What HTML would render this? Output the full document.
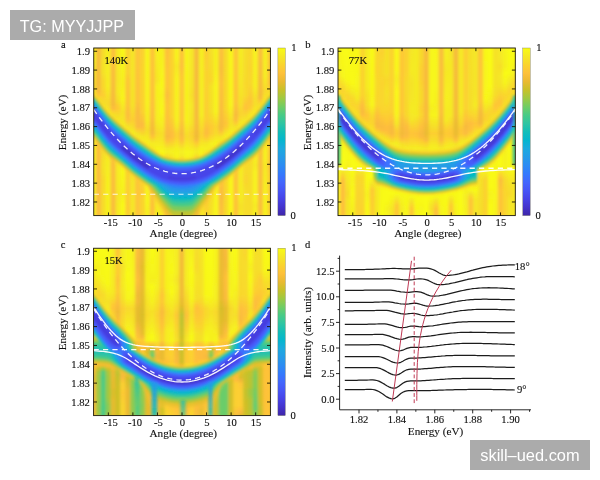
<!DOCTYPE html>
<html><head><meta charset="utf-8"><title>figure</title>
<style>
html,body{margin:0;padding:0;background:#fff;}
body{width:600px;height:480px;position:relative;overflow:hidden;}
svg{position:absolute;left:0;top:0;display:block;}
.t{font-family:"Liberation Serif",serif;font-size:10.6px;fill:#111;stroke:#111;stroke-width:.13px;}
.l{font-family:"Liberation Serif",serif;font-size:11.2px;fill:#111;stroke:#111;stroke-width:.12px;}
.dw{stroke:#fff;stroke-width:1.3;fill:none;stroke-dasharray:5.2 4.2;opacity:.92;}
.sw{stroke:#fff;stroke-width:1.3;fill:none;opacity:.95;}
.k{stroke:#1c1c1c;stroke-width:1.25;fill:none;stroke-linejoin:round;}
.r{stroke:#c03a55;stroke-width:1;fill:none;}
.wm{position:absolute;background:#ababab;color:#fff;font-family:"Liberation Sans",sans-serif;white-space:nowrap;}
#w1{left:10px;top:10px;width:125px;height:30px;font-size:16.2px;line-height:30px;}
#w1 span{position:absolute;left:9.7px;top:0.5px;}
#w2{left:470px;top:440px;width:120px;height:30px;font-size:16.4px;line-height:30px;}
#w2 span{position:absolute;left:10.3px;top:0px;}
</style></head><body>
<svg width="600" height="480" viewBox="0 0 600 480">
<defs><linearGradient id="cbar" x1="0" y1="0" x2="0" y2="1"><stop offset="0" stop-color="#f9fb15"/><stop offset="0.05" stop-color="#f5e825"/><stop offset="0.1" stop-color="#fad42e"/><stop offset="0.15" stop-color="#fec13a"/><stop offset="0.2" stop-color="#eaba31"/><stop offset="0.25" stop-color="#c8c129"/><stop offset="0.3" stop-color="#9fc942"/><stop offset="0.35" stop-color="#71cd64"/><stop offset="0.4" stop-color="#48cb86"/><stop offset="0.45" stop-color="#2fc5a2"/><stop offset="0.5" stop-color="#12beb9"/><stop offset="0.55" stop-color="#05b6ce"/><stop offset="0.6" stop-color="#1caadf"/><stop offset="0.65" stop-color="#259ce7"/><stop offset="0.7" stop-color="#2d8cf3"/><stop offset="0.75" stop-color="#347afd"/><stop offset="0.8" stop-color="#4367fd"/><stop offset="0.85" stop-color="#4755f6"/><stop offset="0.9" stop-color="#4743e7"/><stop offset="0.95" stop-color="#4433cc"/><stop offset="1" stop-color="#3e26a8"/></linearGradient>
<filter id="hb" x="-5%" y="-5%" width="110%" height="110%"><feGaussianBlur stdDeviation="1.5 0.6"/></filter><filter id="pb" x="-5%" y="-5%" width="110%" height="110%"><feGaussianBlur stdDeviation="0.9"/></filter><filter id="sb" x="-20%" y="-5%" width="140%" height="110%"><feGaussianBlur stdDeviation="1.6 1.2"/></filter></defs>
<defs><linearGradient id="a0" x1="0" y1="0" x2="0" y2="1"><stop offset="0" stop-color="#f7f41c"/><stop offset="0.06" stop-color="#f7f41c"/><stop offset="0.13" stop-color="#f5e924"/><stop offset="0.21" stop-color="#f7db2b"/><stop offset="0.32" stop-color="#f6f21d"/><stop offset="1" stop-color="#f7f41c"/></linearGradient><linearGradient id="a1" x1="0" y1="0" x2="0" y2="1"><stop offset="0" stop-color="#f7f41c"/><stop offset="0.06" stop-color="#f7f41c"/><stop offset="0.13" stop-color="#f5e924"/><stop offset="0.21" stop-color="#f7db2b"/><stop offset="0.32" stop-color="#f6f21d"/><stop offset="1" stop-color="#f7f41c"/></linearGradient><linearGradient id="a2" x1="0" y1="0" x2="0" y2="1"><stop offset="0" stop-color="#f7f41c"/><stop offset="0.06" stop-color="#f7f41c"/><stop offset="0.13" stop-color="#f5e924"/><stop offset="0.21" stop-color="#f7db2b"/><stop offset="0.32" stop-color="#f6f21d"/><stop offset="1" stop-color="#f7f41c"/></linearGradient><linearGradient id="a3" x1="0" y1="0" x2="0" y2="1"><stop offset="0" stop-color="#f7ba3c"/><stop offset="0.21" stop-color="#f5ba3b"/><stop offset="0.26" stop-color="#f8ba3d"/><stop offset="0.28" stop-color="#fec537"/><stop offset="0.3" stop-color="#f8da2b"/><stop offset="0.32" stop-color="#f5e526"/><stop offset="0.34" stop-color="#f6dd29"/><stop offset="0.38" stop-color="#febf3c"/><stop offset="0.89" stop-color="#f9bb3d"/><stop offset="1" stop-color="#fabb3d"/></linearGradient><linearGradient id="a4" x1="0" y1="0" x2="0" y2="1"><stop offset="0" stop-color="#f7db2a"/><stop offset="0.04" stop-color="#f7dd2a"/><stop offset="0.11" stop-color="#f5e227"/><stop offset="0.15" stop-color="#f5e128"/><stop offset="0.19" stop-color="#f9d82c"/><stop offset="0.23" stop-color="#f9d72c"/><stop offset="0.28" stop-color="#fdce31"/><stop offset="0.32" stop-color="#f7db2b"/><stop offset="0.36" stop-color="#f5ec22"/><stop offset="0.51" stop-color="#f5e227"/><stop offset="0.62" stop-color="#f7dc2a"/><stop offset="0.7" stop-color="#f5e227"/><stop offset="0.74" stop-color="#f6e028"/><stop offset="0.79" stop-color="#f9d82c"/><stop offset="0.98" stop-color="#f7dd2a"/><stop offset="1" stop-color="#f7db2a"/></linearGradient><linearGradient id="a5" x1="0" y1="0" x2="0" y2="1"><stop offset="0" stop-color="#f6f21e"/><stop offset="0.19" stop-color="#f5ed22"/><stop offset="0.23" stop-color="#f5ee21"/><stop offset="0.32" stop-color="#f7db2b"/><stop offset="0.34" stop-color="#f7db2b"/><stop offset="0.4" stop-color="#f6f21d"/><stop offset="0.7" stop-color="#f5ee21"/><stop offset="0.81" stop-color="#f6f21e"/><stop offset="1" stop-color="#f6f21e"/></linearGradient><linearGradient id="a6" x1="0" y1="0" x2="0" y2="1"><stop offset="0" stop-color="#fdbd3d"/><stop offset="0.3" stop-color="#f7ba3c"/><stop offset="0.34" stop-color="#f6ba3b"/><stop offset="0.36" stop-color="#fcbc3d"/><stop offset="0.38" stop-color="#fcd030"/><stop offset="0.4" stop-color="#f5e327"/><stop offset="0.43" stop-color="#f5e725"/><stop offset="0.49" stop-color="#fec338"/><stop offset="0.6" stop-color="#fdbd3d"/><stop offset="1" stop-color="#f9bb3d"/></linearGradient><linearGradient id="a7" x1="0" y1="0" x2="0" y2="1"><stop offset="0" stop-color="#f5e924"/><stop offset="0.19" stop-color="#f5e626"/><stop offset="0.26" stop-color="#f5e924"/><stop offset="0.32" stop-color="#f6dd29"/><stop offset="0.34" stop-color="#fccf30"/><stop offset="0.36" stop-color="#feca33"/><stop offset="0.4" stop-color="#f7db2a"/><stop offset="0.45" stop-color="#f5ef20"/><stop offset="0.83" stop-color="#f5ea24"/><stop offset="0.87" stop-color="#f5e526"/><stop offset="0.96" stop-color="#f5ea24"/><stop offset="1" stop-color="#f5ea24"/></linearGradient><linearGradient id="a8" x1="0" y1="0" x2="0" y2="1"><stop offset="0" stop-color="#f9fa16"/><stop offset="0.21" stop-color="#f6f01f"/><stop offset="0.3" stop-color="#f8f619"/><stop offset="0.38" stop-color="#f5e228"/><stop offset="0.43" stop-color="#f5e526"/><stop offset="0.49" stop-color="#f8f719"/><stop offset="0.74" stop-color="#f8f917"/><stop offset="0.87" stop-color="#f6f11e"/><stop offset="0.94" stop-color="#f9fa16"/><stop offset="1" stop-color="#f8f917"/></linearGradient><linearGradient id="a9" x1="0" y1="0" x2="0" y2="1"><stop offset="0" stop-color="#fccf30"/><stop offset="0.15" stop-color="#fccf30"/><stop offset="0.19" stop-color="#fec537"/><stop offset="0.34" stop-color="#fec239"/><stop offset="0.4" stop-color="#fdbd3d"/><stop offset="0.43" stop-color="#fec338"/><stop offset="0.47" stop-color="#f5e427"/><stop offset="0.49" stop-color="#f5ec22"/><stop offset="0.53" stop-color="#f6e028"/><stop offset="0.57" stop-color="#fbd22f"/><stop offset="0.89" stop-color="#fdcd32"/><stop offset="0.96" stop-color="#fec934"/><stop offset="1" stop-color="#fccf30"/></linearGradient><linearGradient id="a10" x1="0" y1="0" x2="0" y2="1"><stop offset="0" stop-color="#f5e626"/><stop offset="0.34" stop-color="#f5e327"/><stop offset="0.43" stop-color="#fccf30"/><stop offset="0.47" stop-color="#f7dc2a"/><stop offset="0.51" stop-color="#f6f01f"/><stop offset="0.66" stop-color="#f5e227"/><stop offset="0.7" stop-color="#f6dd29"/><stop offset="0.74" stop-color="#f5e626"/><stop offset="1" stop-color="#f5e626"/></linearGradient><linearGradient id="a11" x1="0" y1="0" x2="0" y2="1"><stop offset="0" stop-color="#fec537"/><stop offset="0.32" stop-color="#fec239"/><stop offset="0.38" stop-color="#fabb3d"/><stop offset="0.47" stop-color="#fcbc3d"/><stop offset="0.49" stop-color="#fdcd31"/><stop offset="0.51" stop-color="#f5e228"/><stop offset="0.53" stop-color="#f5ec22"/><stop offset="0.55" stop-color="#f5e725"/><stop offset="0.6" stop-color="#fdce31"/><stop offset="0.66" stop-color="#fec537"/><stop offset="1" stop-color="#fec537"/></linearGradient><linearGradient id="a12" x1="0" y1="0" x2="0" y2="1"><stop offset="0" stop-color="#fccf31"/><stop offset="0.15" stop-color="#fbd32e"/><stop offset="0.38" stop-color="#fccf30"/><stop offset="0.45" stop-color="#fcbc3d"/><stop offset="0.47" stop-color="#fdbd3d"/><stop offset="0.51" stop-color="#f9d72c"/><stop offset="0.53" stop-color="#f5e825"/><stop offset="0.55" stop-color="#f5ef20"/><stop offset="0.68" stop-color="#feca33"/><stop offset="0.72" stop-color="#fccf30"/><stop offset="0.81" stop-color="#fbd32e"/><stop offset="0.87" stop-color="#fdcb33"/><stop offset="0.91" stop-color="#fbd32e"/><stop offset="1" stop-color="#fbd32e"/></linearGradient><linearGradient id="a13" x1="0" y1="0" x2="0" y2="1"><stop offset="0" stop-color="#f7f61a"/><stop offset="0.32" stop-color="#f7f31d"/><stop offset="0.43" stop-color="#f5ec22"/><stop offset="0.49" stop-color="#f6dd29"/><stop offset="0.6" stop-color="#f8f719"/><stop offset="0.91" stop-color="#f7f61a"/><stop offset="0.98" stop-color="#f6f020"/><stop offset="1" stop-color="#f6f01f"/></linearGradient><linearGradient id="a14" x1="0" y1="0" x2="0" y2="1"><stop offset="0" stop-color="#fec239"/><stop offset="0.3" stop-color="#fec03b"/><stop offset="0.4" stop-color="#fdbd3d"/><stop offset="0.49" stop-color="#f4ba39"/><stop offset="0.51" stop-color="#f7ba3c"/><stop offset="0.53" stop-color="#fec338"/><stop offset="0.55" stop-color="#f7db2b"/><stop offset="0.57" stop-color="#f5eb23"/><stop offset="0.6" stop-color="#f5eb23"/><stop offset="0.66" stop-color="#fec835"/><stop offset="0.79" stop-color="#fec239"/><stop offset="1" stop-color="#febe3c"/></linearGradient><linearGradient id="a15" x1="0" y1="0" x2="0" y2="1"><stop offset="0" stop-color="#f6f11e"/><stop offset="0.19" stop-color="#f5e625"/><stop offset="0.23" stop-color="#f6f11e"/><stop offset="0.43" stop-color="#f5ed22"/><stop offset="0.51" stop-color="#f8d92c"/><stop offset="0.6" stop-color="#f7f31d"/><stop offset="0.74" stop-color="#f6f020"/><stop offset="0.79" stop-color="#f5e725"/><stop offset="0.89" stop-color="#f5ec22"/><stop offset="1" stop-color="#f6f11e"/></linearGradient><linearGradient id="a16" x1="0" y1="0" x2="0" y2="1"><stop offset="0" stop-color="#f5ef20"/><stop offset="0.21" stop-color="#f8f818"/><stop offset="0.28" stop-color="#f7f31d"/><stop offset="0.38" stop-color="#f8f818"/><stop offset="0.47" stop-color="#f5eb23"/><stop offset="0.51" stop-color="#f6e028"/><stop offset="0.55" stop-color="#f5e526"/><stop offset="0.62" stop-color="#f8f719"/><stop offset="0.89" stop-color="#f8f818"/><stop offset="0.96" stop-color="#f5ee21"/><stop offset="1" stop-color="#f6f01f"/></linearGradient><linearGradient id="a17" x1="0" y1="0" x2="0" y2="1"><stop offset="0" stop-color="#febf3c"/><stop offset="0.15" stop-color="#fec537"/><stop offset="0.23" stop-color="#fec537"/><stop offset="0.28" stop-color="#fdbd3d"/><stop offset="0.34" stop-color="#fec537"/><stop offset="0.45" stop-color="#febf3b"/><stop offset="0.53" stop-color="#f8ba3d"/><stop offset="0.55" stop-color="#febf3b"/><stop offset="0.6" stop-color="#f5e825"/><stop offset="0.62" stop-color="#f5ee21"/><stop offset="0.66" stop-color="#f8d92b"/><stop offset="0.7" stop-color="#fec735"/><stop offset="1" stop-color="#fec239"/></linearGradient><linearGradient id="a18" x1="0" y1="0" x2="0" y2="1"><stop offset="0" stop-color="#fcd12f"/><stop offset="0.04" stop-color="#fcd12f"/><stop offset="0.4" stop-color="#fbd32f"/><stop offset="0.51" stop-color="#febd3c"/><stop offset="0.53" stop-color="#febe3c"/><stop offset="0.55" stop-color="#fec735"/><stop offset="0.6" stop-color="#f5e924"/><stop offset="0.62" stop-color="#f6f11f"/><stop offset="0.66" stop-color="#f5e526"/><stop offset="0.7" stop-color="#f9d62d"/><stop offset="1" stop-color="#fbd32e"/></linearGradient><linearGradient id="a19" x1="0" y1="0" x2="0" y2="1"><stop offset="0" stop-color="#f7f41c"/><stop offset="0.06" stop-color="#f7f41c"/><stop offset="0.11" stop-color="#f5ea24"/><stop offset="0.19" stop-color="#f7f41c"/><stop offset="0.43" stop-color="#f6f21e"/><stop offset="0.47" stop-color="#f5e825"/><stop offset="0.51" stop-color="#fad42e"/><stop offset="0.53" stop-color="#fbd32e"/><stop offset="0.6" stop-color="#f6f01f"/><stop offset="0.66" stop-color="#f8f719"/><stop offset="1" stop-color="#f7f41c"/></linearGradient><linearGradient id="a20" x1="0" y1="0" x2="0" y2="1"><stop offset="0" stop-color="#fec338"/><stop offset="0.11" stop-color="#febe3c"/><stop offset="0.17" stop-color="#fec636"/><stop offset="0.43" stop-color="#fec438"/><stop offset="0.51" stop-color="#f7ba3c"/><stop offset="0.55" stop-color="#febe3c"/><stop offset="0.6" stop-color="#f5e626"/><stop offset="0.62" stop-color="#f6f020"/><stop offset="0.64" stop-color="#f5eb23"/><stop offset="0.68" stop-color="#fcd12f"/><stop offset="0.77" stop-color="#fec03a"/><stop offset="0.87" stop-color="#fec03b"/><stop offset="0.94" stop-color="#fec636"/><stop offset="1" stop-color="#fec636"/></linearGradient><linearGradient id="a21" x1="0" y1="0" x2="0" y2="1"><stop offset="0" stop-color="#f7f51b"/><stop offset="0.34" stop-color="#f6f21e"/><stop offset="0.43" stop-color="#f7f31d"/><stop offset="0.53" stop-color="#f7dc2a"/><stop offset="0.62" stop-color="#f7f61a"/><stop offset="1" stop-color="#f7f51b"/></linearGradient><linearGradient id="a22" x1="0" y1="0" x2="0" y2="1"><stop offset="0" stop-color="#f5e825"/><stop offset="0.23" stop-color="#f5e526"/><stop offset="0.28" stop-color="#f6df29"/><stop offset="0.34" stop-color="#f5e825"/><stop offset="0.45" stop-color="#f5e327"/><stop offset="0.51" stop-color="#fcd030"/><stop offset="0.55" stop-color="#f9d72d"/><stop offset="0.62" stop-color="#f7f41c"/><stop offset="0.74" stop-color="#f5e825"/><stop offset="0.91" stop-color="#f5e725"/><stop offset="0.94" stop-color="#f6de29"/><stop offset="0.98" stop-color="#f5e327"/><stop offset="1" stop-color="#f5e825"/></linearGradient><linearGradient id="a23" x1="0" y1="0" x2="0" y2="1"><stop offset="0" stop-color="#f7ba3c"/><stop offset="0.45" stop-color="#f7ba3c"/><stop offset="0.53" stop-color="#f0ba36"/><stop offset="0.55" stop-color="#f8ba3d"/><stop offset="0.57" stop-color="#fdcc32"/><stop offset="0.6" stop-color="#f5e427"/><stop offset="0.62" stop-color="#f5ec22"/><stop offset="0.64" stop-color="#f5e227"/><stop offset="0.68" stop-color="#fec239"/><stop offset="0.72" stop-color="#f9bb3d"/><stop offset="1" stop-color="#f7ba3c"/></linearGradient><linearGradient id="a24" x1="0" y1="0" x2="0" y2="1"><stop offset="0" stop-color="#f6f01f"/><stop offset="0.4" stop-color="#f5ee21"/><stop offset="0.51" stop-color="#fad42e"/><stop offset="0.53" stop-color="#fad62d"/><stop offset="0.6" stop-color="#f6f21e"/><stop offset="0.64" stop-color="#f7f51b"/><stop offset="0.7" stop-color="#f5ea24"/><stop offset="0.79" stop-color="#f6f01f"/><stop offset="0.87" stop-color="#f5e924"/><stop offset="0.94" stop-color="#f6f01f"/><stop offset="1" stop-color="#f6f01f"/></linearGradient><linearGradient id="a25" x1="0" y1="0" x2="0" y2="1"><stop offset="0" stop-color="#fcd030"/><stop offset="0.02" stop-color="#fdcd32"/><stop offset="0.17" stop-color="#fbd22f"/><stop offset="0.43" stop-color="#fdcd32"/><stop offset="0.49" stop-color="#fdbd3d"/><stop offset="0.51" stop-color="#fdbd3d"/><stop offset="0.53" stop-color="#fec537"/><stop offset="0.57" stop-color="#f5e725"/><stop offset="0.6" stop-color="#f6ef20"/><stop offset="0.64" stop-color="#f5e327"/><stop offset="0.68" stop-color="#fad42e"/><stop offset="1" stop-color="#fbd22f"/></linearGradient><linearGradient id="a26" x1="0" y1="0" x2="0" y2="1"><stop offset="0" stop-color="#f6e128"/><stop offset="0.13" stop-color="#f8da2b"/><stop offset="0.19" stop-color="#fad52d"/><stop offset="0.23" stop-color="#f6e128"/><stop offset="0.38" stop-color="#f6de29"/><stop offset="0.47" stop-color="#feca33"/><stop offset="0.51" stop-color="#fdcc32"/><stop offset="0.57" stop-color="#f6ef20"/><stop offset="0.62" stop-color="#f5ee21"/><stop offset="0.68" stop-color="#f5e128"/><stop offset="0.74" stop-color="#f6e028"/><stop offset="0.79" stop-color="#f9d82c"/><stop offset="0.96" stop-color="#f6e128"/><stop offset="1" stop-color="#f6e128"/></linearGradient><linearGradient id="a27" x1="0" y1="0" x2="0" y2="1"><stop offset="0" stop-color="#f6f11f"/><stop offset="0.13" stop-color="#f6f21e"/><stop offset="0.23" stop-color="#f8f61a"/><stop offset="0.38" stop-color="#f7f41c"/><stop offset="0.47" stop-color="#f9d62d"/><stop offset="0.51" stop-color="#f7dc2a"/><stop offset="0.57" stop-color="#f7f41c"/><stop offset="0.7" stop-color="#f6f11e"/><stop offset="0.83" stop-color="#f8f61a"/><stop offset="1" stop-color="#f8f61a"/></linearGradient><linearGradient id="a28" x1="0" y1="0" x2="0" y2="1"><stop offset="0" stop-color="#febf3c"/><stop offset="0.13" stop-color="#f9bb3d"/><stop offset="0.21" stop-color="#febf3c"/><stop offset="0.4" stop-color="#f9bb3d"/><stop offset="0.47" stop-color="#f5ba3b"/><stop offset="0.49" stop-color="#fabb3d"/><stop offset="0.51" stop-color="#fdcd31"/><stop offset="0.53" stop-color="#f5e327"/><stop offset="0.55" stop-color="#f5eb23"/><stop offset="0.57" stop-color="#f5e427"/><stop offset="0.62" stop-color="#fec835"/><stop offset="0.68" stop-color="#febf3c"/><stop offset="0.83" stop-color="#febe3c"/><stop offset="0.89" stop-color="#f9ba3d"/><stop offset="1" stop-color="#febf3c"/></linearGradient><linearGradient id="a29" x1="0" y1="0" x2="0" y2="1"><stop offset="0" stop-color="#f7db2a"/><stop offset="0.36" stop-color="#f9d82c"/><stop offset="0.45" stop-color="#fec537"/><stop offset="0.47" stop-color="#fdcb33"/><stop offset="0.51" stop-color="#f5e725"/><stop offset="0.53" stop-color="#f6ef20"/><stop offset="0.57" stop-color="#f5e725"/><stop offset="0.6" stop-color="#f8d92b"/><stop offset="0.62" stop-color="#fbd32f"/><stop offset="0.7" stop-color="#f7db2a"/><stop offset="0.83" stop-color="#fad52d"/><stop offset="1" stop-color="#f7db2a"/></linearGradient><linearGradient id="a30" x1="0" y1="0" x2="0" y2="1"><stop offset="0" stop-color="#f8f817"/><stop offset="0.34" stop-color="#f7f61a"/><stop offset="0.43" stop-color="#f6e128"/><stop offset="0.47" stop-color="#f5e526"/><stop offset="0.53" stop-color="#f8f719"/><stop offset="1" stop-color="#f8f817"/></linearGradient><linearGradient id="a31" x1="0" y1="0" x2="0" y2="1"><stop offset="0" stop-color="#fec537"/><stop offset="0.32" stop-color="#fec339"/><stop offset="0.4" stop-color="#f8ba3d"/><stop offset="0.43" stop-color="#fcbd3d"/><stop offset="0.45" stop-color="#fdcd32"/><stop offset="0.47" stop-color="#f5e128"/><stop offset="0.49" stop-color="#f5eb23"/><stop offset="0.51" stop-color="#f5e625"/><stop offset="0.55" stop-color="#fdce31"/><stop offset="0.62" stop-color="#fec537"/><stop offset="0.72" stop-color="#fec437"/><stop offset="0.98" stop-color="#fec139"/><stop offset="1" stop-color="#febe3c"/></linearGradient><linearGradient id="a32" x1="0" y1="0" x2="0" y2="1"><stop offset="0" stop-color="#f5ed22"/><stop offset="0.21" stop-color="#f5e825"/><stop offset="0.34" stop-color="#f6e028"/><stop offset="0.38" stop-color="#fad52e"/><stop offset="0.4" stop-color="#fad62d"/><stop offset="0.47" stop-color="#f6f020"/><stop offset="0.55" stop-color="#f5e725"/><stop offset="0.64" stop-color="#f5ec22"/><stop offset="0.89" stop-color="#f5ed22"/><stop offset="0.94" stop-color="#f5e327"/><stop offset="0.96" stop-color="#f5e327"/><stop offset="1" stop-color="#f5ed22"/></linearGradient><linearGradient id="a33" x1="0" y1="0" x2="0" y2="1"><stop offset="0" stop-color="#f7dd2a"/><stop offset="0.15" stop-color="#f7db2b"/><stop offset="0.21" stop-color="#f9d82c"/><stop offset="0.28" stop-color="#f8da2b"/><stop offset="0.34" stop-color="#fec537"/><stop offset="0.36" stop-color="#fec338"/><stop offset="0.43" stop-color="#f5e725"/><stop offset="0.45" stop-color="#f5ee21"/><stop offset="0.49" stop-color="#f5e626"/><stop offset="0.53" stop-color="#fad42e"/><stop offset="0.6" stop-color="#f7dd2a"/><stop offset="0.74" stop-color="#f8d92c"/><stop offset="0.79" stop-color="#fad42e"/><stop offset="0.85" stop-color="#f7dd2a"/><stop offset="1" stop-color="#f7dd2a"/></linearGradient><linearGradient id="a34" x1="0" y1="0" x2="0" y2="1"><stop offset="0" stop-color="#f9d82c"/><stop offset="0.13" stop-color="#fbd32e"/><stop offset="0.21" stop-color="#f9d72d"/><stop offset="0.32" stop-color="#fec437"/><stop offset="0.36" stop-color="#fdcd31"/><stop offset="0.4" stop-color="#f5e825"/><stop offset="0.43" stop-color="#f5ee21"/><stop offset="0.53" stop-color="#f8da2b"/><stop offset="1" stop-color="#f7dd2a"/></linearGradient><linearGradient id="a35" x1="0" y1="0" x2="0" y2="1"><stop offset="0" stop-color="#f7f41c"/><stop offset="0.23" stop-color="#f6f01f"/><stop offset="0.3" stop-color="#f6e029"/><stop offset="0.34" stop-color="#f6df29"/><stop offset="0.4" stop-color="#f7f31d"/><stop offset="0.66" stop-color="#f7f41c"/><stop offset="0.7" stop-color="#f5eb23"/><stop offset="0.74" stop-color="#f7f41c"/><stop offset="0.91" stop-color="#f7f31d"/><stop offset="0.94" stop-color="#f5eb23"/><stop offset="1" stop-color="#f7f41c"/></linearGradient><linearGradient id="a36" x1="0" y1="0" x2="0" y2="1"><stop offset="0" stop-color="#fcbc3d"/><stop offset="0.28" stop-color="#f6ba3b"/><stop offset="0.3" stop-color="#f9bb3d"/><stop offset="0.32" stop-color="#fdcc32"/><stop offset="0.34" stop-color="#f6e029"/><stop offset="0.36" stop-color="#f5e626"/><stop offset="0.38" stop-color="#f6dd29"/><stop offset="0.43" stop-color="#febe3c"/><stop offset="0.47" stop-color="#f9bb3d"/><stop offset="1" stop-color="#fcbc3d"/></linearGradient><linearGradient id="a37" x1="0" y1="0" x2="0" y2="1"><stop offset="0" stop-color="#f6f21e"/><stop offset="0.17" stop-color="#f5ee21"/><stop offset="0.26" stop-color="#f8da2b"/><stop offset="0.34" stop-color="#f6f21e"/><stop offset="0.66" stop-color="#f6f21e"/><stop offset="0.7" stop-color="#f5ea24"/><stop offset="0.89" stop-color="#f6f21e"/><stop offset="1" stop-color="#f6f21e"/></linearGradient><linearGradient id="a38" x1="0" y1="0" x2="0" y2="1"><stop offset="0" stop-color="#fec636"/><stop offset="0.17" stop-color="#fec03a"/><stop offset="0.21" stop-color="#fec03b"/><stop offset="0.28" stop-color="#f5e626"/><stop offset="0.32" stop-color="#f6de29"/><stop offset="0.36" stop-color="#fccf30"/><stop offset="0.7" stop-color="#fec339"/><stop offset="0.77" stop-color="#fdcc32"/><stop offset="1" stop-color="#fdcc32"/></linearGradient><linearGradient id="a39" x1="0" y1="0" x2="0" y2="1"><stop offset="0" stop-color="#fec636"/><stop offset="0.17" stop-color="#fec03a"/><stop offset="0.21" stop-color="#fec03b"/><stop offset="0.28" stop-color="#f5e626"/><stop offset="0.32" stop-color="#f6de29"/><stop offset="0.36" stop-color="#fccf30"/><stop offset="0.7" stop-color="#fec339"/><stop offset="0.77" stop-color="#fdcc32"/><stop offset="1" stop-color="#fdcc32"/></linearGradient><linearGradient id="a40" x1="0" y1="0" x2="0" y2="1"><stop offset="0" stop-color="#fec636"/><stop offset="0.17" stop-color="#fec03a"/><stop offset="0.21" stop-color="#fec03b"/><stop offset="0.28" stop-color="#f5e626"/><stop offset="0.32" stop-color="#f6de29"/><stop offset="0.36" stop-color="#fccf30"/><stop offset="0.7" stop-color="#fec339"/><stop offset="0.77" stop-color="#fdcc32"/><stop offset="1" stop-color="#fdcc32"/></linearGradient><clipPath id="cpa"><rect x="93.75" y="48" width="176.65" height="167.6"/></clipPath></defs>
<g clip-path="url(#cpa)"><g filter="url(#hb)"><rect x="81.18" y="48" width="5.51" height="167.6" fill="url(#a0)"/><rect x="86.09" y="48" width="5.51" height="167.6" fill="url(#a1)"/><rect x="91" y="48" width="5.51" height="167.6" fill="url(#a2)"/><rect x="95.9" y="48" width="5.51" height="167.6" fill="url(#a3)"/><rect x="100.81" y="48" width="5.51" height="167.6" fill="url(#a4)"/><rect x="105.72" y="48" width="5.51" height="167.6" fill="url(#a5)"/><rect x="110.62" y="48" width="5.51" height="167.6" fill="url(#a6)"/><rect x="115.53" y="48" width="5.51" height="167.6" fill="url(#a7)"/><rect x="120.44" y="48" width="5.51" height="167.6" fill="url(#a8)"/><rect x="125.35" y="48" width="5.51" height="167.6" fill="url(#a9)"/><rect x="130.25" y="48" width="5.51" height="167.6" fill="url(#a10)"/><rect x="135.16" y="48" width="5.51" height="167.6" fill="url(#a11)"/><rect x="140.07" y="48" width="5.51" height="167.6" fill="url(#a12)"/><rect x="144.97" y="48" width="5.51" height="167.6" fill="url(#a13)"/><rect x="149.88" y="48" width="5.51" height="167.6" fill="url(#a14)"/><rect x="154.79" y="48" width="5.51" height="167.6" fill="url(#a15)"/><rect x="159.69" y="48" width="5.51" height="167.6" fill="url(#a16)"/><rect x="164.6" y="48" width="5.51" height="167.6" fill="url(#a17)"/><rect x="169.51" y="48" width="5.51" height="167.6" fill="url(#a18)"/><rect x="174.41" y="48" width="5.51" height="167.6" fill="url(#a19)"/><rect x="179.32" y="48" width="5.51" height="167.6" fill="url(#a20)"/><rect x="184.23" y="48" width="5.51" height="167.6" fill="url(#a21)"/><rect x="189.14" y="48" width="5.51" height="167.6" fill="url(#a22)"/><rect x="194.04" y="48" width="5.51" height="167.6" fill="url(#a23)"/><rect x="198.95" y="48" width="5.51" height="167.6" fill="url(#a24)"/><rect x="203.86" y="48" width="5.51" height="167.6" fill="url(#a25)"/><rect x="208.76" y="48" width="5.51" height="167.6" fill="url(#a26)"/><rect x="213.67" y="48" width="5.51" height="167.6" fill="url(#a27)"/><rect x="218.58" y="48" width="5.51" height="167.6" fill="url(#a28)"/><rect x="223.48" y="48" width="5.51" height="167.6" fill="url(#a29)"/><rect x="228.39" y="48" width="5.51" height="167.6" fill="url(#a30)"/><rect x="233.3" y="48" width="5.51" height="167.6" fill="url(#a31)"/><rect x="238.2" y="48" width="5.51" height="167.6" fill="url(#a32)"/><rect x="243.11" y="48" width="5.51" height="167.6" fill="url(#a33)"/><rect x="248.02" y="48" width="5.51" height="167.6" fill="url(#a34)"/><rect x="252.93" y="48" width="5.51" height="167.6" fill="url(#a35)"/><rect x="257.83" y="48" width="5.51" height="167.6" fill="url(#a36)"/><rect x="262.74" y="48" width="5.51" height="167.6" fill="url(#a37)"/><rect x="267.65" y="48" width="5.51" height="167.6" fill="url(#a38)"/><rect x="272.55" y="48" width="5.51" height="167.6" fill="url(#a39)"/><rect x="277.46" y="48" width="5.51" height="167.6" fill="url(#a40)"/></g>
<g filter="url(#pb)"><path d="M88.8 89.9L92.5 89.9L96.2 93.4L99.9 98.5L103.6 103.4L107.2 107.8L110.9 111.8L114.6 115.4L118.3 118.7L122 121.9L125.6 125.1L129.3 128.3L133 131.4L136.7 134.2L140.4 136.9L144 139.4L147.7 142.3L151.4 145.4L155.1 148.4L158.8 151.2L162.4 153.3L166.1 154.6L169.8 155.5L173.5 156.1L177.2 156.5L180.8 156.7L184.5 156.7L188.2 156.4L191.9 155.9L195.6 155.2L199.2 154.3L202.9 152.7L206.6 150.3L210.3 147.4L214 144.3L217.7 141.3L221.3 138.6L225 136L228.7 133.3L232.4 130.4L236.1 127.2L239.7 124L243.4 120.9L247.1 117.6L250.8 114.2L254.5 110.5L258.1 106.4L261.8 101.8L265.5 96.8L269.2 91.7L272.9 89.9L276.5 89.9L276.5 142.1L272.9 142.1L269.2 143.9L265.5 149.1L261.8 154L258.1 158.4L254.5 161.7L250.8 164.2L247.1 166.4L243.4 168.8L239.7 171.8L236.1 175L232.4 178.1L228.7 181L225 183.8L221.3 186.4L217.7 189.7L214 197.8L210.3 205.6L206.6 213.2L202.9 220.5L199.2 227.5L195.6 234.2L191.9 240.6L188.2 241.1L184.5 241.3L180.8 241.4L177.2 241.2L173.5 240.8L169.8 236.3L166.1 229.8L162.4 222.9L158.8 215.6L155.1 208.1L151.4 200.4L147.7 192.4L144 187.3L140.4 184.6L136.7 182L133 179.1L129.3 176L125.6 172.8L122 169.7L118.3 167.2L114.6 164.9L110.9 162.6L107.2 159.6L103.6 155.6L99.9 150.7L96.2 145.6L92.5 142.1L88.8 142.1Z" fill="#f9d72c" fill-opacity="0.12"/><path d="M88.8 92.6L92.5 92.6L96.2 96.1L99.9 101.2L103.6 106L107.2 110.5L110.9 114.5L114.6 118.1L118.3 121.4L122 124.6L125.6 127.8L129.3 131L133 134.1L136.7 136.9L140.4 139.6L144 142.1L147.7 144.9L151.4 147.8L155.1 150.6L158.8 153.2L162.4 155.2L166.1 156.5L169.8 157.3L173.5 158L177.2 158.4L180.8 158.6L184.5 158.5L188.2 158.3L191.9 157.8L195.6 157.1L199.2 156.1L202.9 154.6L206.6 152.4L210.3 149.7L214 146.8L217.7 143.9L221.3 141.3L225 138.7L228.7 136L232.4 133.1L236.1 129.9L239.7 126.7L243.4 123.5L247.1 120.3L250.8 116.9L254.5 113.2L258.1 109.1L261.8 104.4L265.5 99.5L269.2 94.3L272.9 92.6L276.5 92.6L276.5 138.6L272.9 138.6L269.2 140.4L265.5 145.6L261.8 150.5L258.1 155L254.5 158.4L250.8 161.1L247.1 163.5L243.4 166.1L239.7 169.1L236.1 172.3L232.4 175.4L228.7 178.4L225 181.1L221.3 183.7L217.7 186.3L214 191.8L210.3 198.5L206.6 204.9L202.9 211.1L199.2 217L195.6 222.6L191.9 227.9L188.2 228.3L184.5 228.6L180.8 228.6L177.2 228.5L173.5 228L169.8 224.4L166.1 218.9L162.4 213.1L158.8 207L155.1 200.6L151.4 194L147.7 187.2L144 184.6L140.4 182L136.7 179.3L133 176.4L129.3 173.3L125.6 170.1L122 167L118.3 164.3L114.6 161.9L110.9 159.4L107.2 156.2L103.6 152.1L99.9 147.2L96.2 142.2L92.5 138.6L88.8 138.6Z" fill="#febf3b" fill-opacity="0.36"/><path d="M88.8 93.9L92.5 93.9L96.2 97.4L99.9 102.5L103.6 107.4L107.2 111.8L110.9 115.8L114.6 119.4L118.3 122.7L122 125.9L125.6 129.1L129.3 132.3L133 135.4L136.7 138.2L140.4 140.9L144 143.4L147.7 146.1L151.4 149L155.1 151.7L158.8 154.2L162.4 156.1L166.1 157.4L169.8 158.3L173.5 158.9L177.2 159.3L180.8 159.5L184.5 159.5L188.2 159.2L191.9 158.7L195.6 158L199.2 157L202.9 155.5L206.6 153.4L210.3 150.8L214 148L217.7 145.2L221.3 142.6L225 140L228.7 137.3L232.4 134.4L236.1 131.2L239.7 128L243.4 124.9L247.1 121.6L250.8 118.2L254.5 114.5L258.1 110.4L261.8 105.8L265.5 100.8L269.2 95.7L272.9 93.9L276.5 93.9L276.5 136.9L272.9 136.9L269.2 138.7L265.5 143.8L261.8 148.8L258.1 153.3L254.5 156.8L250.8 159.6L247.1 162.1L243.4 164.7L239.7 167.7L236.1 170.9L232.4 174.1L228.7 177L225 179.8L221.3 182.4L217.7 184.9L214 188.8L210.3 194.9L206.6 200.8L202.9 206.5L199.2 211.8L195.6 216.8L191.9 221.5L188.2 222L184.5 222.3L180.8 222.3L177.2 222.1L173.5 221.7L169.8 218.4L166.1 213.5L162.4 208.3L158.8 202.7L155.1 196.9L151.4 190.9L147.7 185.8L144 183.2L140.4 180.6L136.7 178L133 175.1L129.3 172L125.6 168.8L122 165.7L118.3 163L114.6 160.5L110.9 157.8L107.2 154.5L103.6 150.4L99.9 145.5L96.2 140.4L92.5 136.9L88.8 136.9Z" fill="#e1bc2b" fill-opacity="0.6"/><path d="M88.8 95.2L92.5 95.2L96.2 98.7L99.9 103.8L103.6 108.7L107.2 113.1L110.9 117.1L114.6 120.7L118.3 124.1L122 127.3L125.6 130.4L129.3 133.6L133 136.7L136.7 139.6L140.4 142.2L144 144.7L147.7 147.4L151.4 150.1L155.1 152.8L158.8 155.2L162.4 157.1L166.1 158.3L169.8 159.2L173.5 159.8L177.2 160.2L180.8 160.4L184.5 160.4L188.2 160.1L191.9 159.6L195.6 158.9L199.2 158L202.9 156.5L206.6 154.4L210.3 151.9L214 149.2L217.7 146.5L221.3 143.9L225 141.4L228.7 138.6L232.4 135.7L236.1 132.6L239.7 129.4L243.4 126.2L247.1 123L250.8 119.6L254.5 115.8L258.1 111.7L261.8 107.1L265.5 102.2L269.2 97L272.9 95.2L276.5 95.2L276.5 135.2L272.9 135.2L269.2 137L265.5 142.1L261.8 147.1L258.1 151.6L254.5 155.1L250.8 158.1L247.1 160.7L243.4 163.4L239.7 166.4L236.1 169.6L232.4 172.8L228.7 175.7L225 178.4L221.3 181.1L217.7 183.6L214 186L210.3 191.4L206.6 196.7L202.9 201.8L199.2 206.6L195.6 211L191.9 215.2L188.2 215.7L184.5 215.9L180.8 216L177.2 215.8L173.5 215.4L169.8 212.4L166.1 208.1L162.4 203.4L158.8 198.5L155.1 193.2L151.4 187.7L147.7 184.4L144 181.9L140.4 179.3L136.7 176.6L133 173.8L129.3 170.7L125.6 167.5L122 164.4L118.3 161.6L114.6 159L110.9 156.2L107.2 152.8L103.6 148.6L99.9 143.8L96.2 138.7L92.5 135.2L88.8 135.2Z" fill="#b3c534" fill-opacity="0.83"/><path d="M88.8 96.4L92.5 96.4L96.2 100L99.9 105L103.6 109.9L107.2 114.4L110.9 118.3L114.6 121.9L118.3 125.3L122 128.5L125.6 131.6L129.3 134.8L133 137.9L136.7 140.8L140.4 143.4L144 145.9L147.7 148.6L151.4 151.2L155.1 153.8L158.8 156.1L162.4 157.9L166.1 159.2L169.8 160L173.5 160.6L177.2 161.1L180.8 161.2L184.5 161.2L188.2 160.9L191.9 160.5L195.6 159.8L199.2 158.8L202.9 157.3L206.6 155.3L210.3 153L214 150.3L217.7 147.7L221.3 145.1L225 142.6L228.7 139.9L232.4 136.9L236.1 133.8L239.7 130.6L243.4 127.4L247.1 124.2L250.8 120.8L254.5 117.1L258.1 112.9L261.8 108.3L265.5 103.4L269.2 98.2L272.9 96.4L276.5 96.4L276.5 133.6L272.9 133.6L269.2 135.4L265.5 140.5L261.8 145.5L258.1 150L254.5 153.6L250.8 156.7L247.1 159.4L243.4 162.2L239.7 165.2L236.1 168.4L232.4 171.6L228.7 174.5L225 177.2L221.3 179.9L217.7 182.4L214 184.8L210.3 188.6L206.6 193.5L202.9 198.1L199.2 202.5L195.6 206.5L191.9 210.2L188.2 210.7L184.5 210.9L180.8 211L177.2 210.8L173.5 210.4L169.8 207.7L166.1 203.8L162.4 199.6L158.8 195.1L155.1 190.2L151.4 185.6L147.7 183.2L144 180.7L140.4 178.1L136.7 175.4L133 172.6L129.3 169.5L125.6 166.3L122 163.1L118.3 160.3L114.6 157.6L110.9 154.7L107.2 151.3L103.6 147.1L99.9 142.2L96.2 137.1L92.5 133.6L88.8 133.6Z" fill="#7bcc5d"/><path d="M88.8 97.6L92.5 97.6L96.2 101.1L99.9 106.2L103.6 111.1L107.2 115.5L110.9 119.5L114.6 123.1L118.3 126.4L122 129.6L125.6 132.8L129.3 136L133 139.1L136.7 141.9L140.4 144.6L144 147.1L147.7 149.7L151.4 152.3L155.1 154.7L158.8 156.9L162.4 158.7L166.1 160L169.8 160.8L173.5 161.5L177.2 161.9L180.8 162L184.5 162L188.2 161.8L191.9 161.3L195.6 160.6L199.2 159.6L202.9 158.2L206.6 156.2L210.3 153.9L214 151.4L217.7 148.8L221.3 146.3L225 143.7L228.7 141L232.4 138.1L236.1 134.9L239.7 131.7L243.4 128.6L247.1 125.3L250.8 121.9L254.5 118.2L258.1 114.1L261.8 109.5L265.5 104.5L269.2 99.4L272.9 97.6L276.5 97.6L276.5 132.1L272.9 132.1L269.2 133.9L265.5 139L261.8 144L258.1 148.5L254.5 152.2L250.8 155.3L247.1 158.2L243.4 161L239.7 164L236.1 167.2L232.4 170.4L228.7 173.3L225 176L221.3 178.7L217.7 181.2L214 183.6L210.3 186.1L206.6 190.6L202.9 194.8L199.2 198.8L195.6 202.4L191.9 205.7L188.2 206.2L184.5 206.5L180.8 206.5L177.2 206.3L173.5 205.9L169.8 203.5L166.1 200L162.4 196.2L158.8 192L155.1 187.6L151.4 184.4L147.7 182.1L144 179.5L140.4 176.9L136.7 174.3L133 171.4L129.3 168.3L125.6 165.1L122 162L118.3 159.1L114.6 156.3L110.9 153.3L107.2 149.8L103.6 145.6L99.9 140.7L96.2 135.6L92.5 132.1L88.8 132.1Z" fill="#47cb87"/><path d="M88.8 98.8L92.5 98.8L96.2 102.3L99.9 107.4L103.6 112.3L107.2 116.7L110.9 120.7L114.6 124.3L118.3 127.6L122 130.8L125.6 134L129.3 137.2L133 140.3L136.7 143.1L140.4 145.8L144 148.3L147.7 150.8L151.4 153.4L155.1 155.7L158.8 157.8L162.4 159.6L166.1 160.8L169.8 161.7L173.5 162.3L177.2 162.7L180.8 162.9L184.5 162.8L188.2 162.6L191.9 162.1L195.6 161.4L199.2 160.4L202.9 159L206.6 157.2L210.3 155L214 152.5L217.7 150L221.3 147.5L225 144.9L228.7 142.2L232.4 139.3L236.1 136.1L239.7 132.9L243.4 129.8L247.1 126.5L250.8 123.1L254.5 119.4L258.1 115.3L261.8 110.7L265.5 105.7L269.2 100.6L272.9 98.8L276.5 98.8L276.5 130.5L272.9 130.5L269.2 132.3L265.5 137.5L261.8 142.4L258.1 147L254.5 150.7L250.8 154L247.1 156.9L243.4 159.8L239.7 162.8L236.1 166L232.4 169.2L228.7 172.1L225 174.8L221.3 177.5L217.7 180L214 182.4L210.3 184.6L206.6 188.3L202.9 192.2L199.2 195.8L195.6 199.1L191.9 202.1L188.2 202.6L184.5 202.9L180.8 202.9L177.2 202.7L173.5 202.3L169.8 200.1L166.1 196.9L162.4 193.4L158.8 189.6L155.1 185.5L151.4 183.2L147.7 180.9L144 178.3L140.4 175.7L136.7 173.1L133 170.2L129.3 167.1L125.6 163.9L122 160.8L118.3 157.8L114.6 155L110.9 151.9L107.2 148.3L103.6 144L99.9 139.1L96.2 134.1L92.5 130.5L88.8 130.5Z" fill="#2bc3a8"/><path d="M88.8 100.1L92.5 100.1L96.2 103.7L99.9 108.7L103.6 113.6L107.2 118.1L110.9 122L114.6 125.6L118.3 129L122 132.2L125.6 135.3L129.3 138.6L133 141.6L136.7 144.5L140.4 147.1L144 149.6L147.7 152.1L151.4 154.6L155.1 156.8L158.8 158.8L162.4 160.5L166.1 161.7L169.8 162.6L173.5 163.2L177.2 163.6L180.8 163.8L184.5 163.8L188.2 163.5L191.9 163L195.6 162.3L199.2 161.4L202.9 160L206.6 158.2L210.3 156.1L214 153.8L217.7 151.3L221.3 148.8L225 146.3L228.7 143.6L232.4 140.6L236.1 137.5L239.7 134.3L243.4 131.1L247.1 127.9L250.8 124.5L254.5 120.8L258.1 116.6L261.8 112L265.5 107.1L269.2 101.9L272.9 100.1L276.5 100.1L276.5 128.8L272.9 128.8L269.2 130.6L265.5 135.7L261.8 140.7L258.1 145.2L254.5 149.1L250.8 152.4L247.1 155.4L243.4 158.4L239.7 161.5L236.1 164.7L232.4 167.9L228.7 170.8L225 173.5L221.3 176.1L217.7 178.7L214 181.1L210.3 183.3L206.6 186.3L202.9 189.9L199.2 193.3L195.6 196.3L191.9 199.1L188.2 199.5L184.5 199.8L180.8 199.8L177.2 199.6L173.5 199.2L169.8 197.2L166.1 194.3L162.4 191.1L158.8 187.5L155.1 184L151.4 181.9L147.7 179.5L144 177L140.4 174.4L136.7 171.7L133 168.9L129.3 165.8L125.6 162.6L122 159.4L118.3 156.4L114.6 153.5L110.9 150.2L107.2 146.6L103.6 142.3L99.9 137.4L96.2 132.3L92.5 128.8L88.8 128.8Z" fill="#02bac4"/><path d="M88.8 101.5L92.5 101.5L96.2 105L99.9 110.1L103.6 114.9L107.2 119.4L110.9 123.4L114.6 127L118.3 130.3L122 133.5L125.6 136.7L129.3 139.9L133 143L136.7 145.8L140.4 148.5L144 151L147.7 153.4L151.4 155.8L155.1 157.9L158.8 159.8L162.4 161.4L166.1 162.6L169.8 163.5L173.5 164.1L177.2 164.5L180.8 164.7L184.5 164.7L188.2 164.4L191.9 164L195.6 163.2L199.2 162.3L202.9 161L206.6 159.2L210.3 157.2L214 155L217.7 152.6L221.3 150.2L225 147.6L228.7 144.9L232.4 142L236.1 138.8L239.7 135.6L243.4 132.5L247.1 129.2L250.8 125.8L254.5 122.1L258.1 118L261.8 113.3L265.5 108.4L269.2 103.2L272.9 101.5L276.5 101.5L276.5 127.1L272.9 127.1L269.2 128.8L265.5 134L261.8 138.9L258.1 143.5L254.5 147.4L250.8 150.9L247.1 154L243.4 157.1L239.7 160.2L236.1 163.4L232.4 166.5L228.7 169.5L225 172.2L221.3 174.8L217.7 177.4L214 179.8L210.3 182L206.6 184.3L202.9 187.7L199.2 190.8L195.6 193.5L191.9 196L188.2 196.5L184.5 196.7L180.8 196.8L177.2 196.6L173.5 196.2L169.8 194.4L166.1 191.7L162.4 188.7L158.8 185.5L155.1 182.7L151.4 180.5L147.7 178.2L144 175.7L140.4 173.1L136.7 170.4L133 167.5L129.3 164.4L125.6 161.2L122 158.1L118.3 155L114.6 152L110.9 148.6L107.2 144.9L103.6 140.5L99.9 135.7L96.2 130.6L92.5 127.1L88.8 127.1Z" fill="#18aedb"/><path d="M88.8 102.7L92.5 102.7L96.2 106.2L99.9 111.2L103.6 116.1L107.2 120.6L110.9 124.5L114.6 128.1L118.3 131.5L122 134.7L125.6 137.8L129.3 141.1L133 144.1L136.7 147L140.4 149.6L144 152.1L147.7 154.5L151.4 156.8L155.1 158.9L158.8 160.7L162.4 162.3L166.1 163.5L169.8 164.3L173.5 165L177.2 165.4L180.8 165.5L184.5 165.5L188.2 165.2L191.9 164.8L195.6 164.1L199.2 163.1L202.9 161.8L206.6 160.1L210.3 158.2L214 156.1L217.7 153.8L221.3 151.3L225 148.8L228.7 146.1L232.4 143.1L236.1 140L239.7 136.8L243.4 133.6L247.1 130.4L250.8 127L254.5 123.3L258.1 119.1L261.8 114.5L265.5 109.6L269.2 104.4L272.9 102.7L276.5 102.7L276.5 125.5L272.9 125.5L269.2 127.3L265.5 132.5L261.8 137.4L258.1 142L254.5 146L250.8 149.5L247.1 152.8L243.4 155.9L239.7 159L236.1 162.2L232.4 165.4L228.7 168.3L225 171L221.3 173.6L217.7 176.2L214 178.6L210.3 180.8L206.6 182.8L202.9 185L199.2 187.7L195.6 190.1L191.9 192.3L188.2 192.8L184.5 193.1L180.8 193.1L177.2 192.9L173.5 192.5L169.8 190.9L166.1 188.6L162.4 185.9L158.8 183.4L155.1 181.5L151.4 179.3L147.7 177L144 174.5L140.4 171.9L136.7 169.2L133 166.4L129.3 163.3L125.6 160.1L122 156.9L118.3 153.8L114.6 150.6L110.9 147.2L107.2 143.4L103.6 139L99.9 134.1L96.2 129.1L92.5 125.5L88.8 125.5Z" fill="#259ce7"/><path d="M88.8 103.8L92.5 103.8L96.2 107.3L99.9 112.4L103.6 117.2L107.2 121.7L110.9 125.7L114.6 129.3L118.3 132.6L122 135.8L125.6 139L129.3 142.2L133 145.3L136.7 148.1L140.4 150.8L144 153.3L147.7 155.6L151.4 157.8L155.1 159.8L158.8 161.6L162.4 163.1L166.1 164.2L169.8 165.1L173.5 165.7L177.2 166.1L180.8 166.3L184.5 166.3L188.2 166L191.9 165.6L195.6 164.8L199.2 163.9L202.9 162.6L206.6 161L210.3 159.2L214 157.1L217.7 154.9L221.3 152.5L225 149.9L228.7 147.2L232.4 144.3L236.1 141.1L239.7 137.9L243.4 134.8L247.1 131.5L250.8 128.1L254.5 124.4L258.1 120.3L261.8 115.6L265.5 110.7L269.2 105.6L272.9 103.8L276.5 103.8L276.5 124.1L272.9 124.1L269.2 125.8L265.5 131L261.8 135.9L258.1 140.5L254.5 144.6L250.8 148.2L247.1 151.5L243.4 154.7L239.7 157.9L236.1 161.1L232.4 164.2L228.7 167.1L225 169.9L221.3 172.5L217.7 175L214 177.5L210.3 179.7L206.6 181.6L202.9 183.3L199.2 184.6L195.6 186.3L191.9 188.1L188.2 188.6L184.5 188.9L180.8 188.9L177.2 188.7L173.5 188.3L169.8 186.9L166.1 185L162.4 183.8L158.8 182.2L155.1 180.3L151.4 178.2L147.7 175.9L144 173.4L140.4 170.7L136.7 168.1L133 165.2L129.3 162.1L125.6 158.9L122 155.8L118.3 152.6L114.6 149.4L110.9 145.9L107.2 142L103.6 137.5L99.9 132.7L96.2 127.6L92.5 124.1L88.8 124.1Z" fill="#2d88f6"/><path d="M88.8 104.9L92.5 104.9L96.2 108.4L99.9 113.5L103.6 118.4L107.2 122.8L110.9 126.8L114.6 130.4L118.3 133.8L122 137L125.6 140.1L129.3 143.3L133 146.4L136.7 149.3L140.4 151.9L144 154.4L147.7 156.7L151.4 158.9L155.1 160.8L158.8 162.4L162.4 163.9L166.1 165L169.8 165.9L173.5 166.5L177.2 166.9L180.8 167.1L184.5 167.1L188.2 166.8L191.9 166.4L195.6 165.6L199.2 164.7L202.9 163.4L206.6 161.9L210.3 160.2L214 158.2L217.7 156L221.3 153.6L225 151.1L228.7 148.3L232.4 145.4L236.1 142.3L239.7 139.1L243.4 135.9L247.1 132.7L250.8 129.3L254.5 125.5L258.1 121.4L261.8 116.8L265.5 111.9L269.2 106.7L272.9 104.9L276.5 104.9L276.5 122.6L272.9 122.6L269.2 124.4L265.5 129.5L261.8 134.4L258.1 139.1L254.5 143.2L250.8 146.9L247.1 150.3L243.4 153.6L239.7 156.7L236.1 159.9L232.4 163.1L228.7 166L225 168.7L221.3 171.4L217.7 173.9L214 176.3L210.3 178.5L206.6 180.5L202.9 182.2L199.2 183.5L195.6 184.4L191.9 185.1L188.2 185.6L184.5 185.9L180.8 185.9L177.2 185.7L173.5 185.3L169.8 184.7L166.1 183.8L162.4 182.6L158.8 181.1L155.1 179.2L151.4 177.1L147.7 174.7L144 172.2L140.4 169.6L136.7 166.9L133 164.1L129.3 161L125.6 157.8L122 154.6L118.3 151.4L114.6 148.1L110.9 144.5L107.2 140.5L103.6 136L99.9 131.2L96.2 126.1L92.5 122.6L88.8 122.6Z" fill="#3c72ff"/><path d="M88.8 106.3L92.5 106.3L96.2 109.8L99.9 114.9L103.6 119.8L107.2 124.2L110.9 128.2L114.6 131.8L118.3 135.2L122 138.3L125.6 141.5L129.3 144.7L133 147.8L136.7 150.7L140.4 153.3L144 155.8L147.7 158.1L151.4 160.3L155.1 162.2L158.8 163.9L162.4 165.4L166.1 166.5L169.8 167.4L173.5 168L177.2 168.4L180.8 168.6L184.5 168.6L188.2 168.3L191.9 167.8L195.6 167.1L199.2 166.2L202.9 164.9L206.6 163.4L210.3 161.6L214 159.6L217.7 157.4L221.3 155L225 152.5L228.7 149.7L232.4 146.8L236.1 143.7L239.7 140.5L243.4 137.3L247.1 134.1L250.8 130.7L254.5 126.9L258.1 122.8L261.8 118.2L265.5 113.2L269.2 108.1L272.9 106.3L276.5 106.3L276.5 121.2L272.9 121.2L269.2 123L265.5 128.1L261.8 133.1L258.1 137.7L254.5 141.8L250.8 145.5L247.1 148.9L243.4 152.2L239.7 155.3L236.1 158.5L232.4 161.7L228.7 164.6L225 167.3L221.3 170L217.7 172.5L214 174.9L210.3 177.1L206.6 179L202.9 180.7L199.2 182L195.6 182.9L191.9 183.7L188.2 184.1L184.5 184.4L180.8 184.4L177.2 184.2L173.5 183.8L169.8 183.2L166.1 182.3L162.4 181.2L158.8 179.6L155.1 177.8L151.4 175.6L147.7 173.3L144 170.8L140.4 168.2L136.7 165.5L133 162.7L129.3 159.6L125.6 156.4L122 153.2L118.3 150L114.6 146.7L110.9 143.1L107.2 139.1L103.6 134.6L99.9 129.8L96.2 124.7L92.5 121.2L88.8 121.2Z" fill="#475bf9"/><path d="M88.8 108.8L92.5 108.8L96.2 112.4L99.9 117.4L103.6 122.3L107.2 126.8L110.9 130.7L114.6 134.3L118.3 137.7L122 140.9L125.6 144L129.3 147.3L133 150.3L136.7 153.2L140.4 155.8L144 158.4L147.7 160.7L151.4 162.9L155.1 164.9L158.8 166.6L162.4 168L166.1 169.2L169.8 170.1L173.5 170.7L177.2 171.1L180.8 171.3L184.5 171.3L188.2 171L191.9 170.5L195.6 169.8L199.2 168.9L202.9 167.6L206.6 166L210.3 164.2L214 162.2L217.7 160L221.3 157.5L225 155L228.7 152.3L232.4 149.3L236.1 146.2L239.7 143L243.4 139.8L247.1 136.6L250.8 133.2L254.5 129.5L258.1 125.3L261.8 120.7L265.5 115.8L269.2 110.6L272.9 108.8L276.5 108.8L276.5 118.7L272.9 118.7L269.2 120.4L265.5 125.6L261.8 130.5L258.1 135.2L254.5 139.3L250.8 143L247.1 146.4L243.4 149.6L239.7 152.8L236.1 156L232.4 159.2L228.7 162.1L225 164.8L221.3 167.4L217.7 169.9L214 172.3L210.3 174.4L206.6 176.4L202.9 178L199.2 179.3L195.6 180.3L191.9 181L188.2 181.5L184.5 181.7L180.8 181.7L177.2 181.6L173.5 181.2L169.8 180.5L166.1 179.7L162.4 178.5L158.8 176.9L155.1 175.1L151.4 173L147.7 170.7L144 168.3L140.4 165.7L136.7 163L133 160.2L129.3 157.1L125.6 153.9L122 150.7L118.3 147.5L114.6 144.2L110.9 140.6L107.2 136.6L103.6 132.1L99.9 127.3L96.2 122.2L92.5 118.7L88.8 118.7Z" fill="#4745e9"/><path d="M123.2 147.8L125.6 149.9L128.1 152L130.6 154.2L133 156.2L135.5 158.1L137.9 159.9L140.4 161.7L142.8 163.4L145.3 165.1L147.7 166.7" fill="none" stroke="#422ebe" stroke-width="4" stroke-linecap="round" stroke-opacity="0.7"/><path d="M216.4 166.7L218.9 165.1L221.3 163.4L223.8 161.7L226.2 159.9L228.7 158.1L231.1 156.2L233.6 154.2L236.1 152L238.5 149.9L241 147.8" fill="none" stroke="#422ebe" stroke-width="4" stroke-linecap="round" stroke-opacity="0.7"/><path d="M169.8 177.6L172.3 178L174.7 178.4L177.2 178.6L179.6 178.7L182.1 178.8L184.5 178.7L187 178.6L189.4 178.4L191.9 178L194.3 177.6" fill="none" stroke="#4536d3" stroke-width="3.5" stroke-linecap="round" stroke-opacity="0.45"/><path d="M93.8 113.8L96.2 117.3L98.7 120.7L101.1 124L103.6 127.2L106 130.2L108.5 133.1" fill="none" stroke="#4536d3" stroke-width="3.5" stroke-linecap="round" stroke-opacity="0.4"/><path d="M255.7 133.1L258.1 130.2L260.6 127.2L263 124L265.5 120.7L267.9 117.3L270.4 113.8" fill="none" stroke="#4536d3" stroke-width="3.5" stroke-linecap="round" stroke-opacity="0.4"/></g>
</g>

<path d="M93.75 109.62L96.2 113.13L98.66 116.54L101.11 119.85L103.56 123.07L106.02 126.18L108.47 129.2L110.92 132.12L113.38 134.94L115.83 137.66L118.28 140.28L120.74 142.8L123.19 145.22L125.65 147.55L128.1 149.77L130.55 151.9L133.01 153.93L135.46 155.86L137.91 157.69L140.37 159.42L142.82 161.05L145.27 162.58L147.73 164.02L150.18 165.35L152.63 166.59L155.09 167.73L157.54 168.76L159.99 169.7L162.45 170.54L164.9 171.29L167.35 171.93L169.81 172.47L172.26 172.92L174.71 173.26L177.17 173.51L179.62 173.66L182.07 173.71L184.53 173.66L186.98 173.51L189.44 173.26L191.89 172.92L194.34 172.47L196.8 171.93L199.25 171.29L201.7 170.54L204.16 169.7L206.61 168.76L209.06 167.73L211.52 166.59L213.97 165.35L216.42 164.02L218.88 162.58L221.33 161.05L223.78 159.42L226.24 157.69L228.69 155.86L231.14 153.93L233.6 151.9L236.05 149.77L238.5 147.55L240.96 145.22L243.41 142.8L245.87 140.28L248.32 137.66L250.77 134.94L253.23 132.12L255.68 129.2L258.13 126.18L260.59 123.07L263.04 119.85L265.49 116.54L267.95 113.13L270.4 109.62" class="dw"/><path d="M93.75 194.25H270.4" class="dw" style="stroke-width:1.05;opacity:.85"/>

<rect x="93.75" y="48" width="176.65" height="167.6" fill="none" stroke="#1a1400" stroke-width="0.9"/>
<text class="t" x="90.05" y="205.57" text-anchor="end">1.82</text>
<text class="t" x="90.05" y="186.73" text-anchor="end">1.83</text>
<text class="t" x="90.05" y="167.89" text-anchor="end">1.84</text>
<text class="t" x="90.05" y="149.05" text-anchor="end">1.85</text>
<text class="t" x="90.05" y="130.21" text-anchor="end">1.86</text>
<text class="t" x="90.05" y="111.37" text-anchor="end">1.87</text>
<text class="t" x="90.05" y="92.53" text-anchor="end">1.88</text>
<text class="t" x="90.05" y="73.69" text-anchor="end">1.89</text>
<text class="t" x="90.05" y="54.85" text-anchor="end">1.9</text>
<text class="t" x="110.87" y="226.3" text-anchor="middle">-15</text>
<text class="t" x="135.21" y="226.3" text-anchor="middle">-10</text>
<text class="t" x="158.44" y="226.3" text-anchor="middle">-5</text>
<text class="t" x="182.47" y="226.3" text-anchor="middle">0</text>
<text class="t" x="207.01" y="226.3" text-anchor="middle">5</text>
<text class="t" x="231.54" y="226.3" text-anchor="middle">10</text>
<text class="t" x="256.08" y="226.3" text-anchor="middle">15</text>
<path d="M93.75 201.97h3.4M270.4 201.97h-3.4M93.75 183.13h3.4M270.4 183.13h-3.4M93.75 164.29h3.4M270.4 164.29h-3.4M93.75 145.45h3.4M270.4 145.45h-3.4M93.75 126.61h3.4M270.4 126.61h-3.4M93.75 107.77h3.4M270.4 107.77h-3.4M93.75 88.93h3.4M270.4 88.93h-3.4M93.75 70.09h3.4M270.4 70.09h-3.4M93.75 51.25h3.4M270.4 51.25h-3.4M108.47 215.6v-3.2M108.47 48v3.2M133.01 215.6v-3.2M133.01 48v3.2M157.54 215.6v-3.2M157.54 48v3.2M182.07 215.6v-3.2M182.07 48v3.2M206.61 215.6v-3.2M206.61 48v3.2M231.14 215.6v-3.2M231.14 48v3.2M255.68 215.6v-3.2M255.68 48v3.2" stroke="#1a1400" stroke-width="0.9" fill="none"/>
<text class="l" x="183.27" y="237.3" text-anchor="middle">Angle (degree)</text>
<text class="l" transform="translate(66.45 122.5) rotate(-90)" text-anchor="middle">Energy (eV)</text>
<text class="t" x="60.95" y="47.6">a</text>
<text class="t" x="104.55" y="63.8">140K</text>
<rect x="277.9" y="48" width="7.4" height="167.6" fill="url(#cbar)" stroke="#6b6b50" stroke-width=".35"/>
<text class="t" x="291.3" y="51.2">1</text>
<text class="t" x="290.5" y="219.1">0</text>

<defs><linearGradient id="b0" x1="0" y1="0" x2="0" y2="1"><stop offset="0" stop-color="#f6f21e"/><stop offset="0.13" stop-color="#f5ed21"/><stop offset="0.21" stop-color="#fccf30"/><stop offset="0.28" stop-color="#f6e028"/><stop offset="0.3" stop-color="#fdbd3d"/><stop offset="0.32" stop-color="#b5c533"/><stop offset="0.34" stop-color="#9bc944"/><stop offset="0.43" stop-color="#9ec942"/><stop offset="0.53" stop-color="#91ca4c"/><stop offset="0.62" stop-color="#92ca4c"/><stop offset="0.66" stop-color="#9fc942"/><stop offset="0.68" stop-color="#bcc42f"/><stop offset="0.7" stop-color="#f6e028"/><stop offset="0.72" stop-color="#f9fa15"/><stop offset="0.87" stop-color="#f7f51b"/><stop offset="1" stop-color="#f7f51b"/></linearGradient><linearGradient id="b1" x1="0" y1="0" x2="0" y2="1"><stop offset="0" stop-color="#f6f21e"/><stop offset="0.13" stop-color="#f5ed21"/><stop offset="0.21" stop-color="#fccf30"/><stop offset="0.28" stop-color="#f6e028"/><stop offset="0.3" stop-color="#fdbd3d"/><stop offset="0.32" stop-color="#b5c533"/><stop offset="0.34" stop-color="#9bc944"/><stop offset="0.43" stop-color="#9ec942"/><stop offset="0.53" stop-color="#91ca4c"/><stop offset="0.62" stop-color="#92ca4c"/><stop offset="0.66" stop-color="#9fc942"/><stop offset="0.68" stop-color="#bcc42f"/><stop offset="0.7" stop-color="#f6e028"/><stop offset="0.72" stop-color="#f9fa15"/><stop offset="0.87" stop-color="#f7f51b"/><stop offset="1" stop-color="#f7f51b"/></linearGradient><linearGradient id="b2" x1="0" y1="0" x2="0" y2="1"><stop offset="0" stop-color="#f6f21e"/><stop offset="0.13" stop-color="#f5ed21"/><stop offset="0.21" stop-color="#fccf30"/><stop offset="0.28" stop-color="#f6e028"/><stop offset="0.3" stop-color="#fdbd3d"/><stop offset="0.32" stop-color="#b5c533"/><stop offset="0.34" stop-color="#9bc944"/><stop offset="0.43" stop-color="#9ec942"/><stop offset="0.53" stop-color="#91ca4c"/><stop offset="0.62" stop-color="#92ca4c"/><stop offset="0.66" stop-color="#9fc942"/><stop offset="0.68" stop-color="#bcc42f"/><stop offset="0.7" stop-color="#f6e028"/><stop offset="0.72" stop-color="#f9fa15"/><stop offset="0.87" stop-color="#f7f51b"/><stop offset="1" stop-color="#f7f51b"/></linearGradient><linearGradient id="b3" x1="0" y1="0" x2="0" y2="1"><stop offset="0" stop-color="#f9fb15"/><stop offset="0.17" stop-color="#f7f51b"/><stop offset="0.23" stop-color="#f8da2b"/><stop offset="0.26" stop-color="#fad42e"/><stop offset="0.3" stop-color="#f6df29"/><stop offset="0.36" stop-color="#f8f719"/><stop offset="0.4" stop-color="#f9fb15"/><stop offset="0.45" stop-color="#f7f31d"/><stop offset="0.66" stop-color="#f9fb15"/><stop offset="0.7" stop-color="#f9fb15"/><stop offset="0.72" stop-color="#f7f51b"/><stop offset="0.74" stop-color="#f5e327"/><stop offset="0.77" stop-color="#fdcc32"/><stop offset="0.79" stop-color="#febe3c"/><stop offset="1" stop-color="#febe3c"/></linearGradient><linearGradient id="b4" x1="0" y1="0" x2="0" y2="1"><stop offset="0" stop-color="#f9fb15"/><stop offset="0.19" stop-color="#f8f818"/><stop offset="0.28" stop-color="#f9d72c"/><stop offset="0.3" stop-color="#fad42e"/><stop offset="0.34" stop-color="#f5e227"/><stop offset="0.4" stop-color="#f8f818"/><stop offset="0.66" stop-color="#f8f917"/><stop offset="0.7" stop-color="#f6f11f"/><stop offset="0.77" stop-color="#f5ea24"/><stop offset="0.87" stop-color="#f7db2a"/><stop offset="0.91" stop-color="#f5e426"/><stop offset="1" stop-color="#f5e426"/></linearGradient><linearGradient id="b5" x1="0" y1="0" x2="0" y2="1"><stop offset="0" stop-color="#f8f818"/><stop offset="0.21" stop-color="#f9f916"/><stop offset="0.26" stop-color="#f5eb23"/><stop offset="0.3" stop-color="#f9d82c"/><stop offset="0.34" stop-color="#fad52d"/><stop offset="0.4" stop-color="#f6f020"/><stop offset="0.62" stop-color="#f9fb15"/><stop offset="0.74" stop-color="#f9fa16"/><stop offset="0.79" stop-color="#f7f41c"/><stop offset="0.87" stop-color="#f9f916"/><stop offset="0.96" stop-color="#f6f11f"/><stop offset="1" stop-color="#f7f31d"/></linearGradient><linearGradient id="b6" x1="0" y1="0" x2="0" y2="1"><stop offset="0" stop-color="#f9fa16"/><stop offset="0.23" stop-color="#f7f51b"/><stop offset="0.3" stop-color="#f5e924"/><stop offset="0.34" stop-color="#f9d62d"/><stop offset="0.36" stop-color="#fbd32e"/><stop offset="0.4" stop-color="#f5e228"/><stop offset="0.47" stop-color="#f8f818"/><stop offset="0.7" stop-color="#f9fa16"/><stop offset="0.74" stop-color="#f5e427"/><stop offset="0.77" stop-color="#f9d82c"/><stop offset="0.91" stop-color="#fad42e"/><stop offset="1" stop-color="#fad42e"/></linearGradient><linearGradient id="b7" x1="0" y1="0" x2="0" y2="1"><stop offset="0" stop-color="#fad42e"/><stop offset="0.21" stop-color="#fbd22f"/><stop offset="0.28" stop-color="#fbd22f"/><stop offset="0.34" stop-color="#febe3c"/><stop offset="0.38" stop-color="#f9ba3d"/><stop offset="0.4" stop-color="#febe3c"/><stop offset="0.45" stop-color="#f5e526"/><stop offset="0.49" stop-color="#f8f719"/><stop offset="0.6" stop-color="#f8f917"/><stop offset="0.7" stop-color="#f9fa16"/><stop offset="0.74" stop-color="#f5e427"/><stop offset="0.77" stop-color="#f9d82c"/><stop offset="0.91" stop-color="#fad42e"/><stop offset="1" stop-color="#fcd030"/></linearGradient><linearGradient id="b8" x1="0" y1="0" x2="0" y2="1"><stop offset="0" stop-color="#f5eb23"/><stop offset="0.23" stop-color="#f5ea23"/><stop offset="0.28" stop-color="#f5e228"/><stop offset="0.34" stop-color="#f6df29"/><stop offset="0.4" stop-color="#fec736"/><stop offset="0.43" stop-color="#fdcc32"/><stop offset="0.49" stop-color="#f6f01f"/><stop offset="0.62" stop-color="#f9fb15"/><stop offset="0.7" stop-color="#f8f61a"/><stop offset="0.77" stop-color="#f9f916"/><stop offset="0.83" stop-color="#f8f817"/><stop offset="0.87" stop-color="#f6f21e"/><stop offset="0.94" stop-color="#f8f818"/><stop offset="1" stop-color="#f8f818"/></linearGradient><linearGradient id="b9" x1="0" y1="0" x2="0" y2="1"><stop offset="0" stop-color="#f9fb15"/><stop offset="0.34" stop-color="#f8f61a"/><stop offset="0.4" stop-color="#f7dc2a"/><stop offset="0.43" stop-color="#fad52d"/><stop offset="0.45" stop-color="#fad52d"/><stop offset="0.51" stop-color="#f6f01f"/><stop offset="0.57" stop-color="#f9fa15"/><stop offset="0.77" stop-color="#f9fb15"/><stop offset="0.81" stop-color="#f5e426"/><stop offset="0.85" stop-color="#fec835"/><stop offset="0.96" stop-color="#fccf30"/><stop offset="1" stop-color="#fccf30"/></linearGradient><linearGradient id="b10" x1="0" y1="0" x2="0" y2="1"><stop offset="0" stop-color="#f8d92b"/><stop offset="0.13" stop-color="#fbd32e"/><stop offset="0.21" stop-color="#f8d92b"/><stop offset="0.34" stop-color="#fad52d"/><stop offset="0.4" stop-color="#fec03a"/><stop offset="0.45" stop-color="#f8ba3d"/><stop offset="0.47" stop-color="#fabb3d"/><stop offset="0.49" stop-color="#fec934"/><stop offset="0.51" stop-color="#f6df29"/><stop offset="0.53" stop-color="#f5ed22"/><stop offset="0.6" stop-color="#f8f818"/><stop offset="0.77" stop-color="#f9fb15"/><stop offset="0.85" stop-color="#f5e924"/><stop offset="1" stop-color="#f5e924"/></linearGradient><linearGradient id="b11" x1="0" y1="0" x2="0" y2="1"><stop offset="0" stop-color="#fbd32f"/><stop offset="0.02" stop-color="#fcd030"/><stop offset="0.09" stop-color="#f8d92b"/><stop offset="0.15" stop-color="#f8d92b"/><stop offset="0.21" stop-color="#fbd32e"/><stop offset="0.32" stop-color="#f9d72d"/><stop offset="0.38" stop-color="#fbd32e"/><stop offset="0.43" stop-color="#fec338"/><stop offset="0.47" stop-color="#f9bb3d"/><stop offset="0.49" stop-color="#febe3c"/><stop offset="0.53" stop-color="#f5e327"/><stop offset="0.57" stop-color="#f8f719"/><stop offset="0.74" stop-color="#f9fb15"/><stop offset="0.79" stop-color="#f8f818"/><stop offset="1" stop-color="#f9fb15"/></linearGradient><linearGradient id="b12" x1="0" y1="0" x2="0" y2="1"><stop offset="0" stop-color="#f6e128"/><stop offset="0.15" stop-color="#f6e128"/><stop offset="0.19" stop-color="#f8d92b"/><stop offset="0.26" stop-color="#f6e128"/><stop offset="0.32" stop-color="#f7dd2a"/><stop offset="0.43" stop-color="#feca33"/><stop offset="0.47" stop-color="#febe3c"/><stop offset="0.49" stop-color="#febd3c"/><stop offset="0.51" stop-color="#fec537"/><stop offset="0.55" stop-color="#f5e725"/><stop offset="0.62" stop-color="#f9f916"/><stop offset="0.66" stop-color="#f9fb15"/><stop offset="0.7" stop-color="#f7f51b"/><stop offset="0.79" stop-color="#f9fb15"/><stop offset="0.91" stop-color="#f9fa15"/><stop offset="0.96" stop-color="#f6f21d"/><stop offset="1" stop-color="#f8f619"/></linearGradient><linearGradient id="b13" x1="0" y1="0" x2="0" y2="1"><stop offset="0" stop-color="#fbd22f"/><stop offset="0.38" stop-color="#fcd030"/><stop offset="0.43" stop-color="#fec239"/><stop offset="0.47" stop-color="#f8ba3d"/><stop offset="0.51" stop-color="#f8ba3d"/><stop offset="0.53" stop-color="#fec438"/><stop offset="0.57" stop-color="#f5ec22"/><stop offset="0.64" stop-color="#f7f41c"/><stop offset="0.87" stop-color="#f9fa15"/><stop offset="0.96" stop-color="#f5e625"/><stop offset="1" stop-color="#f5e625"/></linearGradient><linearGradient id="b14" x1="0" y1="0" x2="0" y2="1"><stop offset="0" stop-color="#f9f916"/><stop offset="0.13" stop-color="#f8f818"/><stop offset="0.19" stop-color="#f6ef20"/><stop offset="0.26" stop-color="#f9f916"/><stop offset="0.4" stop-color="#f7f61a"/><stop offset="0.45" stop-color="#f5e924"/><stop offset="0.49" stop-color="#fcd130"/><stop offset="0.51" stop-color="#fdcc32"/><stop offset="0.53" stop-color="#fbd22f"/><stop offset="0.57" stop-color="#f5ed22"/><stop offset="0.64" stop-color="#f9fa16"/><stop offset="0.87" stop-color="#f8f818"/><stop offset="0.89" stop-color="#f5ec22"/><stop offset="0.94" stop-color="#fec934"/><stop offset="1" stop-color="#fec437"/></linearGradient><linearGradient id="b15" x1="0" y1="0" x2="0" y2="1"><stop offset="0" stop-color="#fec934"/><stop offset="0.09" stop-color="#fec636"/><stop offset="0.38" stop-color="#fec636"/><stop offset="0.45" stop-color="#f9bb3d"/><stop offset="0.51" stop-color="#f3ba39"/><stop offset="0.53" stop-color="#f8ba3d"/><stop offset="0.55" stop-color="#fec736"/><stop offset="0.57" stop-color="#f6de29"/><stop offset="0.6" stop-color="#f5ed21"/><stop offset="0.68" stop-color="#f9fb15"/><stop offset="0.87" stop-color="#f8f917"/><stop offset="0.96" stop-color="#f5ec22"/><stop offset="1" stop-color="#f7f31d"/></linearGradient><linearGradient id="b16" x1="0" y1="0" x2="0" y2="1"><stop offset="0" stop-color="#fbd22f"/><stop offset="0.13" stop-color="#fbd32e"/><stop offset="0.21" stop-color="#f7db2a"/><stop offset="0.4" stop-color="#f8d82c"/><stop offset="0.47" stop-color="#fdbd3d"/><stop offset="0.51" stop-color="#f9bb3d"/><stop offset="0.53" stop-color="#febd3c"/><stop offset="0.6" stop-color="#f5ef20"/><stop offset="0.68" stop-color="#f9fb15"/><stop offset="0.91" stop-color="#f8f817"/><stop offset="1" stop-color="#f7f51b"/></linearGradient><linearGradient id="b17" x1="0" y1="0" x2="0" y2="1"><stop offset="0" stop-color="#f5e625"/><stop offset="0.13" stop-color="#f5eb23"/><stop offset="0.21" stop-color="#f5e227"/><stop offset="0.3" stop-color="#f5e625"/><stop offset="0.36" stop-color="#f5eb23"/><stop offset="0.43" stop-color="#f5e526"/><stop offset="0.49" stop-color="#fec934"/><stop offset="0.51" stop-color="#fec537"/><stop offset="0.53" stop-color="#fec934"/><stop offset="0.6" stop-color="#f5ee21"/><stop offset="0.7" stop-color="#f9fb15"/><stop offset="0.81" stop-color="#f7f61a"/><stop offset="0.87" stop-color="#f8f817"/><stop offset="0.89" stop-color="#f7f51b"/><stop offset="0.91" stop-color="#f5e426"/><stop offset="0.94" stop-color="#fbd22f"/><stop offset="0.96" stop-color="#fec735"/><stop offset="1" stop-color="#fec636"/></linearGradient><linearGradient id="b18" x1="0" y1="0" x2="0" y2="1"><stop offset="0" stop-color="#f5eb23"/><stop offset="0.4" stop-color="#f5e924"/><stop offset="0.51" stop-color="#fec239"/><stop offset="0.53" stop-color="#fec636"/><stop offset="0.6" stop-color="#f6f020"/><stop offset="0.7" stop-color="#f9fa16"/><stop offset="0.79" stop-color="#f7f61a"/><stop offset="0.87" stop-color="#f9fb15"/><stop offset="1" stop-color="#f7f51b"/></linearGradient><linearGradient id="b19" x1="0" y1="0" x2="0" y2="1"><stop offset="0" stop-color="#f8d82c"/><stop offset="0.06" stop-color="#f8d82c"/><stop offset="0.13" stop-color="#fccf30"/><stop offset="0.19" stop-color="#fccf30"/><stop offset="0.26" stop-color="#f8d82c"/><stop offset="0.32" stop-color="#f8d82c"/><stop offset="0.36" stop-color="#fcd030"/><stop offset="0.4" stop-color="#fad52d"/><stop offset="0.47" stop-color="#fec03b"/><stop offset="0.51" stop-color="#f8ba3d"/><stop offset="0.53" stop-color="#fabb3d"/><stop offset="0.55" stop-color="#fec934"/><stop offset="0.6" stop-color="#f5ec22"/><stop offset="0.7" stop-color="#f9fb15"/><stop offset="0.91" stop-color="#f9f916"/><stop offset="0.96" stop-color="#f7f51b"/><stop offset="1" stop-color="#f9fb15"/></linearGradient><linearGradient id="b20" x1="0" y1="0" x2="0" y2="1"><stop offset="0" stop-color="#f8ba3d"/><stop offset="0.43" stop-color="#f8ba3d"/><stop offset="0.51" stop-color="#eabb30"/><stop offset="0.55" stop-color="#f9bb3d"/><stop offset="0.57" stop-color="#fbd12f"/><stop offset="0.6" stop-color="#f5e825"/><stop offset="0.62" stop-color="#f5ef21"/><stop offset="0.66" stop-color="#f7f41c"/><stop offset="0.68" stop-color="#f9fb15"/><stop offset="1" stop-color="#f9fb15"/></linearGradient><linearGradient id="b21" x1="0" y1="0" x2="0" y2="1"><stop offset="0" stop-color="#f7f61a"/><stop offset="0.32" stop-color="#f7f61a"/><stop offset="0.36" stop-color="#f5ef20"/><stop offset="0.4" stop-color="#f7f31d"/><stop offset="0.47" stop-color="#f6dd29"/><stop offset="0.51" stop-color="#fccf30"/><stop offset="0.55" stop-color="#f7dd2a"/><stop offset="0.6" stop-color="#f6f21e"/><stop offset="0.7" stop-color="#f9fb15"/><stop offset="0.89" stop-color="#f8f917"/><stop offset="0.94" stop-color="#f5e426"/><stop offset="0.96" stop-color="#f5e128"/><stop offset="1" stop-color="#f5eb23"/></linearGradient><linearGradient id="b22" x1="0" y1="0" x2="0" y2="1"><stop offset="0" stop-color="#f8f619"/><stop offset="0.23" stop-color="#f7f51b"/><stop offset="0.34" stop-color="#f6ef20"/><stop offset="0.4" stop-color="#f7f41c"/><stop offset="0.47" stop-color="#f6df29"/><stop offset="0.51" stop-color="#fccf30"/><stop offset="0.55" stop-color="#f7dc2a"/><stop offset="0.6" stop-color="#f6f11f"/><stop offset="0.68" stop-color="#f9fb15"/><stop offset="0.87" stop-color="#f9fb15"/><stop offset="0.89" stop-color="#f7f41c"/><stop offset="0.91" stop-color="#f5e227"/><stop offset="0.94" stop-color="#fdcd32"/><stop offset="0.96" stop-color="#fec13a"/><stop offset="1" stop-color="#fcbc3d"/></linearGradient><linearGradient id="b23" x1="0" y1="0" x2="0" y2="1"><stop offset="0" stop-color="#f9bb3d"/><stop offset="0.38" stop-color="#fcbd3d"/><stop offset="0.47" stop-color="#f2ba38"/><stop offset="0.51" stop-color="#ecba32"/><stop offset="0.55" stop-color="#fabb3d"/><stop offset="0.6" stop-color="#f5e924"/><stop offset="0.68" stop-color="#f9fb15"/><stop offset="0.91" stop-color="#f8f718"/><stop offset="1" stop-color="#f7f31d"/></linearGradient><linearGradient id="b24" x1="0" y1="0" x2="0" y2="1"><stop offset="0" stop-color="#f6f01f"/><stop offset="0.06" stop-color="#f5ee21"/><stop offset="0.13" stop-color="#f5e725"/><stop offset="0.3" stop-color="#f6f01f"/><stop offset="0.38" stop-color="#f5eb23"/><stop offset="0.43" stop-color="#f5ea24"/><stop offset="0.49" stop-color="#fdce31"/><stop offset="0.51" stop-color="#feca34"/><stop offset="0.53" stop-color="#fdce31"/><stop offset="0.6" stop-color="#f6f11f"/><stop offset="0.68" stop-color="#f8f818"/><stop offset="0.79" stop-color="#f7f31d"/><stop offset="0.85" stop-color="#f9fb15"/><stop offset="1" stop-color="#f8f719"/></linearGradient><linearGradient id="b25" x1="0" y1="0" x2="0" y2="1"><stop offset="0" stop-color="#f5e526"/><stop offset="0.23" stop-color="#f5ec22"/><stop offset="0.4" stop-color="#f5e924"/><stop offset="0.49" stop-color="#fec934"/><stop offset="0.51" stop-color="#fec636"/><stop offset="0.53" stop-color="#fdcb33"/><stop offset="0.57" stop-color="#f5e825"/><stop offset="0.62" stop-color="#f7f41c"/><stop offset="0.72" stop-color="#f9fb15"/><stop offset="0.87" stop-color="#f9f916"/><stop offset="0.91" stop-color="#f7db2a"/><stop offset="0.94" stop-color="#fdcc32"/><stop offset="1" stop-color="#fec437"/></linearGradient><linearGradient id="b26" x1="0" y1="0" x2="0" y2="1"><stop offset="0" stop-color="#f7ba3c"/><stop offset="0.4" stop-color="#f5ba3a"/><stop offset="0.47" stop-color="#e9bb30"/><stop offset="0.51" stop-color="#eabb30"/><stop offset="0.53" stop-color="#f2ba38"/><stop offset="0.55" stop-color="#fec239"/><stop offset="0.57" stop-color="#f6df29"/><stop offset="0.6" stop-color="#f5ed22"/><stop offset="0.66" stop-color="#f9fb15"/><stop offset="0.7" stop-color="#f7f51b"/><stop offset="0.79" stop-color="#f9fb15"/><stop offset="0.89" stop-color="#f8f817"/><stop offset="1" stop-color="#f6f21e"/></linearGradient><linearGradient id="b27" x1="0" y1="0" x2="0" y2="1"><stop offset="0" stop-color="#f5eb23"/><stop offset="0.38" stop-color="#f5e924"/><stop offset="0.45" stop-color="#f9d72d"/><stop offset="0.49" stop-color="#fec636"/><stop offset="0.51" stop-color="#fec835"/><stop offset="0.57" stop-color="#f5ee21"/><stop offset="0.66" stop-color="#f9fb15"/><stop offset="0.79" stop-color="#f7f51b"/><stop offset="0.83" stop-color="#f9fb15"/><stop offset="1" stop-color="#f9fb15"/></linearGradient><linearGradient id="b28" x1="0" y1="0" x2="0" y2="1"><stop offset="0" stop-color="#fdce31"/><stop offset="0.36" stop-color="#fcd130"/><stop offset="0.43" stop-color="#fec239"/><stop offset="0.47" stop-color="#f7ba3c"/><stop offset="0.51" stop-color="#fcbd3d"/><stop offset="0.55" stop-color="#f5e725"/><stop offset="0.6" stop-color="#f7f51b"/><stop offset="0.79" stop-color="#f9f916"/><stop offset="0.89" stop-color="#f5ed22"/><stop offset="1" stop-color="#f6f21d"/></linearGradient><linearGradient id="b29" x1="0" y1="0" x2="0" y2="1"><stop offset="0" stop-color="#f6e128"/><stop offset="0.36" stop-color="#f6de29"/><stop offset="0.4" stop-color="#fbd42e"/><stop offset="0.45" stop-color="#febe3c"/><stop offset="0.49" stop-color="#fec239"/><stop offset="0.55" stop-color="#f6ef20"/><stop offset="0.62" stop-color="#f9fa15"/><stop offset="0.72" stop-color="#f7f41c"/><stop offset="0.83" stop-color="#f9fb15"/><stop offset="0.85" stop-color="#f7f31d"/><stop offset="0.87" stop-color="#f5e128"/><stop offset="0.89" stop-color="#fdce31"/><stop offset="0.91" stop-color="#fec437"/><stop offset="1" stop-color="#fec437"/></linearGradient><linearGradient id="b30" x1="0" y1="0" x2="0" y2="1"><stop offset="0" stop-color="#f5e626"/><stop offset="0.28" stop-color="#f5e526"/><stop offset="0.34" stop-color="#f5eb23"/><stop offset="0.4" stop-color="#f9d82c"/><stop offset="0.45" stop-color="#fec636"/><stop offset="0.47" stop-color="#fdcb33"/><stop offset="0.53" stop-color="#f6f01f"/><stop offset="0.57" stop-color="#f7f61a"/><stop offset="0.62" stop-color="#f6f21d"/><stop offset="0.68" stop-color="#f9fb15"/><stop offset="0.85" stop-color="#f8f818"/><stop offset="0.91" stop-color="#f5e725"/><stop offset="1" stop-color="#f5e625"/></linearGradient><linearGradient id="b31" x1="0" y1="0" x2="0" y2="1"><stop offset="0" stop-color="#fec338"/><stop offset="0.32" stop-color="#fec438"/><stop offset="0.38" stop-color="#f7ba3d"/><stop offset="0.43" stop-color="#f3ba38"/><stop offset="0.45" stop-color="#f6ba3c"/><stop offset="0.47" stop-color="#fec735"/><stop offset="0.49" stop-color="#f6e128"/><stop offset="0.53" stop-color="#f7f61a"/><stop offset="0.7" stop-color="#f9fb15"/><stop offset="0.74" stop-color="#f6f01f"/><stop offset="0.79" stop-color="#f5e128"/><stop offset="1" stop-color="#f6dd29"/></linearGradient><linearGradient id="b32" x1="0" y1="0" x2="0" y2="1"><stop offset="0" stop-color="#f8f817"/><stop offset="0.13" stop-color="#f7f51b"/><stop offset="0.3" stop-color="#f8f719"/><stop offset="0.36" stop-color="#f5e427"/><stop offset="0.4" stop-color="#fbd22f"/><stop offset="0.43" stop-color="#fbd32e"/><stop offset="0.49" stop-color="#f6f01f"/><stop offset="0.55" stop-color="#f9fa15"/><stop offset="0.62" stop-color="#f6f11e"/><stop offset="0.68" stop-color="#f9fb15"/><stop offset="0.72" stop-color="#f8f719"/><stop offset="0.77" stop-color="#f7dc2a"/><stop offset="0.79" stop-color="#fbd22f"/><stop offset="1" stop-color="#fbd22f"/></linearGradient><linearGradient id="b33" x1="0" y1="0" x2="0" y2="1"><stop offset="0" stop-color="#f9fb15"/><stop offset="0.23" stop-color="#f9fa15"/><stop offset="0.32" stop-color="#f5ee21"/><stop offset="0.38" stop-color="#fad42e"/><stop offset="0.43" stop-color="#f6de29"/><stop offset="0.49" stop-color="#f8f719"/><stop offset="0.83" stop-color="#f9fa15"/><stop offset="0.87" stop-color="#f7f31d"/><stop offset="0.94" stop-color="#f9fa15"/><stop offset="1" stop-color="#f9fa15"/></linearGradient><linearGradient id="b34" x1="0" y1="0" x2="0" y2="1"><stop offset="0" stop-color="#f6e128"/><stop offset="0.21" stop-color="#f5e228"/><stop offset="0.28" stop-color="#f7dc2a"/><stop offset="0.34" stop-color="#fec537"/><stop offset="0.36" stop-color="#fec834"/><stop offset="0.43" stop-color="#f5ec22"/><stop offset="0.49" stop-color="#f8f619"/><stop offset="0.66" stop-color="#f9fb15"/><stop offset="0.7" stop-color="#f7f61a"/><stop offset="0.74" stop-color="#f9f916"/><stop offset="0.98" stop-color="#f7f41c"/><stop offset="1" stop-color="#f6ef20"/></linearGradient><linearGradient id="b35" x1="0" y1="0" x2="0" y2="1"><stop offset="0" stop-color="#f5e725"/><stop offset="0.06" stop-color="#f5e725"/><stop offset="0.11" stop-color="#f6de29"/><stop offset="0.17" stop-color="#f5e725"/><stop offset="0.23" stop-color="#f5e227"/><stop offset="0.32" stop-color="#fec437"/><stop offset="0.34" stop-color="#fec834"/><stop offset="0.4" stop-color="#f6f020"/><stop offset="0.47" stop-color="#f8f917"/><stop offset="0.53" stop-color="#f6f11f"/><stop offset="0.6" stop-color="#f9fb15"/><stop offset="0.7" stop-color="#f9fa15"/><stop offset="0.72" stop-color="#f6f21e"/><stop offset="0.77" stop-color="#fec636"/><stop offset="0.79" stop-color="#fbbc3d"/><stop offset="0.85" stop-color="#fec338"/><stop offset="0.98" stop-color="#fec239"/><stop offset="1" stop-color="#fec338"/></linearGradient><linearGradient id="b36" x1="0" y1="0" x2="0" y2="1"><stop offset="0" stop-color="#f7f41c"/><stop offset="0.11" stop-color="#f6f11e"/><stop offset="0.15" stop-color="#f9fb15"/><stop offset="0.21" stop-color="#f7f31d"/><stop offset="0.28" stop-color="#f9d72c"/><stop offset="0.3" stop-color="#fad42e"/><stop offset="0.34" stop-color="#f5e227"/><stop offset="0.4" stop-color="#f8f818"/><stop offset="0.57" stop-color="#f9fb15"/><stop offset="0.62" stop-color="#f6f21d"/><stop offset="0.72" stop-color="#f6f21e"/><stop offset="0.79" stop-color="#f8da2b"/><stop offset="0.89" stop-color="#fad52d"/><stop offset="1" stop-color="#fad62d"/></linearGradient><linearGradient id="b37" x1="0" y1="0" x2="0" y2="1"><stop offset="0" stop-color="#f9fb15"/><stop offset="0.15" stop-color="#f8f917"/><stop offset="0.21" stop-color="#f5e427"/><stop offset="0.26" stop-color="#fad42e"/><stop offset="0.3" stop-color="#f6df29"/><stop offset="0.36" stop-color="#f8f719"/><stop offset="0.49" stop-color="#f8f917"/><stop offset="0.53" stop-color="#f6f11f"/><stop offset="0.6" stop-color="#f9fb15"/><stop offset="0.72" stop-color="#f8f818"/><stop offset="0.81" stop-color="#f5e327"/><stop offset="0.87" stop-color="#f7db2a"/><stop offset="0.91" stop-color="#f5e626"/><stop offset="1" stop-color="#f5e626"/></linearGradient><linearGradient id="b38" x1="0" y1="0" x2="0" y2="1"><stop offset="0" stop-color="#f9fb15"/><stop offset="0.06" stop-color="#f9fb15"/><stop offset="0.11" stop-color="#f6ef20"/><stop offset="0.15" stop-color="#f6ef20"/><stop offset="0.21" stop-color="#fad52e"/><stop offset="0.28" stop-color="#f6e028"/><stop offset="0.3" stop-color="#fcbd3d"/><stop offset="0.32" stop-color="#b0c636"/><stop offset="0.34" stop-color="#92ca4b"/><stop offset="0.36" stop-color="#94ca4a"/><stop offset="0.38" stop-color="#9dc943"/><stop offset="0.53" stop-color="#9bc945"/><stop offset="0.66" stop-color="#9fc942"/><stop offset="0.68" stop-color="#bcc42f"/><stop offset="0.7" stop-color="#f6e028"/><stop offset="0.72" stop-color="#f8f917"/><stop offset="0.79" stop-color="#f5e526"/><stop offset="1" stop-color="#f5e626"/></linearGradient><linearGradient id="b39" x1="0" y1="0" x2="0" y2="1"><stop offset="0" stop-color="#f9fb15"/><stop offset="0.06" stop-color="#f9fb15"/><stop offset="0.11" stop-color="#f6ef20"/><stop offset="0.15" stop-color="#f6ef20"/><stop offset="0.21" stop-color="#fad52e"/><stop offset="0.28" stop-color="#f6e028"/><stop offset="0.3" stop-color="#fcbd3d"/><stop offset="0.32" stop-color="#b0c636"/><stop offset="0.34" stop-color="#92ca4b"/><stop offset="0.36" stop-color="#94ca4a"/><stop offset="0.38" stop-color="#9dc943"/><stop offset="0.53" stop-color="#9bc945"/><stop offset="0.66" stop-color="#9fc942"/><stop offset="0.68" stop-color="#bcc42f"/><stop offset="0.7" stop-color="#f6e028"/><stop offset="0.72" stop-color="#f8f917"/><stop offset="0.79" stop-color="#f5e526"/><stop offset="1" stop-color="#f5e626"/></linearGradient><linearGradient id="b40" x1="0" y1="0" x2="0" y2="1"><stop offset="0" stop-color="#f9fb15"/><stop offset="0.06" stop-color="#f9fb15"/><stop offset="0.11" stop-color="#f6ef20"/><stop offset="0.15" stop-color="#f6ef20"/><stop offset="0.21" stop-color="#fad52e"/><stop offset="0.28" stop-color="#f6e028"/><stop offset="0.3" stop-color="#fcbd3d"/><stop offset="0.32" stop-color="#b0c636"/><stop offset="0.34" stop-color="#92ca4b"/><stop offset="0.36" stop-color="#94ca4a"/><stop offset="0.38" stop-color="#9dc943"/><stop offset="0.53" stop-color="#9bc945"/><stop offset="0.66" stop-color="#9fc942"/><stop offset="0.68" stop-color="#bcc42f"/><stop offset="0.7" stop-color="#f6e028"/><stop offset="0.72" stop-color="#f8f917"/><stop offset="0.79" stop-color="#f5e526"/><stop offset="1" stop-color="#f5e626"/></linearGradient><clipPath id="cpb"><rect x="338" y="48" width="177.3" height="167.6"/></clipPath></defs>
<g clip-path="url(#cpb)"><g filter="url(#hb)"><rect x="325.39" y="48" width="5.52" height="167.6" fill="url(#b0)"/><rect x="330.31" y="48" width="5.52" height="167.6" fill="url(#b1)"/><rect x="335.24" y="48" width="5.52" height="167.6" fill="url(#b2)"/><rect x="340.16" y="48" width="5.52" height="167.6" fill="url(#b3)"/><rect x="345.09" y="48" width="5.52" height="167.6" fill="url(#b4)"/><rect x="350.01" y="48" width="5.52" height="167.6" fill="url(#b5)"/><rect x="354.94" y="48" width="5.52" height="167.6" fill="url(#b6)"/><rect x="359.86" y="48" width="5.52" height="167.6" fill="url(#b7)"/><rect x="364.79" y="48" width="5.52" height="167.6" fill="url(#b8)"/><rect x="369.71" y="48" width="5.52" height="167.6" fill="url(#b9)"/><rect x="374.64" y="48" width="5.52" height="167.6" fill="url(#b10)"/><rect x="379.56" y="48" width="5.52" height="167.6" fill="url(#b11)"/><rect x="384.49" y="48" width="5.52" height="167.6" fill="url(#b12)"/><rect x="389.41" y="48" width="5.52" height="167.6" fill="url(#b13)"/><rect x="394.34" y="48" width="5.52" height="167.6" fill="url(#b14)"/><rect x="399.26" y="48" width="5.52" height="167.6" fill="url(#b15)"/><rect x="404.19" y="48" width="5.52" height="167.6" fill="url(#b16)"/><rect x="409.11" y="48" width="5.52" height="167.6" fill="url(#b17)"/><rect x="414.04" y="48" width="5.52" height="167.6" fill="url(#b18)"/><rect x="418.96" y="48" width="5.52" height="167.6" fill="url(#b19)"/><rect x="423.89" y="48" width="5.52" height="167.6" fill="url(#b20)"/><rect x="428.81" y="48" width="5.52" height="167.6" fill="url(#b21)"/><rect x="433.74" y="48" width="5.52" height="167.6" fill="url(#b22)"/><rect x="438.66" y="48" width="5.52" height="167.6" fill="url(#b23)"/><rect x="443.59" y="48" width="5.52" height="167.6" fill="url(#b24)"/><rect x="448.51" y="48" width="5.52" height="167.6" fill="url(#b25)"/><rect x="453.44" y="48" width="5.52" height="167.6" fill="url(#b26)"/><rect x="458.36" y="48" width="5.52" height="167.6" fill="url(#b27)"/><rect x="463.29" y="48" width="5.52" height="167.6" fill="url(#b28)"/><rect x="468.21" y="48" width="5.52" height="167.6" fill="url(#b29)"/><rect x="473.14" y="48" width="5.52" height="167.6" fill="url(#b30)"/><rect x="478.06" y="48" width="5.52" height="167.6" fill="url(#b31)"/><rect x="482.99" y="48" width="5.52" height="167.6" fill="url(#b32)"/><rect x="487.91" y="48" width="5.52" height="167.6" fill="url(#b33)"/><rect x="492.84" y="48" width="5.52" height="167.6" fill="url(#b34)"/><rect x="497.76" y="48" width="5.52" height="167.6" fill="url(#b35)"/><rect x="502.69" y="48" width="5.52" height="167.6" fill="url(#b36)"/><rect x="507.61" y="48" width="5.52" height="167.6" fill="url(#b37)"/><rect x="512.54" y="48" width="5.52" height="167.6" fill="url(#b38)"/><rect x="517.46" y="48" width="5.52" height="167.6" fill="url(#b39)"/><rect x="522.39" y="48" width="5.52" height="167.6" fill="url(#b40)"/></g>
<g filter="url(#pb)"><path d="M333.1 88.9L336.8 88.9L340.5 92.4L344.2 97.5L347.9 102.3L351.5 106.8L355.2 111.1L358.9 115.2L362.6 119L366.3 122.5L370 125.8L373.7 129.1L377.4 132.2L381.1 135.2L384.8 137.9L388.5 140.3L392.2 142.3L395.9 143.8L399.6 144.8L403.3 145.6L406.9 146.2L410.6 146.6L414.3 146.9L418 147.1L421.7 147.2L425.4 147.3L429.1 147.3L432.8 147.2L436.5 147L440.2 146.8L443.9 146.4L447.6 146L451.3 145.4L455 144.5L458.7 143.3L462.4 141.7L466 139.5L469.7 137L473.4 134.2L477.1 131.2L480.8 128L484.5 124.7L488.2 121.4L491.9 117.8L495.6 113.9L499.3 109.7L503 105.3L506.7 100.7L510.4 95.8L514.1 90.7L517.8 88.9L521.5 88.9L521.5 139L517.8 139L514.1 140.7L510.4 145.9L506.7 150.7L503 155.4L499.3 159.8L495.6 163.9L491.9 167.3L488.2 168.1L484.5 168.1L480.8 168.1L477.1 174.9L473.4 177.2L469.7 179.3L466 181L462.4 182.4L458.7 183.5L455 184.4L451.3 185.2L447.6 185.8L443.9 186.3L440.2 186.6L436.5 186.9L432.8 187L429.1 187.1L425.4 187.1L421.7 187.1L418 186.9L414.3 186.7L410.6 186.4L406.9 186L403.3 185.4L399.6 184.7L395.9 183.9L392.2 182.8L388.5 181.5L384.8 179.9L381.1 177.9L377.4 175.6L373.7 173.5L370 168.1L366.3 168.1L362.6 168.1L358.9 165.2L355.2 161.2L351.5 156.9L347.9 152.3L344.2 147.5L340.5 142.5L336.8 139L333.1 139ZM373.7 156.6L377.4 156.1L381.1 156.6L384.8 157.1L388.5 157.5L392.2 158.1L395.9 158.8L399.6 159.6L403.3 160.5L406.9 161.2L410.6 161.9L414.3 162.4L418 162.9L421.7 163.1L425.4 163.3L429.1 163.2L432.8 163.1L436.5 162.7L440.2 162.3L443.9 161.7L447.6 161L451.3 160.2L455 159.4L458.7 158.6L462.4 157.9L466 157.4L469.7 156.9L473.4 156.4L477.1 155.9L480.8 158.6L480.8 184.1L477.1 188L473.4 188.6L469.7 189.3L466 190.2L462.4 191.2L458.7 192.2L455 193.1L451.3 194L447.6 194.7L443.9 195.4L440.2 196L436.5 196.5L432.8 196.8L429.1 197L425.4 197L421.7 196.9L418 196.6L414.3 196.2L410.6 195.7L406.9 195L403.3 194.2L399.6 193.4L395.9 192.5L392.2 191.6L388.5 190.6L384.8 189.6L381.1 188.8L377.4 188.2L373.7 186.6Z" fill="#f9d72c" fill-opacity="0.12"/><path d="M333.1 91.8L336.8 91.8L340.5 95.3L344.2 100.3L347.9 105.1L351.5 109.7L355.2 114L358.9 118.1L362.6 121.9L366.3 125.4L370 128.7L373.7 132L377.4 135.1L381.1 138.1L384.8 140.8L388.5 143.2L392.2 145.2L395.9 146.8L399.6 147.9L403.3 148.6L406.9 149.2L410.6 149.6L414.3 149.9L418 150.1L421.7 150.3L425.4 150.3L429.1 150.3L432.8 150.2L436.5 150.1L440.2 149.8L443.9 149.5L447.6 149L451.3 148.4L455 147.5L458.7 146.3L462.4 144.6L466 142.5L469.7 139.9L473.4 137.1L477.1 134.1L480.8 130.9L484.5 127.6L488.2 124.3L491.9 120.6L495.6 116.8L499.3 112.6L503 108.2L506.7 103.6L510.4 98.7L514.1 93.6L517.8 91.8L521.5 91.8L521.5 135.9L517.8 135.9L514.1 137.6L510.4 142.8L506.7 147.6L503 152.3L499.3 156.7L495.6 160.8L491.9 164.3L488.2 166.8L484.5 168.1L480.8 168.1L477.1 172.8L473.4 175.1L469.7 177.2L466 178.9L462.4 180.3L458.7 181.4L455 182.3L451.3 183L447.6 183.7L443.9 184.1L440.2 184.5L436.5 184.7L432.8 184.9L429.1 185L425.4 185L421.7 184.9L418 184.8L414.3 184.6L410.6 184.2L406.9 183.8L403.3 183.3L399.6 182.6L395.9 181.7L392.2 180.7L388.5 179.4L384.8 177.8L381.1 175.9L377.4 173.6L373.7 171.4L370 168.1L366.3 167.6L362.6 165.2L358.9 162.1L355.2 158.1L351.5 153.8L347.9 149.2L344.2 144.4L340.5 139.4L336.8 135.9L333.1 135.9ZM373.7 159.1L377.4 158L381.1 158.5L384.8 158.9L388.5 159.4L392.2 159.9L395.9 160.6L399.6 161.4L403.3 162.2L406.9 163L410.6 163.6L414.3 164.2L418 164.6L421.7 164.9L425.4 165L429.1 165L432.8 164.8L436.5 164.5L440.2 164L443.9 163.4L447.6 162.7L451.3 162L455 161.1L458.7 160.4L462.4 159.7L466 159.2L469.7 158.8L473.4 158.3L477.1 157.8L480.8 165.1L480.8 177.1L477.1 185.9L473.4 186.4L469.7 187.2L466 188.2L462.4 189.2L458.7 190.2L455 191.2L451.3 192L447.6 192.8L443.9 193.5L440.2 194.1L436.5 194.6L432.8 194.9L429.1 195.1L425.4 195.1L421.7 195L418 194.7L414.3 194.3L410.6 193.7L406.9 193L403.3 192.3L399.6 191.5L395.9 190.6L392.2 189.6L388.5 188.5L384.8 187.5L381.1 186.6L377.4 186.1L373.7 183.8Z" fill="#febf3b" fill-opacity="0.36"/><path d="M333.1 93.2L336.8 93.2L340.5 96.7L344.2 101.8L347.9 106.6L351.5 111.1L355.2 115.5L358.9 119.5L362.6 123.3L366.3 126.8L370 130.1L373.7 133.4L377.4 136.5L381.1 139.5L384.8 142.3L388.5 144.8L392.2 147L395.9 148.6L399.6 149.8L403.3 150.5L406.9 151.1L410.6 151.5L414.3 151.8L418 152L421.7 152.2L425.4 152.2L429.1 152.2L432.8 152.1L436.5 152L440.2 151.7L443.9 151.4L447.6 150.9L451.3 150.3L455 149.4L458.7 148.1L462.4 146.3L466 144L469.7 141.4L473.4 138.5L477.1 135.5L480.8 132.3L484.5 129.1L488.2 125.7L491.9 122.1L495.6 118.2L499.3 114L503 109.6L506.7 105L510.4 100.1L514.1 95L517.8 93.2L521.5 93.2L521.5 134.3L517.8 134.3L514.1 136.1L510.4 141.2L506.7 146.1L503 150.8L499.3 155.2L495.6 159.3L491.9 162.8L488.2 165.5L484.5 167.6L480.8 168.1L477.1 171.8L473.4 174.1L469.7 176.1L466 177.8L462.4 179.1L458.7 180.1L455 181L451.3 181.7L447.6 182.3L443.9 182.7L440.2 183.1L436.5 183.3L432.8 183.5L429.1 183.6L425.4 183.6L421.7 183.5L418 183.4L414.3 183.2L410.6 182.9L406.9 182.4L403.3 181.9L399.6 181.2L395.9 180.4L392.2 179.5L388.5 178.3L384.8 176.7L381.1 174.8L377.4 172.6L373.7 170.3L370 168.1L366.3 166.2L362.6 163.8L358.9 160.6L355.2 156.6L351.5 152.3L347.9 147.7L344.2 142.9L340.5 137.8L336.8 134.3L333.1 134.3ZM373.7 161.5L377.4 159.4L381.1 159.9L384.8 160.3L388.5 160.5L392.2 160.9L395.9 161.5L399.6 162.3L403.3 163.1L406.9 163.8L410.6 164.5L414.3 165.1L418 165.5L421.7 165.8L425.4 165.9L429.1 165.9L432.8 165.7L436.5 165.4L440.2 164.9L443.9 164.3L447.6 163.6L451.3 162.8L455 162L458.7 161.3L462.4 160.8L466 160.4L469.7 160.2L473.4 159.8L477.1 159.3L477.1 184.3L473.4 184.8L469.7 185.6L466 186.8L462.4 188.1L458.7 189.2L455 190.2L451.3 191L447.6 191.8L443.9 192.5L440.2 193.1L436.5 193.6L432.8 193.9L429.1 194.1L425.4 194.1L421.7 194L418 193.7L414.3 193.3L410.6 192.7L406.9 192.1L403.3 191.3L399.6 190.5L395.9 189.6L392.2 188.4L388.5 187.2L384.8 186L381.1 185L377.4 184.5L373.7 181.1Z" fill="#e1bc2b" fill-opacity="0.6"/><path d="M333.1 94.6L336.8 94.6L340.5 98.1L344.2 103.2L347.9 108L351.5 112.6L355.2 116.9L358.9 120.9L362.6 124.7L366.3 128.3L370 131.6L373.7 134.8L377.4 138L381.1 141L384.8 143.8L388.5 146.4L392.2 148.6L395.9 150.3L399.6 151.5L403.3 152.3L406.9 152.9L410.6 153.3L414.3 153.6L418 153.8L421.7 153.9L425.4 154L429.1 154L432.8 153.9L436.5 153.8L440.2 153.5L443.9 153.2L447.6 152.7L451.3 152.1L455 151.2L458.7 149.8L462.4 147.9L466 145.6L469.7 142.9L473.4 140L477.1 136.9L480.8 133.8L484.5 130.5L488.2 127.1L491.9 123.5L495.6 119.6L499.3 115.5L503 111.1L506.7 106.4L510.4 101.5L514.1 96.4L517.8 94.6L521.5 94.6L521.5 132.8L517.8 132.8L514.1 134.6L510.4 139.7L506.7 144.6L503 149.2L499.3 153.6L495.6 157.8L491.9 161.3L488.2 164.1L484.5 166.4L480.8 168.1L477.1 170.7L473.4 173.1L469.7 175.1L466 176.7L462.4 177.9L458.7 178.9L455 179.7L451.3 180.4L447.6 181L443.9 181.5L440.2 181.8L436.5 182.1L432.8 182.2L429.1 182.3L425.4 182.3L421.7 182.3L418 182.1L414.3 181.9L410.6 181.6L406.9 181.2L403.3 180.6L399.6 179.9L395.9 179.2L392.2 178.3L388.5 177.1L384.8 175.6L381.1 173.8L377.4 171.5L373.7 169.2L370 167.1L366.3 164.9L362.6 162.3L358.9 159.1L355.2 155L351.5 150.7L347.9 146.2L344.2 141.4L340.5 136.3L336.8 132.8L333.1 132.8ZM373.7 163.9L377.4 160.7L381.1 161.3L384.8 161.5L388.5 161.6L392.2 161.9L395.9 162.4L399.6 163.1L403.3 163.9L406.9 164.7L410.6 165.4L414.3 165.9L418 166.4L421.7 166.6L425.4 166.8L429.1 166.7L432.8 166.6L436.5 166.2L440.2 165.8L443.9 165.2L447.6 164.5L451.3 163.7L455 162.9L458.7 162.2L462.4 161.8L466 161.5L469.7 161.4L473.4 161.1L477.1 160.6L477.1 182.8L473.4 183.3L469.7 184.3L466 185.6L462.4 186.9L458.7 188.2L455 189.2L451.3 190.1L447.6 190.9L443.9 191.6L440.2 192.1L436.5 192.6L432.8 192.9L429.1 193.1L425.4 193.2L421.7 193L418 192.7L414.3 192.3L410.6 191.8L406.9 191.1L403.3 190.3L399.6 189.5L395.9 188.5L392.2 187.4L388.5 186L384.8 184.7L381.1 183.6L377.4 183L373.7 178.5Z" fill="#b3c534" fill-opacity="0.83"/><path d="M333.1 95.9L336.8 95.9L340.5 99.4L344.2 104.5L347.9 109.3L351.5 113.9L355.2 118.2L358.9 122.2L362.6 126L366.3 129.6L370 132.9L373.7 136.1L377.4 139.3L381.1 142.3L384.8 145.2L388.5 147.8L392.2 150.1L395.9 151.9L399.6 153.2L403.3 154L406.9 154.6L410.6 155L414.3 155.3L418 155.5L421.7 155.6L425.4 155.7L429.1 155.7L432.8 155.6L436.5 155.4L440.2 155.2L443.9 154.9L447.6 154.4L451.3 153.8L455 152.8L458.7 151.4L462.4 149.4L466 147L469.7 144.2L473.4 141.3L477.1 138.2L480.8 135.1L484.5 131.8L488.2 128.4L491.9 124.8L495.6 120.9L499.3 116.8L503 112.4L506.7 107.7L510.4 102.8L514.1 97.7L517.8 95.9L521.5 95.9L521.5 131.4L517.8 131.4L514.1 133.2L510.4 138.3L506.7 143.2L503 147.8L499.3 152.2L495.6 156.4L491.9 160L488.2 162.9L484.5 165.3L480.8 167.5L477.1 169.8L473.4 172.2L469.7 174.1L466 175.7L462.4 176.9L458.7 177.8L455 178.5L451.3 179.2L447.6 179.8L443.9 180.3L440.2 180.6L436.5 180.9L432.8 181L429.1 181.1L425.4 181.1L421.7 181.1L418 180.9L414.3 180.7L410.6 180.4L406.9 180L403.3 179.4L399.6 178.7L395.9 178L392.2 177.2L388.5 176.1L384.8 174.7L381.1 172.9L377.4 170.6L373.7 168.3L370 166.1L366.3 163.7L362.6 161L358.9 157.7L355.2 153.6L351.5 149.3L347.9 144.8L344.2 140L340.5 134.9L336.8 131.4L333.1 131.4ZM373.7 168L377.4 162.2L381.1 162.7L384.8 162.7L388.5 162.6L392.2 162.8L395.9 163.2L399.6 163.9L403.3 164.7L406.9 165.5L410.6 166.2L414.3 166.7L418 167.1L421.7 167.4L425.4 167.6L429.1 167.5L432.8 167.3L436.5 167L440.2 166.5L443.9 166L447.6 165.3L451.3 164.5L455 163.7L458.7 163L462.4 162.7L466 162.6L469.7 162.8L473.4 162.6L477.1 162.1L477.1 181.2L473.4 181.7L469.7 182.8L466 184.4L462.4 185.9L458.7 187.2L455 188.3L451.3 189.2L447.6 190L443.9 190.7L440.2 191.3L436.5 191.7L432.8 192.1L429.1 192.2L425.4 192.3L421.7 192.1L418 191.9L414.3 191.4L410.6 190.9L406.9 190.2L403.3 189.5L399.6 188.6L395.9 187.6L392.2 186.4L388.5 184.9L384.8 183.3L381.1 181.9L377.4 181.3L373.7 175.2Z" fill="#7bcc5d"/><path d="M333.1 97.2L336.8 97.2L340.5 100.7L344.2 105.8L347.9 110.6L351.5 115.1L355.2 119.4L358.9 123.5L362.6 127.3L366.3 130.8L370 134.1L373.7 137.4L377.4 140.5L381.1 143.6L384.8 146.5L388.5 149.2L392.2 151.7L395.9 153.7L399.6 155.1L403.3 155.9L406.9 156.5L410.6 156.9L414.3 157.2L418 157.4L421.7 157.6L425.4 157.6L429.1 157.6L432.8 157.5L436.5 157.4L440.2 157.1L443.9 156.8L447.6 156.3L451.3 155.7L455 154.7L458.7 153.1L462.4 150.9L466 148.3L469.7 145.5L473.4 142.6L477.1 139.5L480.8 136.3L484.5 133L488.2 129.7L491.9 126.1L495.6 122.2L499.3 118L503 113.6L506.7 109L510.4 104.1L514.1 99L517.8 97.2L521.5 97.2L521.5 130.1L517.8 130.1L514.1 131.8L510.4 137L506.7 141.8L503 146.5L499.3 150.9L495.6 155L491.9 158.7L488.2 161.7L484.5 164.2L480.8 166.6L477.1 168.9L473.4 171.3L469.7 173.2L466 174.7L462.4 175.8L458.7 176.6L455 177.2L451.3 177.8L447.6 178.4L443.9 178.9L440.2 179.3L436.5 179.5L432.8 179.7L429.1 179.7L425.4 179.8L421.7 179.7L418 179.6L414.3 179.3L410.6 179L406.9 178.6L403.3 178.1L399.6 177.4L395.9 176.8L392.2 176.1L388.5 175.1L384.8 173.7L381.1 171.9L377.4 169.7L373.7 167.3L370 165L366.3 162.5L362.6 159.7L358.9 156.3L355.2 152.3L351.5 148L347.9 143.4L344.2 138.6L340.5 133.6L336.8 130.1L333.1 130.1ZM377.4 163.6L381.1 164.1L384.8 164.1L388.5 163.7L392.2 163.7L395.9 164L399.6 164.7L403.3 165.5L406.9 166.3L410.6 166.9L414.3 167.5L418 167.9L421.7 168.2L425.4 168.3L429.1 168.3L432.8 168.1L436.5 167.8L440.2 167.3L443.9 166.7L447.6 166L451.3 165.2L455 164.4L458.7 163.9L462.4 163.6L466 163.8L469.7 164.1L473.4 164L477.1 163.5L477.1 179.6L473.4 180.1L469.7 181.2L466 183L462.4 184.8L458.7 186.3L455 187.5L451.3 188.3L447.6 189.1L443.9 189.8L440.2 190.4L436.5 190.9L432.8 191.2L429.1 191.4L425.4 191.4L421.7 191.3L418 191L414.3 190.6L410.6 190L406.9 189.4L403.3 188.6L399.6 187.8L395.9 186.8L392.2 185.4L388.5 183.6L384.8 181.8L381.1 180.4L377.4 179.8Z" fill="#47cb87"/><path d="M333.1 98.5L336.8 98.5L340.5 102L344.2 107L347.9 111.9L351.5 116.4L355.2 120.7L358.9 124.8L362.6 128.6L366.3 132.1L370 135.4L373.7 138.7L377.4 141.8L381.1 144.9L384.8 147.9L388.5 150.8L392.2 153.4L395.9 155.5L399.6 157L403.3 157.8L406.9 158.4L410.6 158.8L414.3 159.1L418 159.3L421.7 159.5L425.4 159.5L429.1 159.5L432.8 159.4L436.5 159.3L440.2 159L443.9 158.7L447.6 158.2L451.3 157.6L455 156.6L458.7 154.9L462.4 152.6L466 149.9L469.7 146.9L473.4 143.9L477.1 140.8L480.8 137.6L484.5 134.3L488.2 131L491.9 127.3L495.6 123.5L499.3 119.3L503 114.9L506.7 110.3L510.4 105.4L514.1 100.3L517.8 98.5L521.5 98.5L521.5 128.7L517.8 128.7L514.1 130.4L510.4 135.6L506.7 140.5L503 145.1L499.3 149.5L495.6 153.7L491.9 157.3L488.2 160.4L484.5 163.1L480.8 165.6L477.1 168L473.4 170.3L469.7 172.2L466 173.6L462.4 174.6L458.7 175.3L455 175.8L451.3 176.5L447.6 177.1L443.9 177.5L440.2 177.9L436.5 178.1L432.8 178.3L429.1 178.4L425.4 178.4L421.7 178.3L418 178.2L414.3 178L410.6 177.7L406.9 177.2L403.3 176.7L399.6 176L395.9 175.5L392.2 174.9L388.5 174L384.8 172.7L381.1 171L377.4 168.8L373.7 166.4L370 163.9L366.3 161.3L362.6 158.4L358.9 154.9L355.2 150.9L351.5 146.6L347.9 142L344.2 137.2L340.5 132.2L336.8 128.7L333.1 128.7ZM377.4 164.9L381.1 165.4L384.8 165.2L388.5 164.9L392.2 164.7L395.9 164.9L399.6 165.5L403.3 166.3L406.9 167L410.6 167.7L414.3 168.3L418 168.7L421.7 169L425.4 169.1L429.1 169.1L432.8 168.9L436.5 168.6L440.2 168.1L443.9 167.5L447.6 166.8L451.3 166L455 165.2L458.7 164.7L462.4 164.7L466 165L469.7 165.3L473.4 165.3L477.1 164.7L477.1 178.2L473.4 178.7L469.7 179.9L466 181.7L462.4 183.7L458.7 185.3L455 186.6L451.3 187.5L447.6 188.2L443.9 188.9L440.2 189.5L436.5 190L432.8 190.3L429.1 190.5L425.4 190.5L421.7 190.4L418 190.1L414.3 189.7L410.6 189.2L406.9 188.5L403.3 187.7L399.6 186.9L395.9 185.8L392.2 184.3L388.5 182.3L384.8 180.4L381.1 178.9L377.4 178.3Z" fill="#2bc3a8"/><path d="M333.1 99.9L336.8 99.9L340.5 103.4L344.2 108.5L347.9 113.3L351.5 117.9L355.2 122.2L358.9 126.2L362.6 130L366.3 133.6L370 136.9L373.7 140.1L377.4 143.3L381.1 146.4L384.8 149.5L388.5 152.4L392.2 155.1L395.9 157.2L399.6 158.6L403.3 159.5L406.9 160L410.6 160.5L414.3 160.8L418 161L421.7 161.1L425.4 161.2L429.1 161.2L432.8 161.1L436.5 160.9L440.2 160.7L443.9 160.3L447.6 159.9L451.3 159.3L455 158.2L458.7 156.5L462.4 154.3L466 151.5L469.7 148.4L473.4 145.3L477.1 142.2L480.8 139L484.5 135.8L488.2 132.4L491.9 128.8L495.6 124.9L499.3 120.8L503 116.4L506.7 111.7L510.4 106.8L514.1 101.7L517.8 99.9L521.5 99.9L521.5 127.1L517.8 127.1L514.1 128.9L510.4 134L506.7 138.9L503 143.6L499.3 148L495.6 152.1L491.9 155.8L488.2 159L484.5 161.9L480.8 164.5L477.1 166.9L473.4 169.3L469.7 171.1L466 172.5L462.4 173.4L458.7 174.1L455 174.7L451.3 175.3L447.6 175.9L443.9 176.4L440.2 176.7L436.5 176.9L432.8 177.1L429.1 177.2L425.4 177.2L421.7 177.1L418 177L414.3 176.8L410.6 176.5L406.9 176.1L403.3 175.5L399.6 174.9L395.9 174.3L392.2 173.7L388.5 172.8L384.8 171.6L381.1 169.9L377.4 167.8L373.7 165.3L370 162.8L366.3 160L362.6 156.9L358.9 153.4L355.2 149.4L351.5 145.1L347.9 140.5L344.2 135.7L340.5 130.6L336.8 127.1L333.1 127.1ZM377.4 167.2L381.1 167.6L384.8 166.4L388.5 165.9L392.2 165.7L395.9 165.8L399.6 166.3L403.3 167.2L406.9 167.9L410.6 168.6L414.3 169.1L418 169.6L421.7 169.8L425.4 170L429.1 169.9L432.8 169.8L436.5 169.4L440.2 169L443.9 168.4L447.6 167.7L451.3 166.9L455 166.1L458.7 165.7L462.4 165.7L466 166L469.7 166.8L473.4 167.6L477.1 167.1L477.1 176.4L473.4 176.9L469.7 178.5L466 180.5L462.4 182.5L458.7 184.3L455 185.6L451.3 186.5L447.6 187.3L443.9 188L440.2 188.6L436.5 189L432.8 189.4L429.1 189.5L425.4 189.6L421.7 189.4L418 189.2L414.3 188.7L410.6 188.2L406.9 187.5L403.3 186.7L399.6 185.9L395.9 184.8L392.2 183.1L388.5 181.2L384.8 179.2L381.1 177.3L377.4 176.6Z" fill="#02bac4"/><path d="M333.1 101.4L336.8 101.4L340.5 104.9L344.2 109.9L347.9 114.7L351.5 119.3L355.2 123.6L358.9 127.7L362.6 131.5L366.3 135L370 138.3L373.7 141.6L377.4 144.7L381.1 147.8L384.8 150.9L388.5 153.9L392.2 156.5L395.9 158.7L399.6 160.3L403.3 161.1L406.9 161.7L410.6 162.1L414.3 162.4L418 162.6L421.7 162.8L425.4 162.8L429.1 162.8L432.8 162.7L436.5 162.6L440.2 162.3L443.9 162L447.6 161.5L451.3 160.9L455 159.8L458.7 158.1L462.4 155.7L466 152.9L469.7 149.9L473.4 146.8L477.1 143.7L480.8 140.5L484.5 137.2L488.2 133.8L491.9 130.2L495.6 126.3L499.3 122.2L503 117.8L506.7 113.2L510.4 108.3L514.1 103.1L517.8 101.4L521.5 101.4L521.5 125.6L517.8 125.6L514.1 127.4L510.4 132.5L506.7 137.4L503 142L499.3 146.4L495.6 150.6L491.9 154.3L488.2 157.7L484.5 160.6L480.8 163.3L477.1 165.9L473.4 168.2L469.7 170.1L466 171.4L462.4 172.4L458.7 173L455 173.5L451.3 174.1L447.6 174.7L443.9 175.2L440.2 175.5L436.5 175.8L432.8 175.9L429.1 176L425.4 176L421.7 176L418 175.8L414.3 175.6L410.6 175.3L406.9 174.9L403.3 174.3L399.6 173.7L395.9 173.2L392.2 172.6L388.5 171.8L384.8 170.6L381.1 168.9L377.4 166.7L373.7 164.2L370 161.6L366.3 158.7L362.6 155.5L358.9 151.9L355.2 147.8L351.5 143.5L347.9 139L344.2 134.1L340.5 129.1L336.8 125.6L333.1 125.6ZM384.8 168.9L388.5 166.9L392.2 166.5L395.9 166.7L399.6 167.2L403.3 168L406.9 168.8L410.6 169.5L414.3 170L418 170.4L421.7 170.7L425.4 170.8L429.1 170.8L432.8 170.6L436.5 170.3L440.2 169.8L443.9 169.3L447.6 168.6L451.3 167.8L455 167L458.7 166.6L462.4 166.6L466 167.3L469.7 171.1L469.7 175.4L466 179.4L462.4 181.5L458.7 183.3L455 184.6L451.3 185.5L447.6 186.3L443.9 187L440.2 187.6L436.5 188L432.8 188.4L429.1 188.6L425.4 188.6L421.7 188.5L418 188.2L414.3 187.7L410.6 187.2L406.9 186.5L403.3 185.8L399.6 185L395.9 183.8L392.2 182.2L388.5 180.1L384.8 177.4Z" fill="#18aedb"/><path d="M333.1 102.6L336.8 102.6L340.5 106.1L344.2 111.2L347.9 116L351.5 120.6L355.2 124.9L358.9 128.9L362.6 132.7L366.3 136.3L370 139.6L373.7 142.8L377.4 146L381.1 149.1L384.8 152.2L388.5 155.2L392.2 158L395.9 160.2L399.6 161.9L403.3 162.8L406.9 163.4L410.6 163.8L414.3 164.1L418 164.3L421.7 164.5L425.4 164.5L429.1 164.5L432.8 164.4L436.5 164.3L440.2 164L443.9 163.7L447.6 163.2L451.3 162.6L455 161.3L458.7 159.5L462.4 157.1L466 154.3L469.7 151.2L473.4 148L477.1 144.9L480.8 141.8L484.5 138.5L488.2 135.1L491.9 131.5L495.6 127.6L499.3 123.5L503 119.1L506.7 114.4L510.4 109.5L514.1 104.4L517.8 102.6L521.5 102.6L521.5 124.2L517.8 124.2L514.1 126L510.4 131.1L506.7 136L503 140.7L499.3 145.1L495.6 149.2L491.9 153L488.2 156.4L484.5 159.5L480.8 162.4L477.1 165L473.4 167.3L469.7 169.2L466 170.5L462.4 171.4L458.7 171.9L455 172.1L451.3 172.4L447.6 173L443.9 173.5L440.2 173.8L436.5 174.1L432.8 174.2L429.1 174.3L425.4 174.3L421.7 174.3L418 174.1L414.3 173.9L410.6 173.6L406.9 173.2L403.3 172.6L399.6 172.1L395.9 172L392.2 171.6L388.5 170.8L384.8 169.7L381.1 168L377.4 165.8L373.7 163.3L370 160.5L366.3 157.5L362.6 154.2L358.9 150.5L355.2 146.5L351.5 142.2L347.9 137.6L344.2 132.8L340.5 127.7L336.8 124.2L333.1 124.2ZM388.5 168.5L392.2 167.4L395.9 167.4L399.6 168L403.3 168.8L406.9 169.6L410.6 170.2L414.3 170.8L418 171.2L421.7 171.5L425.4 171.6L429.1 171.6L432.8 171.4L436.5 171.1L440.2 170.6L443.9 170L447.6 169.3L451.3 168.5L455 167.7L458.7 167.4L462.4 167.5L466 169.7L466 177.6L462.4 180.5L458.7 182.4L455 183.8L451.3 184.6L447.6 185.4L443.9 186.1L440.2 186.7L436.5 187.2L432.8 187.5L429.1 187.7L425.4 187.7L421.7 187.6L418 187.3L414.3 186.9L410.6 186.3L406.9 185.7L403.3 184.9L399.6 184.1L395.9 182.9L392.2 181.2L388.5 178.9Z" fill="#259ce7"/><path d="M333.1 103.9L336.8 103.9L340.5 107.4L344.2 112.4L347.9 117.2L351.5 121.8L355.2 126.1L358.9 130.2L362.6 134L366.3 137.5L370 140.8L373.7 144.1L377.4 147.2L381.1 150.3L384.8 153.5L388.5 156.6L392.2 159.4L395.9 162.3L395.9 169.8L392.2 170.2L388.5 169.8L384.8 168.7L381.1 167.1L377.4 164.9L373.7 162.4L370 159.5L366.3 156.4L362.6 153L358.9 149.2L355.2 145.2L351.5 140.8L347.9 136.3L344.2 131.5L340.5 126.4L336.8 122.9L333.1 122.9ZM455 165.8L458.7 161.4L462.4 158.4L466 155.6L469.7 152.5L473.4 149.3L477.1 146.2L480.8 143L484.5 139.7L488.2 136.3L491.9 132.7L495.6 128.8L499.3 124.7L503 120.3L506.7 115.6L510.4 110.8L514.1 105.6L517.8 103.9L521.5 103.9L521.5 122.9L517.8 122.9L514.1 124.7L510.4 129.8L506.7 134.7L503 139.4L499.3 143.8L495.6 147.9L491.9 151.7L488.2 155.3L484.5 158.5L480.8 161.4L477.1 164.1L473.4 166.5L469.7 168.2L466 169.5L462.4 170.2L458.7 170L455 167.6ZM388.5 174.4L392.2 168.5L395.9 168.2L399.6 168.7L403.3 169.5L406.9 170.3L410.6 171L414.3 171.5L418 172L421.7 172.2L425.4 172.4L429.1 172.3L432.8 172.2L436.5 171.8L440.2 171.4L443.9 170.8L447.6 170.1L451.3 169.3L455 168.5L458.7 168.2L462.4 169.1L462.4 179.4L458.7 181.5L455 182.9L451.3 183.8L447.6 184.6L443.9 185.3L440.2 185.9L436.5 186.4L432.8 186.7L429.1 186.9L425.4 186.9L421.7 186.8L418 186.5L414.3 186.1L410.6 185.5L406.9 184.8L403.3 184.1L399.6 183.3L395.9 182.1L392.2 180.3L388.5 174.6Z" fill="#2d88f6"/><path d="M333.1 105.1L336.8 105.1L340.5 108.6L344.2 113.6L347.9 118.4L351.5 123L355.2 127.3L358.9 131.4L362.6 135.2L366.3 138.7L370 142L373.7 145.3L377.4 148.4L381.1 151.5L384.8 154.7L388.5 158.2L392.2 163.4L392.2 166.2L388.5 168.1L384.8 167.6L381.1 166.2L377.4 164.1L373.7 161.4L370 158.5L366.3 155.2L362.6 151.7L358.9 147.9L355.2 143.9L351.5 139.5L347.9 135L344.2 130.2L340.5 125.1L336.8 121.6L333.1 121.6ZM462.4 160.6L466 157L469.7 153.7L473.4 150.5L477.1 147.4L480.8 144.2L484.5 140.9L488.2 137.6L491.9 133.9L495.6 130.1L499.3 125.9L503 121.5L506.7 116.9L510.4 112L514.1 106.9L517.8 105.1L521.5 105.1L521.5 121.6L517.8 121.6L514.1 123.4L510.4 128.5L506.7 133.4L503 138L499.3 142.4L495.6 146.6L491.9 150.5L488.2 154.1L484.5 157.4L480.8 160.5L477.1 163.2L473.4 165.5L469.7 167.2L466 168.1L462.4 168ZM392.2 170.6L395.9 169.2L399.6 169.5L403.3 170.3L406.9 171.1L410.6 171.7L414.3 172.3L418 172.7L421.7 173L425.4 173.1L429.1 173.1L432.8 172.9L436.5 172.6L440.2 172.1L443.9 171.5L447.6 170.8L451.3 170L455 169.3L458.7 169.3L462.4 173.8L462.4 176L458.7 180.6L455 182.1L451.3 183L447.6 183.8L443.9 184.5L440.2 185.1L436.5 185.5L432.8 185.9L429.1 186L425.4 186.1L421.7 185.9L418 185.7L414.3 185.2L410.6 184.7L406.9 184L403.3 183.3L399.6 182.4L395.9 181.2L392.2 178.7Z" fill="#3c72ff"/><path d="M333.1 106.4L336.8 106.4L340.5 109.9L344.2 114.9L347.9 119.8L351.5 124.3L355.2 128.6L358.9 132.7L362.6 136.5L366.3 140L370 143.3L373.7 146.6L377.4 149.6L381.1 153L384.8 156.6L384.8 165.7L381.1 164.8L377.4 162.8L373.7 160.2L370 157.2L366.3 153.9L362.6 150.4L358.9 146.6L355.2 142.5L351.5 138.2L347.9 133.7L344.2 128.9L340.5 123.8L336.8 120.3L333.1 120.3ZM466 160.4L469.7 155.4L473.4 151.8L477.1 148.6L480.8 145.5L484.5 142.2L488.2 138.9L491.9 135.2L495.6 131.4L499.3 127.2L503 122.8L506.7 118.2L510.4 113.3L514.1 108.2L517.8 106.4L521.5 106.4L521.5 120.3L517.8 120.3L514.1 122.1L510.4 127.2L506.7 132.1L503 136.7L499.3 141.1L495.6 145.3L491.9 149.2L488.2 152.8L484.5 156.1L480.8 159.2L477.1 162L473.4 164.2L469.7 165.5L466 164.7ZM395.9 170.9L399.6 170.7L403.3 171.5L406.9 172.2L410.6 172.9L414.3 173.5L418 173.9L421.7 174.2L425.4 174.3L429.1 174.3L432.8 174.1L436.5 173.8L440.2 173.3L443.9 172.7L447.6 172L451.3 171.2L455 170.5L458.7 171.4L458.7 179.1L455 181.2L451.3 182.1L447.6 182.9L443.9 183.6L440.2 184.2L436.5 184.7L432.8 185L429.1 185.2L425.4 185.2L421.7 185.1L418 184.8L414.3 184.4L410.6 183.8L406.9 183.1L403.3 182.4L399.6 181.6L395.9 179.9Z" fill="#475bf9"/><path d="M333.1 108.8L336.8 108.8L340.5 112.3L344.2 117.3L347.9 122.1L351.5 126.7L355.2 131L358.9 135L362.6 138.8L366.3 142.4L370 145.7L373.7 148.9L377.4 151.9L381.1 156.2L381.1 161.6L377.4 160.6L373.7 157.8L370 154.8L366.3 151.6L362.6 148L358.9 144.2L355.2 140.2L351.5 135.9L347.9 131.3L344.2 126.5L340.5 121.5L336.8 118L333.1 118ZM473.4 154.1L477.1 150.9L480.8 147.8L484.5 144.6L488.2 141.2L491.9 137.6L495.6 133.7L499.3 129.6L503 125.2L506.7 120.5L510.4 115.6L514.1 110.5L517.8 108.8L521.5 108.8L521.5 118L517.8 118L514.1 119.7L510.4 124.8L506.7 129.7L503 134.4L499.3 138.8L495.6 142.9L491.9 146.8L488.2 150.4L484.5 153.8L480.8 156.9L477.1 159.7L473.4 161.9ZM399.6 172.8L403.3 173.6L406.9 174.4L410.6 175.1L414.3 175.6L418 176L421.7 176.3L425.4 176.4L429.1 176.4L432.8 176.2L436.5 175.9L440.2 175.4L443.9 174.8L447.6 174.1L451.3 173.4L455 172.7L455 179.6L451.3 180.6L447.6 181.3L443.9 182L440.2 182.6L436.5 183.1L432.8 183.4L429.1 183.6L425.4 183.6L421.7 183.5L418 183.2L414.3 182.8L410.6 182.3L406.9 181.6L403.3 180.8L399.6 180Z" fill="#4745e9"/><path d="M394.6 175.5L397.1 176L399.6 176.6L402 177.2L404.5 177.7L406.9 178.2L409.4 178.6L411.9 179.1L414.3 179.4L416.8 179.7L419.3 179.9L421.7 180.1L424.2 180.2L426.6 180.2L429.1 180.2L431.6 180.1L434 179.9L436.5 179.7L439 179.4L441.4 179.1L443.9 178.6L446.3 178.2L448.8 177.7L451.3 177.2L453.7 176.6L456.2 176L458.7 175.5" fill="none" stroke="#422ebe" stroke-width="2.6" stroke-linecap="round" stroke-opacity="0.55"/><path d="M340.5 117.4L342.9 120.8L345.4 124.1L347.9 127.3L350.3 130.3L352.8 133.3L355.2 136.2L357.7 138.9L360.2 141.5L362.6 144L365.1 146.4L367.6 148.7L370 150.8L372.5 152.9L374.9 154.9L377.4 156.8" fill="none" stroke="#4330c5" stroke-width="3.5" stroke-linecap="round" stroke-opacity="0.6"/><path d="M475.9 156.8L478.4 154.9L480.8 152.9L483.3 150.8L485.7 148.7L488.2 146.4L490.7 144L493.1 141.5L495.6 138.9L498.1 136.2L500.5 133.3L503 130.3L505.4 127.3L507.9 124.1L510.4 120.8L512.8 117.4" fill="none" stroke="#4330c5" stroke-width="3.5" stroke-linecap="round" stroke-opacity="0.6"/></g>
<g filter="url(#sb)"><rect x="336.5" y="95.5" width="3.5" height="69.7" fill="#2fc5a2" fill-opacity=".85"/><rect x="513.3" y="95.5" width="3.5" height="69.7" fill="#2fc5a2" fill-opacity=".85"/></g></g>

<path d="M338 169.62L340.46 169.68L342.93 169.75L345.39 169.83L347.85 169.91L350.31 170L352.77 170.1L355.24 170.21L357.7 170.34L360.16 170.48L362.62 170.63L365.09 170.81L367.55 171L370.01 171.23L372.47 171.48L374.94 171.76L377.4 172.07L379.86 172.43L382.32 172.82L384.79 173.25L387.25 173.72L389.71 174.22L392.17 174.75L394.64 175.3L397.1 175.86L399.56 176.42L402.02 176.97L404.49 177.5L406.95 178L409.41 178.45L411.88 178.86L414.34 179.22L416.8 179.52L419.26 179.75L421.72 179.92L424.19 180.02L426.65 180.06L429.11 180.02L431.57 179.92L434.04 179.75L436.5 179.52L438.96 179.22L441.42 178.86L443.89 178.45L446.35 178L448.81 177.5L451.27 176.97L453.74 176.42L456.2 175.86L458.66 175.3L461.12 174.75L463.59 174.22L466.05 173.72L468.51 173.25L470.97 172.82L473.44 172.43L475.9 172.07L478.36 171.76L480.82 171.48L483.29 171.23L485.75 171L488.21 170.81L490.67 170.63L493.14 170.48L495.6 170.34L498.06 170.21L500.52 170.1L502.99 170L505.45 169.91L507.91 169.83L510.37 169.75L512.84 169.68L515.3 169.62" class="sw"/><path d="M338 108.83L340.46 112.33L342.93 115.73L345.39 119.01L347.85 122.19L350.31 125.26L352.77 128.22L355.24 131.07L357.7 133.8L360.16 136.42L362.62 138.92L365.09 141.31L367.55 143.57L370.01 145.7L372.47 147.71L374.94 149.59L377.4 151.33L379.86 152.93L382.32 154.39L384.79 155.72L387.25 156.91L389.71 157.96L392.17 158.88L394.64 159.69L397.1 160.38L399.56 160.97L402.02 161.48L404.49 161.9L406.95 162.26L409.41 162.55L411.88 162.8L414.34 162.99L416.8 163.15L419.26 163.26L421.72 163.34L424.19 163.39L426.65 163.41L429.11 163.39L431.57 163.34L434.04 163.26L436.5 163.15L438.96 162.99L441.42 162.8L443.89 162.55L446.35 162.26L448.81 161.9L451.27 161.48L453.74 160.97L456.2 160.38L458.66 159.69L461.12 158.88L463.59 157.96L466.05 156.91L468.51 155.72L470.97 154.39L473.44 152.93L475.9 151.33L478.36 149.59L480.82 147.71L483.29 145.7L485.75 143.57L488.21 141.31L490.67 138.92L493.14 136.42L495.6 133.8L498.06 131.07L500.52 128.22L502.99 125.26L505.45 122.19L507.91 119.01L510.37 115.73L512.84 112.33L515.3 108.83" class="sw"/><path d="M338 109.83L340.46 113.39L342.93 116.85L345.39 120.21L347.85 123.48L350.31 126.64L352.77 129.7L355.24 132.65L357.7 135.51L360.16 138.27L362.62 140.93L365.09 143.49L367.55 145.95L370.01 148.3L372.47 150.56L374.94 152.72L377.4 154.78L379.86 156.73L382.32 158.59L384.79 160.34L387.25 162L389.71 163.55L392.17 165.01L394.64 166.36L397.1 167.62L399.56 168.77L402.02 169.82L404.49 170.78L406.95 171.63L409.41 172.38L411.88 173.03L414.34 173.59L416.8 174.04L419.26 174.39L421.72 174.64L424.19 174.79L426.65 174.84L429.11 174.79L431.57 174.64L434.04 174.39L436.5 174.04L438.96 173.59L441.42 173.03L443.89 172.38L446.35 171.63L448.81 170.78L451.27 169.82L453.74 168.77L456.2 167.62L458.66 166.36L461.12 165.01L463.59 163.55L466.05 162L468.51 160.34L470.97 158.59L473.44 156.73L475.9 154.78L478.36 152.72L480.82 150.56L483.29 148.3L485.75 145.95L488.21 143.49L490.67 140.93L493.14 138.27L495.6 135.51L498.06 132.65L500.52 129.7L502.99 126.64L505.45 123.48L507.91 120.21L510.37 116.85L512.84 113.39L515.3 109.83" class="dw"/><path d="M338 168.25H515.3" class="dw"/>

<rect x="338" y="48" width="177.3" height="167.6" fill="none" stroke="#1a1400" stroke-width="0.9"/>
<text class="t" x="334.3" y="205.57" text-anchor="end">1.82</text>
<text class="t" x="334.3" y="186.73" text-anchor="end">1.83</text>
<text class="t" x="334.3" y="167.89" text-anchor="end">1.84</text>
<text class="t" x="334.3" y="149.05" text-anchor="end">1.85</text>
<text class="t" x="334.3" y="130.21" text-anchor="end">1.86</text>
<text class="t" x="334.3" y="111.37" text-anchor="end">1.87</text>
<text class="t" x="334.3" y="92.53" text-anchor="end">1.88</text>
<text class="t" x="334.3" y="73.69" text-anchor="end">1.89</text>
<text class="t" x="334.3" y="54.85" text-anchor="end">1.9</text>
<text class="t" x="355.17" y="226.3" text-anchor="middle">-15</text>
<text class="t" x="379.6" y="226.3" text-anchor="middle">-10</text>
<text class="t" x="402.92" y="226.3" text-anchor="middle">-5</text>
<text class="t" x="427.05" y="226.3" text-anchor="middle">0</text>
<text class="t" x="451.67" y="226.3" text-anchor="middle">5</text>
<text class="t" x="476.3" y="226.3" text-anchor="middle">10</text>
<text class="t" x="500.92" y="226.3" text-anchor="middle">15</text>
<path d="M338 201.97h3.4M515.3 201.97h-3.4M338 183.13h3.4M515.3 183.13h-3.4M338 164.29h3.4M515.3 164.29h-3.4M338 145.45h3.4M515.3 145.45h-3.4M338 126.61h3.4M515.3 126.61h-3.4M338 107.77h3.4M515.3 107.77h-3.4M338 88.93h3.4M515.3 88.93h-3.4M338 70.09h3.4M515.3 70.09h-3.4M338 51.25h3.4M515.3 51.25h-3.4M352.77 215.6v-3.2M352.77 48v3.2M377.4 215.6v-3.2M377.4 48v3.2M402.02 215.6v-3.2M402.02 48v3.2M426.65 215.6v-3.2M426.65 48v3.2M451.27 215.6v-3.2M451.27 48v3.2M475.9 215.6v-3.2M475.9 48v3.2M500.52 215.6v-3.2M500.52 48v3.2" stroke="#1a1400" stroke-width="0.9" fill="none"/>
<text class="l" x="427.85" y="237.3" text-anchor="middle">Angle (degree)</text>
<text class="l" transform="translate(310.7 122.5) rotate(-90)" text-anchor="middle">Energy (eV)</text>
<text class="t" x="305.2" y="47.6">b</text>
<text class="t" x="348.8" y="63.8">77K</text>
<rect x="522.8" y="48" width="7.4" height="167.6" fill="url(#cbar)" stroke="#6b6b50" stroke-width=".35"/>
<text class="t" x="536.2" y="51.2">1</text>
<text class="t" x="535.4" y="219.1">0</text>

<defs><linearGradient id="c0" x1="0" y1="0" x2="0" y2="1"><stop offset="0" stop-color="#f9fb15"/><stop offset="0.06" stop-color="#f9fa16"/><stop offset="0.17" stop-color="#f5e526"/><stop offset="0.21" stop-color="#f6e028"/><stop offset="0.34" stop-color="#f9f916"/><stop offset="0.4" stop-color="#f9fb15"/><stop offset="0.45" stop-color="#f7f31d"/><stop offset="0.53" stop-color="#f9f916"/><stop offset="0.57" stop-color="#f6f11f"/><stop offset="0.6" stop-color="#f6e029"/><stop offset="0.62" stop-color="#fdcc32"/><stop offset="0.64" stop-color="#fec239"/><stop offset="0.7" stop-color="#fec13a"/><stop offset="0.72" stop-color="#febd3c"/><stop offset="0.77" stop-color="#ecba32"/><stop offset="0.79" stop-color="#ecba32"/><stop offset="0.81" stop-color="#f7ba3c"/><stop offset="0.98" stop-color="#f9bb3d"/><stop offset="1" stop-color="#f1ba37"/></linearGradient><linearGradient id="c1" x1="0" y1="0" x2="0" y2="1"><stop offset="0" stop-color="#f9fb15"/><stop offset="0.06" stop-color="#f9fa16"/><stop offset="0.17" stop-color="#f5e526"/><stop offset="0.21" stop-color="#f6e028"/><stop offset="0.34" stop-color="#f9f916"/><stop offset="0.4" stop-color="#f9fb15"/><stop offset="0.45" stop-color="#f7f31d"/><stop offset="0.53" stop-color="#f9f916"/><stop offset="0.57" stop-color="#f6f11f"/><stop offset="0.6" stop-color="#f6e029"/><stop offset="0.62" stop-color="#fdcc32"/><stop offset="0.64" stop-color="#fec239"/><stop offset="0.7" stop-color="#fec13a"/><stop offset="0.72" stop-color="#febd3c"/><stop offset="0.77" stop-color="#ecba32"/><stop offset="0.79" stop-color="#ecba32"/><stop offset="0.81" stop-color="#f7ba3c"/><stop offset="0.98" stop-color="#f9bb3d"/><stop offset="1" stop-color="#f1ba37"/></linearGradient><linearGradient id="c2" x1="0" y1="0" x2="0" y2="1"><stop offset="0" stop-color="#f9fb15"/><stop offset="0.06" stop-color="#f9fa16"/><stop offset="0.17" stop-color="#f5e526"/><stop offset="0.21" stop-color="#f6e028"/><stop offset="0.34" stop-color="#f9f916"/><stop offset="0.4" stop-color="#f9fb15"/><stop offset="0.45" stop-color="#f7f31d"/><stop offset="0.53" stop-color="#f9f916"/><stop offset="0.57" stop-color="#f6f11f"/><stop offset="0.6" stop-color="#f6e029"/><stop offset="0.62" stop-color="#fdcc32"/><stop offset="0.64" stop-color="#fec239"/><stop offset="0.7" stop-color="#fec13a"/><stop offset="0.72" stop-color="#febd3c"/><stop offset="0.77" stop-color="#ecba32"/><stop offset="0.79" stop-color="#ecba32"/><stop offset="0.81" stop-color="#f7ba3c"/><stop offset="0.98" stop-color="#f9bb3d"/><stop offset="1" stop-color="#f1ba37"/></linearGradient><linearGradient id="c3" x1="0" y1="0" x2="0" y2="1"><stop offset="0" stop-color="#f9fb15"/><stop offset="0.06" stop-color="#f8f917"/><stop offset="0.11" stop-color="#f6f01f"/><stop offset="0.15" stop-color="#f7f61a"/><stop offset="0.23" stop-color="#f7dd2a"/><stop offset="0.26" stop-color="#fad42e"/><stop offset="0.28" stop-color="#fad52d"/><stop offset="0.34" stop-color="#f7f31c"/><stop offset="0.45" stop-color="#f9fb15"/><stop offset="0.53" stop-color="#f6f020"/><stop offset="0.57" stop-color="#f9fa16"/><stop offset="0.62" stop-color="#f8da2b"/><stop offset="0.64" stop-color="#feca34"/><stop offset="0.68" stop-color="#febe3c"/><stop offset="0.7" stop-color="#ebba31"/><stop offset="0.72" stop-color="#cbc129"/><stop offset="0.74" stop-color="#adc638"/><stop offset="0.77" stop-color="#a2c840"/><stop offset="0.91" stop-color="#a2c840"/><stop offset="0.96" stop-color="#9ac945"/><stop offset="0.98" stop-color="#a2c840"/><stop offset="1" stop-color="#a2c840"/></linearGradient><linearGradient id="c4" x1="0" y1="0" x2="0" y2="1"><stop offset="0" stop-color="#f9fb15"/><stop offset="0.19" stop-color="#f7f61a"/><stop offset="0.23" stop-color="#f5eb23"/><stop offset="0.28" stop-color="#f7db2b"/><stop offset="0.32" stop-color="#f6df29"/><stop offset="0.4" stop-color="#f8f719"/><stop offset="0.57" stop-color="#f9fa15"/><stop offset="0.6" stop-color="#f6ef20"/><stop offset="0.64" stop-color="#fdcb33"/><stop offset="0.68" stop-color="#fec13a"/><stop offset="0.7" stop-color="#e1bc2b"/><stop offset="0.72" stop-color="#97ca47"/><stop offset="0.74" stop-color="#54cc7c"/><stop offset="0.77" stop-color="#4acb84"/><stop offset="0.89" stop-color="#4ecc81"/><stop offset="1" stop-color="#46cb88"/></linearGradient><linearGradient id="c5" x1="0" y1="0" x2="0" y2="1"><stop offset="0" stop-color="#f9fa15"/><stop offset="0.21" stop-color="#f8f818"/><stop offset="0.32" stop-color="#f6e128"/><stop offset="0.4" stop-color="#f5ef20"/><stop offset="0.45" stop-color="#f5ed22"/><stop offset="0.49" stop-color="#f9fa15"/><stop offset="0.57" stop-color="#f9fb15"/><stop offset="0.62" stop-color="#f8d92b"/><stop offset="0.64" stop-color="#fec835"/><stop offset="0.68" stop-color="#fec03b"/><stop offset="0.7" stop-color="#f0ba36"/><stop offset="0.72" stop-color="#cec028"/><stop offset="0.74" stop-color="#acc738"/><stop offset="0.77" stop-color="#a2c840"/><stop offset="0.89" stop-color="#a2c840"/><stop offset="0.94" stop-color="#89cb52"/><stop offset="0.96" stop-color="#88cb53"/><stop offset="1" stop-color="#a2c840"/></linearGradient><linearGradient id="c6" x1="0" y1="0" x2="0" y2="1"><stop offset="0" stop-color="#f5ee21"/><stop offset="0.26" stop-color="#f5e924"/><stop offset="0.3" stop-color="#f6df29"/><stop offset="0.34" stop-color="#fec934"/><stop offset="0.36" stop-color="#fec537"/><stop offset="0.45" stop-color="#f5e526"/><stop offset="0.51" stop-color="#f5e924"/><stop offset="0.57" stop-color="#f5e427"/><stop offset="0.6" stop-color="#f7db2b"/><stop offset="0.62" stop-color="#feca33"/><stop offset="0.64" stop-color="#fbbc3d"/><stop offset="0.66" stop-color="#f0ba36"/><stop offset="0.72" stop-color="#edba33"/><stop offset="0.81" stop-color="#e6bb2d"/><stop offset="0.83" stop-color="#e6bb2d"/><stop offset="0.85" stop-color="#ddbd29"/><stop offset="0.87" stop-color="#dcbd29"/><stop offset="0.91" stop-color="#e6bb2d"/><stop offset="1" stop-color="#e6bb2d"/></linearGradient><linearGradient id="c7" x1="0" y1="0" x2="0" y2="1"><stop offset="0" stop-color="#fec13a"/><stop offset="0.04" stop-color="#fec437"/><stop offset="0.06" stop-color="#fdcc32"/><stop offset="0.15" stop-color="#feca33"/><stop offset="0.19" stop-color="#fec239"/><stop offset="0.26" stop-color="#feca33"/><stop offset="0.34" stop-color="#fabb3d"/><stop offset="0.38" stop-color="#f0ba36"/><stop offset="0.45" stop-color="#fdbd3d"/><stop offset="0.53" stop-color="#fdcb33"/><stop offset="0.6" stop-color="#fdca33"/><stop offset="0.62" stop-color="#febe3c"/><stop offset="0.64" stop-color="#e5bb2c"/><stop offset="0.66" stop-color="#bec32e"/><stop offset="0.68" stop-color="#aac739"/><stop offset="0.7" stop-color="#aac73a"/><stop offset="0.77" stop-color="#c4c22b"/><stop offset="0.83" stop-color="#cec028"/><stop offset="1" stop-color="#cec028"/></linearGradient><linearGradient id="c8" x1="0" y1="0" x2="0" y2="1"><stop offset="0" stop-color="#f5ee21"/><stop offset="0.06" stop-color="#f5ee21"/><stop offset="0.11" stop-color="#f5e327"/><stop offset="0.21" stop-color="#f5ea23"/><stop offset="0.3" stop-color="#f5e128"/><stop offset="0.36" stop-color="#fccf31"/><stop offset="0.45" stop-color="#f7dc2a"/><stop offset="0.53" stop-color="#f5ec22"/><stop offset="0.62" stop-color="#f5e626"/><stop offset="0.66" stop-color="#fec438"/><stop offset="0.68" stop-color="#f1ba37"/><stop offset="0.7" stop-color="#eeba34"/><stop offset="0.77" stop-color="#fabb3d"/><stop offset="0.81" stop-color="#fccf30"/><stop offset="0.83" stop-color="#fcd030"/><stop offset="0.87" stop-color="#feca34"/><stop offset="0.94" stop-color="#fad42e"/><stop offset="1" stop-color="#fad42e"/></linearGradient><linearGradient id="c9" x1="0" y1="0" x2="0" y2="1"><stop offset="0" stop-color="#f8f818"/><stop offset="0.11" stop-color="#f7f61a"/><stop offset="0.15" stop-color="#f9fb15"/><stop offset="0.3" stop-color="#f7f51b"/><stop offset="0.36" stop-color="#f8da2b"/><stop offset="0.49" stop-color="#f7f41c"/><stop offset="0.55" stop-color="#f8f718"/><stop offset="0.6" stop-color="#f5e825"/><stop offset="0.64" stop-color="#f5eb23"/><stop offset="0.7" stop-color="#fec438"/><stop offset="0.72" stop-color="#febe3c"/><stop offset="0.74" stop-color="#edba33"/><stop offset="0.77" stop-color="#d6be28"/><stop offset="0.79" stop-color="#d4bf28"/><stop offset="0.85" stop-color="#ecba32"/><stop offset="1" stop-color="#edba33"/></linearGradient><linearGradient id="c10" x1="0" y1="0" x2="0" y2="1"><stop offset="0" stop-color="#f6f21e"/><stop offset="0.26" stop-color="#f7f61a"/><stop offset="0.3" stop-color="#f6f11f"/><stop offset="0.36" stop-color="#f9d82c"/><stop offset="0.45" stop-color="#f5e526"/><stop offset="0.53" stop-color="#f7f61a"/><stop offset="0.55" stop-color="#f6f01f"/><stop offset="0.57" stop-color="#fdcd32"/><stop offset="0.6" stop-color="#fec338"/><stop offset="0.62" stop-color="#fcd030"/><stop offset="0.64" stop-color="#f5e725"/><stop offset="0.66" stop-color="#f5ef20"/><stop offset="0.7" stop-color="#fdcc32"/><stop offset="0.72" stop-color="#f2ba38"/><stop offset="0.74" stop-color="#cbc129"/><stop offset="0.77" stop-color="#9fc941"/><stop offset="0.79" stop-color="#90ca4d"/><stop offset="1" stop-color="#90ca4d"/></linearGradient><linearGradient id="c11" x1="0" y1="0" x2="0" y2="1"><stop offset="0" stop-color="#febf3b"/><stop offset="0.11" stop-color="#f7ba3c"/><stop offset="0.19" stop-color="#febf3b"/><stop offset="0.26" stop-color="#f4ba3a"/><stop offset="0.28" stop-color="#f0ba36"/><stop offset="0.32" stop-color="#f4ba39"/><stop offset="0.36" stop-color="#e7bb2e"/><stop offset="0.43" stop-color="#e7bb2d"/><stop offset="0.49" stop-color="#f9bb3d"/><stop offset="0.53" stop-color="#fec438"/><stop offset="0.55" stop-color="#fdce31"/><stop offset="0.57" stop-color="#f9bb3d"/><stop offset="0.6" stop-color="#e2bc2b"/><stop offset="0.62" stop-color="#fec636"/><stop offset="0.64" stop-color="#f5e725"/><stop offset="0.66" stop-color="#f7f51b"/><stop offset="0.68" stop-color="#f5e924"/><stop offset="0.7" stop-color="#fbd22f"/><stop offset="0.72" stop-color="#e8bb2f"/><stop offset="0.74" stop-color="#99c946"/><stop offset="0.77" stop-color="#59cc78"/><stop offset="0.79" stop-color="#51cc7f"/><stop offset="0.89" stop-color="#54cc7d"/><stop offset="1" stop-color="#56cc7b"/></linearGradient><linearGradient id="c12" x1="0" y1="0" x2="0" y2="1"><stop offset="0" stop-color="#ecba32"/><stop offset="0.06" stop-color="#ebba31"/><stop offset="0.11" stop-color="#e4bb2c"/><stop offset="0.21" stop-color="#ebba32"/><stop offset="0.34" stop-color="#e0bc2a"/><stop offset="0.4" stop-color="#d9bd28"/><stop offset="0.51" stop-color="#e9bb2f"/><stop offset="0.53" stop-color="#f6ba3b"/><stop offset="0.55" stop-color="#fec934"/><stop offset="0.6" stop-color="#febe3c"/><stop offset="0.62" stop-color="#fec537"/><stop offset="0.64" stop-color="#f5e725"/><stop offset="0.66" stop-color="#f7f61a"/><stop offset="0.68" stop-color="#f7f61a"/><stop offset="0.7" stop-color="#f5e924"/><stop offset="0.72" stop-color="#fec736"/><stop offset="0.74" stop-color="#d4bf27"/><stop offset="0.77" stop-color="#98c947"/><stop offset="0.79" stop-color="#88cb53"/><stop offset="0.85" stop-color="#90ca4d"/><stop offset="0.89" stop-color="#90ca4d"/><stop offset="0.94" stop-color="#85cb56"/><stop offset="1" stop-color="#90ca4d"/></linearGradient><linearGradient id="c13" x1="0" y1="0" x2="0" y2="1"><stop offset="0" stop-color="#f5ee21"/><stop offset="0.23" stop-color="#f6f21d"/><stop offset="0.3" stop-color="#f5e626"/><stop offset="0.4" stop-color="#f9d82c"/><stop offset="0.53" stop-color="#f6f21d"/><stop offset="0.55" stop-color="#f6f31d"/><stop offset="0.57" stop-color="#fbd12f"/><stop offset="0.6" stop-color="#f2ba38"/><stop offset="0.62" stop-color="#d9be28"/><stop offset="0.64" stop-color="#dfbc2a"/><stop offset="0.66" stop-color="#fcbc3d"/><stop offset="0.72" stop-color="#f7ba3c"/><stop offset="0.77" stop-color="#e6bb2d"/><stop offset="1" stop-color="#e4bb2c"/></linearGradient><linearGradient id="c14" x1="0" y1="0" x2="0" y2="1"><stop offset="0" stop-color="#f9fb15"/><stop offset="0.13" stop-color="#f7f51b"/><stop offset="0.19" stop-color="#f6ef20"/><stop offset="0.23" stop-color="#f9fa15"/><stop offset="0.32" stop-color="#f6f01f"/><stop offset="0.38" stop-color="#f6e128"/><stop offset="0.45" stop-color="#f5ea24"/><stop offset="0.53" stop-color="#f9fa16"/><stop offset="0.55" stop-color="#f8f719"/><stop offset="0.57" stop-color="#fdcc32"/><stop offset="0.6" stop-color="#c2c22c"/><stop offset="0.62" stop-color="#7ccc5c"/><stop offset="0.64" stop-color="#62cd71"/><stop offset="0.66" stop-color="#8ccb50"/><stop offset="0.68" stop-color="#bfc32d"/><stop offset="0.7" stop-color="#c5c22a"/><stop offset="0.72" stop-color="#dfbc2a"/><stop offset="0.74" stop-color="#f3ba38"/><stop offset="0.77" stop-color="#fabb3d"/><stop offset="0.79" stop-color="#f6ba3b"/><stop offset="0.85" stop-color="#febf3c"/><stop offset="0.91" stop-color="#fabb3d"/><stop offset="0.98" stop-color="#f5ba3a"/><stop offset="1" stop-color="#f6ba3b"/></linearGradient><linearGradient id="c15" x1="0" y1="0" x2="0" y2="1"><stop offset="0" stop-color="#f7f31d"/><stop offset="0.23" stop-color="#f6f020"/><stop offset="0.36" stop-color="#f8d92b"/><stop offset="0.4" stop-color="#fbd22f"/><stop offset="0.55" stop-color="#f5ec22"/><stop offset="0.6" stop-color="#febe3c"/><stop offset="0.64" stop-color="#f3ba38"/><stop offset="0.66" stop-color="#f5ba3b"/><stop offset="0.68" stop-color="#fec736"/><stop offset="0.72" stop-color="#f6dd2a"/><stop offset="0.74" stop-color="#f6df29"/><stop offset="0.81" stop-color="#fdbd3d"/><stop offset="1" stop-color="#f9bb3d"/></linearGradient><linearGradient id="c16" x1="0" y1="0" x2="0" y2="1"><stop offset="0" stop-color="#fbd22f"/><stop offset="0.23" stop-color="#fbd12f"/><stop offset="0.28" stop-color="#fec438"/><stop offset="0.32" stop-color="#fec735"/><stop offset="0.38" stop-color="#f9ba3d"/><stop offset="0.45" stop-color="#fec03a"/><stop offset="0.53" stop-color="#fcd030"/><stop offset="0.55" stop-color="#fccf30"/><stop offset="0.57" stop-color="#f9bb3d"/><stop offset="0.6" stop-color="#e9bb2f"/><stop offset="0.66" stop-color="#e9bb30"/><stop offset="0.68" stop-color="#f9bb3d"/><stop offset="0.7" stop-color="#fcd030"/><stop offset="0.74" stop-color="#fccf31"/><stop offset="0.77" stop-color="#fec03a"/><stop offset="0.79" stop-color="#eabb30"/><stop offset="0.81" stop-color="#d2bf27"/><stop offset="0.85" stop-color="#ccc028"/><stop offset="1" stop-color="#cdc028"/></linearGradient><linearGradient id="c17" x1="0" y1="0" x2="0" y2="1"><stop offset="0" stop-color="#f7f31d"/><stop offset="0.23" stop-color="#f6f11e"/><stop offset="0.28" stop-color="#f5ea24"/><stop offset="0.32" stop-color="#f5e825"/><stop offset="0.38" stop-color="#f9d82c"/><stop offset="0.45" stop-color="#f5e128"/><stop offset="0.49" stop-color="#f5ec22"/><stop offset="0.55" stop-color="#f5ec22"/><stop offset="0.6" stop-color="#fdcb32"/><stop offset="0.64" stop-color="#fdcb33"/><stop offset="0.68" stop-color="#fec338"/><stop offset="0.7" stop-color="#f7dc2a"/><stop offset="0.72" stop-color="#f5ec23"/><stop offset="0.74" stop-color="#f6f21d"/><stop offset="0.77" stop-color="#f5e825"/><stop offset="0.81" stop-color="#fec438"/><stop offset="0.83" stop-color="#f9bb3d"/><stop offset="0.85" stop-color="#f3ba39"/><stop offset="0.87" stop-color="#f8ba3d"/><stop offset="0.89" stop-color="#fec437"/><stop offset="0.94" stop-color="#fad42e"/><stop offset="1" stop-color="#fad42e"/></linearGradient><linearGradient id="c18" x1="0" y1="0" x2="0" y2="1"><stop offset="0" stop-color="#f6f21e"/><stop offset="0.13" stop-color="#f8f917"/><stop offset="0.19" stop-color="#f7f31d"/><stop offset="0.26" stop-color="#f9fa16"/><stop offset="0.34" stop-color="#f5ea23"/><stop offset="0.4" stop-color="#f6e028"/><stop offset="0.49" stop-color="#f6ef20"/><stop offset="0.55" stop-color="#f7f41c"/><stop offset="0.6" stop-color="#fbd32e"/><stop offset="0.66" stop-color="#fccf30"/><stop offset="0.68" stop-color="#fdcb33"/><stop offset="0.7" stop-color="#f6df29"/><stop offset="0.72" stop-color="#f6f11e"/><stop offset="0.77" stop-color="#f5ec22"/><stop offset="0.81" stop-color="#fdcb32"/><stop offset="0.83" stop-color="#fec438"/><stop offset="0.98" stop-color="#fdce31"/><stop offset="1" stop-color="#fdce31"/></linearGradient><linearGradient id="c19" x1="0" y1="0" x2="0" y2="1"><stop offset="0" stop-color="#f5ed21"/><stop offset="0.15" stop-color="#f5ed21"/><stop offset="0.19" stop-color="#f5e526"/><stop offset="0.23" stop-color="#f5ed22"/><stop offset="0.32" stop-color="#f5e227"/><stop offset="0.4" stop-color="#fec835"/><stop offset="0.47" stop-color="#fbd32e"/><stop offset="0.55" stop-color="#f6e028"/><stop offset="0.57" stop-color="#fec735"/><stop offset="0.6" stop-color="#f8ba3d"/><stop offset="0.62" stop-color="#f4ba3a"/><stop offset="0.68" stop-color="#fabb3d"/><stop offset="0.7" stop-color="#fec934"/><stop offset="0.72" stop-color="#f6e028"/><stop offset="0.77" stop-color="#f5ec23"/><stop offset="0.79" stop-color="#f5e427"/><stop offset="0.83" stop-color="#fec636"/><stop offset="1" stop-color="#fec338"/></linearGradient><linearGradient id="c20" x1="0" y1="0" x2="0" y2="1"><stop offset="0" stop-color="#f5ba3a"/><stop offset="0.28" stop-color="#f1ba37"/><stop offset="0.34" stop-color="#e4bb2c"/><stop offset="0.38" stop-color="#c8c129"/><stop offset="0.4" stop-color="#bbc430"/><stop offset="0.45" stop-color="#bdc32e"/><stop offset="0.53" stop-color="#cdc028"/><stop offset="0.55" stop-color="#d7be28"/><stop offset="0.57" stop-color="#c6c22a"/><stop offset="0.66" stop-color="#cec028"/><stop offset="0.68" stop-color="#cec028"/><stop offset="0.7" stop-color="#e7bb2e"/><stop offset="0.72" stop-color="#fec338"/><stop offset="0.77" stop-color="#f6e028"/><stop offset="0.79" stop-color="#f5e228"/><stop offset="0.83" stop-color="#fec736"/><stop offset="0.87" stop-color="#fec13a"/><stop offset="1" stop-color="#fec239"/></linearGradient><linearGradient id="c21" x1="0" y1="0" x2="0" y2="1"><stop offset="0" stop-color="#f5ed21"/><stop offset="0.21" stop-color="#f5ed22"/><stop offset="0.3" stop-color="#f8da2b"/><stop offset="0.4" stop-color="#fec03a"/><stop offset="0.47" stop-color="#fbd12f"/><stop offset="0.53" stop-color="#f5e327"/><stop offset="0.55" stop-color="#f5e626"/><stop offset="0.57" stop-color="#fbd32e"/><stop offset="0.6" stop-color="#fec934"/><stop offset="0.68" stop-color="#feca33"/><stop offset="0.72" stop-color="#f6f11f"/><stop offset="0.77" stop-color="#f6f21d"/><stop offset="0.79" stop-color="#f5e626"/><stop offset="0.83" stop-color="#fec636"/><stop offset="0.87" stop-color="#fdbd3d"/><stop offset="0.98" stop-color="#febf3c"/><stop offset="1" stop-color="#fec239"/></linearGradient><linearGradient id="c22" x1="0" y1="0" x2="0" y2="1"><stop offset="0" stop-color="#f6f020"/><stop offset="0.15" stop-color="#f9fa16"/><stop offset="0.3" stop-color="#f7f41c"/><stop offset="0.38" stop-color="#f6e028"/><stop offset="0.45" stop-color="#f5e924"/><stop offset="0.53" stop-color="#f8f917"/><stop offset="0.55" stop-color="#f8f818"/><stop offset="0.57" stop-color="#f6e028"/><stop offset="0.6" stop-color="#fbd32e"/><stop offset="0.68" stop-color="#fcd030"/><stop offset="0.7" stop-color="#f5e526"/><stop offset="0.72" stop-color="#f9f916"/><stop offset="0.74" stop-color="#f9fa16"/><stop offset="0.77" stop-color="#f7f31c"/><stop offset="0.79" stop-color="#f5e327"/><stop offset="0.83" stop-color="#fec239"/><stop offset="0.87" stop-color="#febf3b"/><stop offset="0.91" stop-color="#fcd12f"/><stop offset="1" stop-color="#fad42e"/></linearGradient><linearGradient id="c23" x1="0" y1="0" x2="0" y2="1"><stop offset="0" stop-color="#f6df29"/><stop offset="0.11" stop-color="#f8da2b"/><stop offset="0.17" stop-color="#f5e427"/><stop offset="0.3" stop-color="#f6de29"/><stop offset="0.32" stop-color="#f9d72c"/><stop offset="0.34" stop-color="#fec834"/><stop offset="0.36" stop-color="#fec13a"/><stop offset="0.43" stop-color="#fdcc32"/><stop offset="0.51" stop-color="#f6e128"/><stop offset="0.55" stop-color="#f5e128"/><stop offset="0.57" stop-color="#fec934"/><stop offset="0.6" stop-color="#fdbd3d"/><stop offset="0.68" stop-color="#fec03a"/><stop offset="0.7" stop-color="#f8d92b"/><stop offset="0.72" stop-color="#f5e427"/><stop offset="0.74" stop-color="#f5e327"/><stop offset="0.77" stop-color="#f9d72c"/><stop offset="0.79" stop-color="#fec437"/><stop offset="0.81" stop-color="#f2ba38"/><stop offset="0.83" stop-color="#e6bb2d"/><stop offset="0.87" stop-color="#e8bb2f"/><stop offset="0.94" stop-color="#f8ba3d"/><stop offset="1" stop-color="#fabb3d"/></linearGradient><linearGradient id="c24" x1="0" y1="0" x2="0" y2="1"><stop offset="0" stop-color="#f5e427"/><stop offset="0.17" stop-color="#f5e128"/><stop offset="0.28" stop-color="#f6e128"/><stop offset="0.38" stop-color="#fec735"/><stop offset="0.45" stop-color="#fbd12f"/><stop offset="0.53" stop-color="#f5e128"/><stop offset="0.55" stop-color="#f5e128"/><stop offset="0.57" stop-color="#fec934"/><stop offset="0.6" stop-color="#fdbd3d"/><stop offset="0.66" stop-color="#fdbd3d"/><stop offset="0.68" stop-color="#fec934"/><stop offset="0.7" stop-color="#f5e228"/><stop offset="0.74" stop-color="#f6e128"/><stop offset="0.79" stop-color="#febf3c"/><stop offset="0.81" stop-color="#ecba33"/><stop offset="0.85" stop-color="#e2bc2b"/><stop offset="0.96" stop-color="#eabb30"/><stop offset="1" stop-color="#eabb30"/></linearGradient><linearGradient id="c25" x1="0" y1="0" x2="0" y2="1"><stop offset="0" stop-color="#f9fa16"/><stop offset="0.28" stop-color="#f8f719"/><stop offset="0.32" stop-color="#f5ee21"/><stop offset="0.36" stop-color="#f8da2b"/><stop offset="0.4" stop-color="#f8da2b"/><stop offset="0.51" stop-color="#f6f21d"/><stop offset="0.55" stop-color="#f7f61a"/><stop offset="0.6" stop-color="#fec438"/><stop offset="0.64" stop-color="#f9ba3d"/><stop offset="0.66" stop-color="#fabb3d"/><stop offset="0.68" stop-color="#fdcd32"/><stop offset="0.72" stop-color="#f6e028"/><stop offset="0.74" stop-color="#f6e028"/><stop offset="0.81" stop-color="#febe3c"/><stop offset="0.87" stop-color="#fcbd3d"/><stop offset="0.91" stop-color="#fec338"/><stop offset="1" stop-color="#fec338"/></linearGradient><linearGradient id="c26" x1="0" y1="0" x2="0" y2="1"><stop offset="0" stop-color="#f9fb15"/><stop offset="0.28" stop-color="#f8f818"/><stop offset="0.38" stop-color="#f6e028"/><stop offset="0.45" stop-color="#f5ea24"/><stop offset="0.49" stop-color="#f6f01f"/><stop offset="0.55" stop-color="#f6f01f"/><stop offset="0.57" stop-color="#fec835"/><stop offset="0.6" stop-color="#d1bf27"/><stop offset="0.62" stop-color="#96ca48"/><stop offset="0.64" stop-color="#7acc5d"/><stop offset="0.68" stop-color="#cec028"/><stop offset="0.7" stop-color="#d4bf28"/><stop offset="0.72" stop-color="#efba35"/><stop offset="0.74" stop-color="#fec03b"/><stop offset="0.81" stop-color="#fbbc3d"/><stop offset="1" stop-color="#fdbd3d"/></linearGradient><linearGradient id="c27" x1="0" y1="0" x2="0" y2="1"><stop offset="0" stop-color="#f7f31d"/><stop offset="0.17" stop-color="#f6f11e"/><stop offset="0.3" stop-color="#f5ed22"/><stop offset="0.38" stop-color="#f9d82c"/><stop offset="0.45" stop-color="#f6e128"/><stop offset="0.53" stop-color="#f6f21d"/><stop offset="0.55" stop-color="#f7f31d"/><stop offset="0.6" stop-color="#fec239"/><stop offset="0.62" stop-color="#fbbc3d"/><stop offset="0.64" stop-color="#fec13a"/><stop offset="0.66" stop-color="#f7db2a"/><stop offset="0.7" stop-color="#f7dd2a"/><stop offset="0.72" stop-color="#f9d62d"/><stop offset="0.74" stop-color="#fec437"/><stop offset="0.77" stop-color="#eeba34"/><stop offset="0.79" stop-color="#d9be28"/><stop offset="0.81" stop-color="#d1bf27"/><stop offset="1" stop-color="#d1bf27"/></linearGradient><linearGradient id="c28" x1="0" y1="0" x2="0" y2="1"><stop offset="0" stop-color="#ecba32"/><stop offset="0.3" stop-color="#e7bb2e"/><stop offset="0.36" stop-color="#d6be28"/><stop offset="0.51" stop-color="#e9bb2f"/><stop offset="0.53" stop-color="#f6ba3b"/><stop offset="0.55" stop-color="#fec934"/><stop offset="0.6" stop-color="#fec437"/><stop offset="0.62" stop-color="#fdcc32"/><stop offset="0.64" stop-color="#f5ed21"/><stop offset="0.66" stop-color="#f9fa15"/><stop offset="0.68" stop-color="#f9fa15"/><stop offset="0.7" stop-color="#f5ef20"/><stop offset="0.72" stop-color="#f8da2b"/><stop offset="0.74" stop-color="#efba35"/><stop offset="0.77" stop-color="#a3c83f"/><stop offset="0.79" stop-color="#66cd6e"/><stop offset="0.81" stop-color="#5bcc77"/><stop offset="0.83" stop-color="#67cd6c"/><stop offset="1" stop-color="#6bcd69"/></linearGradient><linearGradient id="c29" x1="0" y1="0" x2="0" y2="1"><stop offset="0" stop-color="#f9ba3d"/><stop offset="0.11" stop-color="#f4ba39"/><stop offset="0.17" stop-color="#febf3b"/><stop offset="0.3" stop-color="#fabb3d"/><stop offset="0.36" stop-color="#e7bb2e"/><stop offset="0.43" stop-color="#e7bb2d"/><stop offset="0.49" stop-color="#f9bb3d"/><stop offset="0.53" stop-color="#fec438"/><stop offset="0.55" stop-color="#fcd030"/><stop offset="0.57" stop-color="#febe3c"/><stop offset="0.6" stop-color="#f2ba38"/><stop offset="0.62" stop-color="#fdce31"/><stop offset="0.64" stop-color="#f5e825"/><stop offset="0.66" stop-color="#f6f21e"/><stop offset="0.68" stop-color="#f5e725"/><stop offset="0.72" stop-color="#fec934"/><stop offset="0.74" stop-color="#eeba35"/><stop offset="0.77" stop-color="#bbc42f"/><stop offset="0.79" stop-color="#81cc58"/><stop offset="0.81" stop-color="#6bcd69"/><stop offset="1" stop-color="#6bcd69"/></linearGradient><linearGradient id="c30" x1="0" y1="0" x2="0" y2="1"><stop offset="0" stop-color="#f8f719"/><stop offset="0.21" stop-color="#f6f21e"/><stop offset="0.28" stop-color="#f7f41c"/><stop offset="0.36" stop-color="#f8d92c"/><stop offset="0.43" stop-color="#f6e028"/><stop offset="0.51" stop-color="#f7f31d"/><stop offset="0.55" stop-color="#f6f21e"/><stop offset="0.57" stop-color="#fbd32e"/><stop offset="0.6" stop-color="#fdcd31"/><stop offset="0.64" stop-color="#f5ec22"/><stop offset="0.66" stop-color="#f6f020"/><stop offset="0.7" stop-color="#fdcd31"/><stop offset="0.74" stop-color="#fcbd3d"/><stop offset="0.77" stop-color="#e6bb2d"/><stop offset="0.79" stop-color="#d1bf27"/><stop offset="1" stop-color="#d1bf27"/></linearGradient><linearGradient id="c31" x1="0" y1="0" x2="0" y2="1"><stop offset="0" stop-color="#f9fa16"/><stop offset="0.21" stop-color="#f7f51b"/><stop offset="0.3" stop-color="#f5eb23"/><stop offset="0.34" stop-color="#f5e924"/><stop offset="0.4" stop-color="#f6df29"/><stop offset="0.49" stop-color="#f7f31d"/><stop offset="0.55" stop-color="#f7f41c"/><stop offset="0.62" stop-color="#f5ed22"/><stop offset="0.64" stop-color="#f5ec22"/><stop offset="0.68" stop-color="#fec834"/><stop offset="0.7" stop-color="#febe3c"/><stop offset="0.77" stop-color="#fbbc3d"/><stop offset="0.79" stop-color="#fec03b"/><stop offset="0.81" stop-color="#fdce31"/><stop offset="0.94" stop-color="#fcd030"/><stop offset="1" stop-color="#fbbc3d"/></linearGradient><linearGradient id="c32" x1="0" y1="0" x2="0" y2="1"><stop offset="0" stop-color="#f7dc2a"/><stop offset="0.28" stop-color="#f9d72c"/><stop offset="0.36" stop-color="#febf3c"/><stop offset="0.43" stop-color="#f9bb3d"/><stop offset="0.45" stop-color="#febe3c"/><stop offset="0.49" stop-color="#fad52e"/><stop offset="0.57" stop-color="#f8da2b"/><stop offset="0.62" stop-color="#fad42e"/><stop offset="0.64" stop-color="#fec537"/><stop offset="0.66" stop-color="#f3ba39"/><stop offset="0.68" stop-color="#e0bc2a"/><stop offset="0.74" stop-color="#d9be28"/><stop offset="0.77" stop-color="#dcbd29"/><stop offset="0.79" stop-color="#f1ba37"/><stop offset="0.81" stop-color="#fec636"/><stop offset="0.85" stop-color="#fdcd31"/><stop offset="0.94" stop-color="#fdcd32"/><stop offset="0.96" stop-color="#fec437"/><stop offset="0.98" stop-color="#f8ba3d"/><stop offset="1" stop-color="#e6bb2d"/></linearGradient><linearGradient id="c33" x1="0" y1="0" x2="0" y2="1"><stop offset="0" stop-color="#fad42e"/><stop offset="0.11" stop-color="#f7dc2a"/><stop offset="0.28" stop-color="#f9d82c"/><stop offset="0.38" stop-color="#fec13a"/><stop offset="0.47" stop-color="#fbd12f"/><stop offset="0.55" stop-color="#fad52e"/><stop offset="0.6" stop-color="#f8da2b"/><stop offset="0.62" stop-color="#fdcd31"/><stop offset="0.64" stop-color="#fbbc3d"/><stop offset="0.66" stop-color="#ddbd29"/><stop offset="0.68" stop-color="#ccc028"/><stop offset="0.7" stop-color="#c7c12a"/><stop offset="0.83" stop-color="#cfc028"/><stop offset="0.85" stop-color="#c4c22a"/><stop offset="0.89" stop-color="#c8c129"/><stop offset="0.94" stop-color="#d1bf27"/><stop offset="1" stop-color="#ccc028"/></linearGradient><linearGradient id="c34" x1="0" y1="0" x2="0" y2="1"><stop offset="0" stop-color="#f8f917"/><stop offset="0.06" stop-color="#f8f917"/><stop offset="0.11" stop-color="#f6f020"/><stop offset="0.17" stop-color="#f8f817"/><stop offset="0.28" stop-color="#f6f01f"/><stop offset="0.36" stop-color="#f6de29"/><stop offset="0.49" stop-color="#f8f719"/><stop offset="0.57" stop-color="#f8f917"/><stop offset="0.62" stop-color="#f7dd2a"/><stop offset="0.66" stop-color="#fec338"/><stop offset="0.68" stop-color="#fec13a"/><stop offset="0.7" stop-color="#f5ba3a"/><stop offset="0.72" stop-color="#dcbd29"/><stop offset="0.74" stop-color="#c1c32c"/><stop offset="0.77" stop-color="#b9c431"/><stop offset="0.83" stop-color="#b6c532"/><stop offset="0.85" stop-color="#a2c840"/><stop offset="0.87" stop-color="#a0c941"/><stop offset="0.91" stop-color="#b7c532"/><stop offset="1" stop-color="#b9c431"/></linearGradient><linearGradient id="c35" x1="0" y1="0" x2="0" y2="1"><stop offset="0" stop-color="#f6e028"/><stop offset="0.17" stop-color="#f7dc2a"/><stop offset="0.26" stop-color="#fdcd31"/><stop offset="0.32" stop-color="#fdbd3d"/><stop offset="0.36" stop-color="#febf3b"/><stop offset="0.4" stop-color="#fad42e"/><stop offset="0.49" stop-color="#f6df29"/><stop offset="0.57" stop-color="#f6e028"/><stop offset="0.6" stop-color="#f9d62d"/><stop offset="0.62" stop-color="#fec437"/><stop offset="0.64" stop-color="#f2ba38"/><stop offset="0.66" stop-color="#e4bb2c"/><stop offset="0.68" stop-color="#e1bc2b"/><stop offset="0.7" stop-color="#ccc028"/><stop offset="0.74" stop-color="#8acb52"/><stop offset="0.77" stop-color="#80cc59"/><stop offset="0.83" stop-color="#80cc59"/><stop offset="0.85" stop-color="#76cc61"/><stop offset="0.94" stop-color="#62cd71"/><stop offset="0.96" stop-color="#64cd6f"/><stop offset="0.98" stop-color="#79cc5e"/><stop offset="1" stop-color="#80cc59"/></linearGradient><linearGradient id="c36" x1="0" y1="0" x2="0" y2="1"><stop offset="0" stop-color="#f6e028"/><stop offset="0.13" stop-color="#f6df29"/><stop offset="0.19" stop-color="#fdcd31"/><stop offset="0.23" stop-color="#fccf30"/><stop offset="0.3" stop-color="#fec437"/><stop offset="0.43" stop-color="#f6de29"/><stop offset="0.57" stop-color="#f6de29"/><stop offset="0.6" stop-color="#fbd32e"/><stop offset="0.62" stop-color="#fec13a"/><stop offset="0.64" stop-color="#ecba32"/><stop offset="0.66" stop-color="#ddbd29"/><stop offset="0.7" stop-color="#d4bf28"/><stop offset="0.91" stop-color="#d2bf27"/><stop offset="0.96" stop-color="#c6c22a"/><stop offset="1" stop-color="#c2c22c"/></linearGradient><linearGradient id="c37" x1="0" y1="0" x2="0" y2="1"><stop offset="0" stop-color="#f9fa16"/><stop offset="0.13" stop-color="#f8f719"/><stop offset="0.21" stop-color="#f6de29"/><stop offset="0.26" stop-color="#fbd32e"/><stop offset="0.28" stop-color="#fad52d"/><stop offset="0.32" stop-color="#f5ed22"/><stop offset="0.38" stop-color="#f8f818"/><stop offset="0.45" stop-color="#f5ed22"/><stop offset="0.53" stop-color="#f5ee21"/><stop offset="0.57" stop-color="#f8f817"/><stop offset="0.62" stop-color="#f8d92b"/><stop offset="0.64" stop-color="#fec834"/><stop offset="0.7" stop-color="#fec338"/><stop offset="0.85" stop-color="#fec13a"/><stop offset="1" stop-color="#fec338"/></linearGradient><linearGradient id="c38" x1="0" y1="0" x2="0" y2="1"><stop offset="0" stop-color="#f9fa15"/><stop offset="0.11" stop-color="#f7f61a"/><stop offset="0.21" stop-color="#f7dd2a"/><stop offset="0.28" stop-color="#f5e526"/><stop offset="0.34" stop-color="#f8f61a"/><stop offset="0.55" stop-color="#f9fb15"/><stop offset="0.57" stop-color="#f8f917"/><stop offset="0.62" stop-color="#f8d82c"/><stop offset="0.64" stop-color="#fec636"/><stop offset="0.68" stop-color="#fdbd3d"/><stop offset="0.79" stop-color="#fec437"/><stop offset="1" stop-color="#fec437"/></linearGradient><linearGradient id="c39" x1="0" y1="0" x2="0" y2="1"><stop offset="0" stop-color="#f9fa15"/><stop offset="0.11" stop-color="#f7f61a"/><stop offset="0.21" stop-color="#f7dd2a"/><stop offset="0.28" stop-color="#f5e526"/><stop offset="0.34" stop-color="#f8f61a"/><stop offset="0.55" stop-color="#f9fb15"/><stop offset="0.57" stop-color="#f8f917"/><stop offset="0.62" stop-color="#f8d82c"/><stop offset="0.64" stop-color="#fec636"/><stop offset="0.68" stop-color="#fdbd3d"/><stop offset="0.79" stop-color="#fec437"/><stop offset="1" stop-color="#fec437"/></linearGradient><linearGradient id="c40" x1="0" y1="0" x2="0" y2="1"><stop offset="0" stop-color="#f9fa15"/><stop offset="0.11" stop-color="#f7f61a"/><stop offset="0.21" stop-color="#f7dd2a"/><stop offset="0.28" stop-color="#f5e526"/><stop offset="0.34" stop-color="#f8f61a"/><stop offset="0.55" stop-color="#f9fb15"/><stop offset="0.57" stop-color="#f8f917"/><stop offset="0.62" stop-color="#f8d82c"/><stop offset="0.64" stop-color="#fec636"/><stop offset="0.68" stop-color="#fdbd3d"/><stop offset="0.79" stop-color="#fec437"/><stop offset="1" stop-color="#fec437"/></linearGradient><clipPath id="cpc"><rect x="93.6" y="248.25" width="176.8" height="167.35"/></clipPath></defs>
<g clip-path="url(#cpc)"><g filter="url(#hb)"><rect x="81.02" y="248.25" width="5.51" height="167.35" fill="url(#c0)"/><rect x="85.93" y="248.25" width="5.51" height="167.35" fill="url(#c1)"/><rect x="90.84" y="248.25" width="5.51" height="167.35" fill="url(#c2)"/><rect x="95.76" y="248.25" width="5.51" height="167.35" fill="url(#c3)"/><rect x="100.67" y="248.25" width="5.51" height="167.35" fill="url(#c4)"/><rect x="105.58" y="248.25" width="5.51" height="167.35" fill="url(#c5)"/><rect x="110.49" y="248.25" width="5.51" height="167.35" fill="url(#c6)"/><rect x="115.4" y="248.25" width="5.51" height="167.35" fill="url(#c7)"/><rect x="120.31" y="248.25" width="5.51" height="167.35" fill="url(#c8)"/><rect x="125.22" y="248.25" width="5.51" height="167.35" fill="url(#c9)"/><rect x="130.13" y="248.25" width="5.51" height="167.35" fill="url(#c10)"/><rect x="135.04" y="248.25" width="5.51" height="167.35" fill="url(#c11)"/><rect x="139.96" y="248.25" width="5.51" height="167.35" fill="url(#c12)"/><rect x="144.87" y="248.25" width="5.51" height="167.35" fill="url(#c13)"/><rect x="149.78" y="248.25" width="5.51" height="167.35" fill="url(#c14)"/><rect x="154.69" y="248.25" width="5.51" height="167.35" fill="url(#c15)"/><rect x="159.6" y="248.25" width="5.51" height="167.35" fill="url(#c16)"/><rect x="164.51" y="248.25" width="5.51" height="167.35" fill="url(#c17)"/><rect x="169.42" y="248.25" width="5.51" height="167.35" fill="url(#c18)"/><rect x="174.33" y="248.25" width="5.51" height="167.35" fill="url(#c19)"/><rect x="179.24" y="248.25" width="5.51" height="167.35" fill="url(#c20)"/><rect x="184.16" y="248.25" width="5.51" height="167.35" fill="url(#c21)"/><rect x="189.07" y="248.25" width="5.51" height="167.35" fill="url(#c22)"/><rect x="193.98" y="248.25" width="5.51" height="167.35" fill="url(#c23)"/><rect x="198.89" y="248.25" width="5.51" height="167.35" fill="url(#c24)"/><rect x="203.8" y="248.25" width="5.51" height="167.35" fill="url(#c25)"/><rect x="208.71" y="248.25" width="5.51" height="167.35" fill="url(#c26)"/><rect x="213.62" y="248.25" width="5.51" height="167.35" fill="url(#c27)"/><rect x="218.53" y="248.25" width="5.51" height="167.35" fill="url(#c28)"/><rect x="223.44" y="248.25" width="5.51" height="167.35" fill="url(#c29)"/><rect x="228.36" y="248.25" width="5.51" height="167.35" fill="url(#c30)"/><rect x="233.27" y="248.25" width="5.51" height="167.35" fill="url(#c31)"/><rect x="238.18" y="248.25" width="5.51" height="167.35" fill="url(#c32)"/><rect x="243.09" y="248.25" width="5.51" height="167.35" fill="url(#c33)"/><rect x="248" y="248.25" width="5.51" height="167.35" fill="url(#c34)"/><rect x="252.91" y="248.25" width="5.51" height="167.35" fill="url(#c35)"/><rect x="257.82" y="248.25" width="5.51" height="167.35" fill="url(#c36)"/><rect x="262.73" y="248.25" width="5.51" height="167.35" fill="url(#c37)"/><rect x="267.64" y="248.25" width="5.51" height="167.35" fill="url(#c38)"/><rect x="272.56" y="248.25" width="5.51" height="167.35" fill="url(#c39)"/><rect x="277.47" y="248.25" width="5.51" height="167.35" fill="url(#c40)"/></g>
<g filter="url(#pb)"><path d="M88.7 288.6L92.4 288.6L96.1 292.4L99.7 297.8L103.4 302.8L107.1 307.5L110.8 311.8L114.5 315.7L118.2 319.1L121.8 322.9L125.5 326.6L129.2 330.4L132.9 334.1L136.6 337.2L140.3 340.7L143.9 348.9L143.9 353.5L140.3 360.5L136.6 362.6L132.9 364.2L129.2 365.7L125.5 366.4L121.8 366.7L118.2 366.4L114.5 365.1L110.8 362.8L107.1 359.3L103.4 354.7L99.7 349.6L96.1 344.2L92.4 340.5L88.7 340.5ZM221.3 344.4L225 339.4L228.7 336.2L232.3 332.8L236 329.1L239.7 325.4L243.4 321.6L247.1 318L250.8 314.4L254.4 310.5L258.1 306L261.8 301.2L265.5 296L269.2 290.5L272.9 288.6L276.5 288.6L276.5 340.5L272.9 340.5L269.2 342.4L265.5 347.9L261.8 353L258.1 357.9L254.4 361.8L250.8 364.4L247.1 366.1L243.4 366.7L239.7 366.5L236 366.1L232.3 364.8L228.7 363.2L225 361.3L221.3 357.6ZM88.7 333.4L92.4 333.4L96.1 333.5L99.7 333.8L103.4 334.1L107.1 334.6L110.8 335.1L114.5 335.5L118.2 336.4L121.8 337.7L125.5 339.6L129.2 341.8L132.9 344.2L136.6 346.7L140.3 349.1L143.9 351.4L147.6 353.6L151.3 355.5L155 357.3L158.7 358.9L162.4 360.2L166 361.3L169.7 362.2L173.4 362.9L177.1 363.3L180.8 363.5L184.5 363.5L188.1 363.2L191.8 362.7L195.5 362L199.2 361L202.9 359.8L206.6 358.4L210.2 356.7L213.9 354.9L217.6 352.9L221.3 350.7L225 348.3L228.7 345.9L232.3 343.4L236 341L239.7 338.9L243.4 337.2L247.1 336L250.8 335.4L254.4 334.9L258.1 334.4L261.8 334L265.5 333.7L269.2 333.4L272.9 333.4L276.5 333.4L276.5 368L272.9 368L269.2 368L265.5 368.3L261.8 368.6L258.1 369L254.4 369.6L250.8 370.8L247.1 372.2L243.4 373.9L239.7 375.9L236 378L232.3 380.4L228.7 382.9L225 385.3L221.3 391.9L217.6 400.5L213.9 407.5L210.2 411.9L206.6 413.7L202.9 415.1L199.2 416.3L195.5 417.3L191.8 418L188.1 418.5L184.5 418.8L180.8 418.9L177.1 418.7L173.4 418.2L169.7 417.6L166 416.7L162.4 415.6L158.7 414.2L155 412.7L151.3 409.3L147.6 403.1L143.9 394.9L140.3 386.1L136.6 383.7L132.9 381.2L129.2 378.8L125.5 376.6L121.8 374.6L118.2 372.8L114.5 371.2L110.8 369.9L107.1 369.2L103.4 368.7L99.7 368.4L96.1 368.1L92.4 368L88.7 368Z" fill="#f9d72c" fill-opacity="0.12"/><path d="M88.7 291.4L92.4 291.4L96.1 295.2L99.7 300.6L103.4 305.6L107.1 310.3L110.8 314.6L114.5 318.4L118.2 321.9L121.8 325.5L125.5 329.2L129.2 332.8L132.9 336.4L136.6 340.2L140.3 346L140.3 355.8L136.6 360L132.9 362.1L129.2 363.6L125.5 364.2L121.8 364.3L118.2 364L114.5 362.6L110.8 360.3L107.1 356.9L103.4 352.2L99.7 347.1L96.1 341.8L92.4 338L88.7 338ZM225 343.7L228.7 338.9L232.3 335.2L236 331.6L239.7 328L243.4 324.3L247.1 320.7L250.8 317.2L254.4 313.2L258.1 308.8L261.8 304L265.5 298.8L269.2 293.3L272.9 291.4L276.5 291.4L276.5 338L272.9 338L269.2 339.9L265.5 345.4L261.8 350.6L258.1 355.4L254.4 359.3L250.8 361.9L247.1 363.6L243.4 364.2L239.7 364.2L236 363.9L232.3 362.7L228.7 360.8L225 357.5ZM88.7 335.4L92.4 335.4L96.1 335.6L99.7 335.9L103.4 336.2L107.1 336.7L110.8 337.1L114.5 337.5L118.2 338.3L121.8 339.6L125.5 341.4L129.2 343.7L132.9 346.1L136.6 348.5L140.3 351L143.9 353.3L147.6 355.4L151.3 357.4L155 359.2L158.7 360.7L162.4 362.1L166 363.2L169.7 364.1L173.4 364.8L177.1 365.2L180.8 365.4L184.5 365.3L188.1 365.1L191.8 364.6L195.5 363.8L199.2 362.8L202.9 361.7L206.6 360.2L210.2 358.6L213.9 356.8L217.6 354.7L221.3 352.5L225 350.2L228.7 347.7L232.3 345.3L236 342.9L239.7 340.7L243.4 339.1L247.1 338L250.8 337.4L254.4 337L258.1 336.5L261.8 336.1L265.5 335.8L269.2 335.5L272.9 335.4L276.5 335.4L276.5 365.6L272.9 365.6L269.2 365.7L265.5 366L261.8 366.3L258.1 366.7L254.4 367.3L250.8 368.5L247.1 370.1L243.4 371.8L239.7 373.8L236 376L232.3 378.3L228.7 380.8L225 383.3L221.3 387.3L217.6 394.6L213.9 400.5L210.2 404.5L206.6 406.2L202.9 407.7L199.2 408.9L195.5 409.8L191.8 410.6L188.1 411.1L184.5 411.3L180.8 411.4L177.1 411.2L173.4 410.8L169.7 410.1L166 409.2L162.4 408.1L158.7 406.7L155 405.2L151.3 402.1L147.6 396.8L143.9 389.8L140.3 384L136.6 381.6L132.9 379.2L129.2 376.7L125.5 374.5L121.8 372.5L118.2 370.6L114.5 369L110.8 367.6L107.1 366.9L103.4 366.4L99.7 366L96.1 365.8L92.4 365.6L88.7 365.6Z" fill="#febf3b" fill-opacity="0.36"/><path d="M88.7 292.8L92.4 292.8L96.1 296.5L99.7 301.9L103.4 307L107.1 311.7L110.8 316L114.5 319.8L118.2 323.3L121.8 327L125.5 330.8L129.2 334.6L132.9 338.4L136.6 343.3L136.6 357.2L132.9 360.3L129.2 362L125.5 362.8L121.8 363L118.2 362.7L114.5 361.4L110.8 359.1L107.1 355.6L103.4 351L99.7 345.9L96.1 340.5L92.4 336.8L88.7 336.8ZM228.7 341.5L232.3 337.1L236 333.3L239.7 329.5L243.4 325.7L247.1 322.1L250.8 318.6L254.4 314.6L258.1 310.2L261.8 305.3L265.5 300.2L269.2 294.7L272.9 292.8L276.5 292.8L276.5 336.8L272.9 336.8L269.2 338.7L265.5 344.2L261.8 349.3L258.1 354.2L254.4 358.1L250.8 360.7L247.1 362.4L243.4 363L239.7 362.9L236 362.3L232.3 361L228.7 358.5ZM88.7 337.1L92.4 337.1L96.1 337.3L99.7 337.6L103.4 337.9L107.1 338.4L110.8 338.8L114.5 338.9L118.2 339.4L121.8 340.5L125.5 342.3L129.2 344.6L132.9 347L136.6 349.5L140.3 351.9L143.9 354.2L147.6 356.3L151.3 358.3L155 360.1L158.7 361.6L162.4 363L166 364.1L169.7 365L173.4 365.7L177.1 366.1L180.8 366.3L184.5 366.3L188.1 366L191.8 365.5L195.5 364.7L199.2 363.8L202.9 362.6L206.6 361.2L210.2 359.5L213.9 357.7L217.6 355.6L221.3 353.4L225 351.1L228.7 348.6L232.3 346.2L236 343.8L239.7 341.7L243.4 340.1L247.1 339.2L250.8 338.9L254.4 338.7L258.1 338.2L261.8 337.8L265.5 337.5L269.2 337.2L272.9 337.1L276.5 337.1L276.5 363.7L272.9 363.7L269.2 363.8L265.5 364.1L261.8 364.4L258.1 364.8L254.4 365.4L250.8 366.9L247.1 368.7L243.4 370.7L239.7 372.8L236 375L232.3 377.3L228.7 379.8L225 382.2L221.3 384.8L217.6 391.5L213.9 397L210.2 400.6L206.6 402.4L202.9 403.8L199.2 405L195.5 406L191.8 406.7L188.1 407.2L184.5 407.5L180.8 407.5L177.1 407.3L173.4 406.9L169.7 406.2L166 405.3L162.4 404.2L158.7 402.9L155 401.3L151.3 398.4L147.6 393.5L143.9 387.2L140.3 383L136.6 380.6L132.9 378.1L129.2 375.7L125.5 373.5L121.8 371.4L118.2 369.4L114.5 367.5L110.8 365.8L107.1 365L103.4 364.5L99.7 364.2L96.1 363.9L92.4 363.7L88.7 363.7Z" fill="#e1bc2b" fill-opacity="0.6"/><path d="M88.7 294.1L92.4 294.1L96.1 297.9L99.7 303.3L103.4 308.4L107.1 313.1L110.8 317.4L114.5 321.2L118.2 324.7L121.8 328.4L125.5 332.2L129.2 336.1L132.9 340.6L136.6 346.2L136.6 354.5L132.9 358.4L129.2 360.6L125.5 361.5L121.8 361.7L118.2 361.5L114.5 360.1L110.8 357.8L107.1 354.4L103.4 349.8L99.7 344.7L96.1 339.3L92.4 335.5L88.7 335.5ZM228.7 344L232.3 339L236 334.8L239.7 331L243.4 327.2L247.1 323.5L250.8 320L254.4 316L258.1 311.5L261.8 306.7L265.5 301.5L269.2 296L272.9 294.1L276.5 294.1L276.5 335.5L272.9 335.5L269.2 337.4L265.5 342.9L261.8 348.1L258.1 353L254.4 356.8L250.8 359.5L247.1 361.2L243.4 361.7L239.7 361.6L236 361L232.3 359.3L228.7 356.2ZM88.7 338.8L92.4 338.8L96.1 339L99.7 339.3L103.4 339.6L107.1 340.1L110.8 340.4L114.5 340.2L118.2 340.5L121.8 341.5L125.5 343.3L129.2 345.5L132.9 347.9L136.6 350.4L140.3 352.8L143.9 355.1L147.6 357.3L151.3 359.2L155 361L158.7 362.6L162.4 363.9L166 365L169.7 365.9L173.4 366.6L177.1 367L180.8 367.2L184.5 367.2L188.1 366.9L191.8 366.4L195.5 365.7L199.2 364.7L202.9 363.5L206.6 362.1L210.2 360.4L213.9 358.6L217.6 356.6L221.3 354.3L225 352L228.7 349.6L232.3 347.1L236 344.7L239.7 342.6L243.4 341.1L247.1 340.3L250.8 340.2L254.4 340.4L258.1 339.9L261.8 339.5L265.5 339.2L269.2 338.9L272.9 338.8L276.5 338.8L276.5 361.9L272.9 361.9L269.2 361.9L265.5 362.2L261.8 362.5L258.1 362.9L254.4 363.6L250.8 365.4L247.1 367.5L243.4 369.6L239.7 371.8L236 373.9L232.3 376.3L228.7 378.8L225 381.2L221.3 383.6L217.6 388.4L213.9 393.4L210.2 396.8L206.6 398.5L202.9 399.9L199.2 401.1L195.5 402.1L191.8 402.8L188.1 403.3L184.5 403.6L180.8 403.7L177.1 403.5L173.4 403L169.7 402.4L166 401.5L162.4 400.4L158.7 399L155 397.4L151.3 394.7L147.6 390.2L143.9 384.5L140.3 382L136.6 379.6L132.9 377.1L129.2 374.7L125.5 372.5L121.8 370.3L118.2 368.2L114.5 366.1L110.8 364.1L107.1 363.1L103.4 362.6L99.7 362.3L96.1 362L92.4 361.9L88.7 361.9Z" fill="#b3c534" fill-opacity="0.83"/><path d="M88.7 295.4L92.4 295.4L96.1 299.2L99.7 304.6L103.4 309.6L107.1 314.3L110.8 318.6L114.5 322.4L118.2 325.9L121.8 329.7L125.5 333.6L129.2 337.9L132.9 342.7L132.9 356.6L129.2 359L125.5 360.2L121.8 360.6L118.2 360.4L114.5 359L110.8 356.7L107.1 353.3L103.4 348.7L99.7 343.6L96.1 338.2L92.4 334.4L88.7 334.4ZM228.7 347.6L232.3 341L236 336.4L239.7 332.3L243.4 328.4L247.1 324.7L250.8 321.2L254.4 317.2L258.1 312.8L261.8 308L265.5 302.8L269.2 297.3L272.9 295.4L276.5 295.4L276.5 334.4L272.9 334.4L269.2 336.3L265.5 341.8L261.8 347L258.1 351.8L254.4 355.7L250.8 358.4L247.1 360.1L243.4 360.6L239.7 360.4L236 359.6L232.3 357.5L228.7 352.6ZM88.7 340.7L92.4 340.7L96.1 340.8L99.7 341.1L103.4 341.4L107.1 341.9L110.8 342.1L114.5 341.5L118.2 341.5L121.8 342.4L125.5 344.1L129.2 346.3L132.9 348.7L136.6 351.2L140.3 353.6L143.9 355.9L147.6 358.1L151.3 360.1L155 361.8L158.7 363.4L162.4 364.7L166 365.9L169.7 366.8L173.4 367.4L177.1 367.9L180.8 368L184.5 368L188.1 367.7L191.8 367.2L195.5 366.5L199.2 365.5L202.9 364.3L206.6 362.9L210.2 361.3L213.9 359.4L217.6 357.4L221.3 355.2L225 352.8L228.7 350.4L232.3 347.9L236 345.6L239.7 343.4L243.4 342L247.1 341.4L250.8 341.7L254.4 342.2L258.1 341.7L261.8 341.3L265.5 341L269.2 340.7L272.9 340.7L276.5 340.7L276.5 359.8L272.9 359.8L269.2 359.9L265.5 360.2L261.8 360.5L258.1 360.9L254.4 361.6L250.8 363.7L247.1 366.3L243.4 368.6L239.7 370.8L236 373L232.3 375.4L228.7 377.8L225 380.3L221.3 382.6L217.6 386.2L213.9 390.8L210.2 393.9L206.6 395.7L202.9 397.1L199.2 398.3L195.5 399.3L191.8 400L188.1 400.5L184.5 400.8L180.8 400.8L177.1 400.6L173.4 400.2L169.7 399.5L166 398.6L162.4 397.5L158.7 396.2L155 394.6L151.3 392L147.6 387.8L143.9 383.4L140.3 381.1L136.6 378.7L132.9 376.2L129.2 373.8L125.5 371.5L121.8 369.3L118.2 367.1L114.5 364.6L110.8 362.1L107.1 361.1L103.4 360.6L99.7 360.3L96.1 360L92.4 359.8L88.7 359.8Z" fill="#7bcc5d"/><path d="M88.7 296.6L92.4 296.6L96.1 300.4L99.7 305.8L103.4 310.8L107.1 315.5L110.8 319.8L114.5 323.7L118.2 327.2L121.8 331L125.5 335.1L129.2 339.7L132.9 344.6L132.9 354.7L129.2 357.5L125.5 358.9L121.8 359.4L118.2 359.3L114.5 357.9L110.8 355.6L107.1 352.2L103.4 347.6L99.7 342.5L96.1 337.1L92.4 333.4L88.7 333.4ZM232.3 342.8L236 338.1L239.7 333.7L243.4 329.7L247.1 326L250.8 322.4L254.4 318.5L258.1 314L261.8 309.2L265.5 304L269.2 298.5L272.9 296.6L276.5 296.6L276.5 333.4L272.9 333.4L269.2 335.3L265.5 340.7L261.8 345.9L258.1 350.8L254.4 354.6L250.8 357.3L247.1 359L243.4 359.5L239.7 359.1L236 358.1L232.3 355.9ZM88.7 342.2L92.4 342.2L96.1 342.4L99.7 342.6L103.4 343L107.1 343.5L110.8 343.6L114.5 342.9L118.2 342.6L121.8 343.2L125.5 344.9L129.2 347.1L132.9 349.6L136.6 352L140.3 354.4L143.9 356.7L147.6 358.9L151.3 360.9L155 362.6L158.7 364.2L162.4 365.6L166 366.7L169.7 367.6L173.4 368.2L177.1 368.7L180.8 368.9L184.5 368.8L188.1 368.5L191.8 368L195.5 367.3L199.2 366.3L202.9 365.1L206.6 363.7L210.2 362.1L213.9 360.2L217.6 358.2L221.3 356L225 353.6L228.7 351.2L232.3 348.7L236 346.4L239.7 344.2L243.4 342.9L247.1 342.6L250.8 343.2L254.4 343.7L258.1 343.3L261.8 342.9L265.5 342.5L269.2 342.3L272.9 342.2L276.5 342.2L276.5 358.1L272.9 358.1L269.2 358.2L265.5 358.4L261.8 358.7L258.1 359.2L254.4 359.9L250.8 362.1L247.1 364.9L243.4 367.6L239.7 369.9L236 372.1L232.3 374.5L228.7 376.9L225 379.4L221.3 381.7L217.6 384L213.9 388.2L210.2 391.2L206.6 392.9L202.9 394.3L199.2 395.5L195.5 396.5L191.8 397.3L188.1 397.8L184.5 398L180.8 398.1L177.1 397.9L173.4 397.4L169.7 396.8L166 395.9L162.4 394.8L158.7 393.4L155 391.9L151.3 389.4L147.6 385.5L143.9 382.5L140.3 380.2L136.6 377.8L132.9 375.3L129.2 372.9L125.5 370.6L121.8 368.4L118.2 365.9L114.5 363L110.8 360.4L107.1 359.3L103.4 358.9L99.7 358.5L96.1 358.2L92.4 358.1L88.7 358.1Z" fill="#47cb87"/><path d="M88.7 297.9L92.4 297.9L96.1 301.6L99.7 307L103.4 312.1L107.1 316.8L110.8 321.1L114.5 324.9L118.2 328.4L121.8 332.4L125.5 336.7L129.2 341.2L129.2 356.1L125.5 357.5L121.8 358.2L118.2 358.2L114.5 356.8L110.8 354.5L107.1 351.1L103.4 346.5L99.7 341.4L96.1 336L92.4 332.2L88.7 332.2ZM232.3 345L236 339.7L239.7 335.2L243.4 331L247.1 327.2L250.8 323.7L254.4 319.7L258.1 315.3L261.8 310.4L265.5 305.3L269.2 299.8L272.9 297.9L276.5 297.9L276.5 332.2L272.9 332.2L269.2 334.1L265.5 339.6L261.8 344.8L258.1 349.6L254.4 353.5L250.8 356.2L247.1 357.9L243.4 358.3L239.7 357.8L236 356.7L232.3 353.6ZM88.7 344.9L92.4 344.9L96.1 345L99.7 345.3L103.4 345.7L107.1 346.1L110.8 345.4L114.5 344.2L118.2 343.7L121.8 344.2L125.5 345.7L129.2 348L132.9 350.4L136.6 352.9L140.3 355.3L143.9 357.6L147.6 359.7L151.3 361.7L155 363.5L158.7 365L162.4 366.4L166 367.5L169.7 368.4L173.4 369.1L177.1 369.5L180.8 369.7L184.5 369.6L188.1 369.4L191.8 368.9L195.5 368.1L199.2 367.2L202.9 366L206.6 364.5L210.2 362.9L213.9 361.1L217.6 359L221.3 356.8L225 354.5L228.7 352L232.3 349.6L236 347.2L239.7 345.1L243.4 343.9L247.1 343.8L250.8 344.5L254.4 346.1L258.1 345.9L261.8 345.5L265.5 345.2L269.2 345L272.9 344.9L276.5 344.9L276.5 355.4L272.9 355.4L269.2 355.5L265.5 355.7L261.8 356L258.1 356.5L254.4 357.4L250.8 360.6L247.1 363.6L243.4 366.5L239.7 369L236 371.2L232.3 373.6L228.7 376L225 378.5L221.3 380.8L217.6 383L213.9 386.4L210.2 389.3L206.6 391L202.9 392.4L199.2 393.6L195.5 394.6L191.8 395.3L188.1 395.8L184.5 396.1L180.8 396.1L177.1 395.9L173.4 395.5L169.7 394.8L166 394L162.4 392.8L158.7 391.5L155 389.9L151.3 387.5L147.6 383.9L143.9 381.6L140.3 379.3L136.6 376.8L132.9 374.4L129.2 372L125.5 369.7L121.8 367.4L118.2 364.6L114.5 361.6L110.8 358.6L107.1 356.6L103.4 356.2L99.7 355.8L96.1 355.5L92.4 355.4L88.7 355.4Z" fill="#2bc3a8"/><path d="M88.7 299.2L92.4 299.2L96.1 303L99.7 308.4L103.4 313.5L107.1 318.2L110.8 322.5L114.5 326.3L118.2 329.8L121.8 333.9L125.5 338.1L129.2 342.8L129.2 354.6L125.5 356.2L121.8 356.9L118.2 356.9L114.5 355.6L110.8 353.3L107.1 349.9L103.4 345.2L99.7 340.2L96.1 334.8L92.4 331L88.7 331ZM236 341.2L239.7 336.7L243.4 332.5L247.1 328.6L250.8 325.1L254.4 321.1L258.1 316.7L261.8 311.8L265.5 306.6L269.2 301.1L272.9 299.2L276.5 299.2L276.5 331L272.9 331L269.2 332.9L265.5 338.4L261.8 343.6L258.1 348.4L254.4 352.3L250.8 354.9L247.1 356.6L243.4 357L239.7 356.5L236 355.4ZM88.7 350.1L92.4 350.1L96.1 350.3L99.7 350.6L103.4 350.9L107.1 351.4L110.8 352L114.5 345.5L118.2 344.8L121.8 345.2L125.5 346.7L129.2 348.9L132.9 351.3L136.6 353.8L140.3 356.2L143.9 358.5L147.6 360.7L151.3 362.6L155 364.4L158.7 366L162.4 367.3L166 368.4L169.7 369.3L173.4 370L177.1 370.4L180.8 370.6L184.5 370.6L188.1 370.3L191.8 369.8L195.5 369.1L199.2 368.1L202.9 366.9L206.6 365.5L210.2 363.8L213.9 362L217.6 360L221.3 357.8L225 355.4L228.7 353L232.3 350.5L236 348.1L239.7 346L243.4 344.9L247.1 344.9L250.8 346.2L254.4 351.8L258.1 351.2L261.8 350.8L265.5 350.5L269.2 350.2L272.9 350.1L276.5 350.1L276.5 350.6L272.9 350.6L269.2 350.7L265.5 350.9L261.8 351.2L258.1 351.6L254.4 352.2L250.8 358.8L247.1 362.4L243.4 365.3L239.7 367.9L236 370.2L232.3 372.5L228.7 375L225 377.4L221.3 379.8L217.6 382L213.9 384.7L210.2 387.4L206.6 389.1L202.9 390.5L199.2 391.7L195.5 392.7L191.8 393.4L188.1 394L184.5 394.2L180.8 394.3L177.1 394.1L173.4 393.6L169.7 393L166 392.1L162.4 391L158.7 389.6L155 388.1L151.3 385.7L147.6 382.7L143.9 380.5L140.3 378.2L136.6 375.8L132.9 373.3L129.2 370.9L125.5 368.7L121.8 366.3L118.2 363.4L114.5 360.2L110.8 352.4L107.1 351.8L103.4 351.3L99.7 351L96.1 350.7L92.4 350.6L88.7 350.6Z" fill="#02bac4"/><path d="M88.7 300.6L92.4 300.6L96.1 304.4L99.7 309.8L103.4 314.9L107.1 319.6L110.8 323.9L114.5 327.7L118.2 331.2L121.8 335.2L125.5 339.5L129.2 347.1L129.2 349.9L125.5 355L121.8 355.7L118.2 355.7L114.5 354.4L110.8 352.1L107.1 348.6L103.4 344L99.7 338.9L96.1 333.5L92.4 329.8L88.7 329.8ZM236 342.8L239.7 338L243.4 333.8L247.1 330L250.8 326.5L254.4 322.5L258.1 318L261.8 313.2L265.5 308L269.2 302.5L272.9 300.6L276.5 300.6L276.5 329.8L272.9 329.8L269.2 331.7L265.5 337.2L261.8 342.3L258.1 347.2L254.4 351.1L250.8 353.7L247.1 355.4L243.4 355.8L239.7 355.3L236 353.6ZM88.7 350.1L92.4 350.1L96.1 350.3L99.7 350.6L103.4 350.9L107.1 351.4L110.8 352L114.5 347.9L118.2 345.8L121.8 346.1L125.5 347.6L129.2 349.8L132.9 352.2L136.6 354.7L140.3 357.1L143.9 359.4L147.6 361.6L151.3 363.6L155 365.3L158.7 366.9L162.4 368.2L166 369.4L169.7 370.3L173.4 370.9L177.1 371.3L180.8 371.5L184.5 371.5L188.1 371.2L191.8 370.7L195.5 370L199.2 369L202.9 367.8L206.6 366.4L210.2 364.8L213.9 362.9L217.6 360.9L221.3 358.7L225 356.3L228.7 353.9L232.3 351.4L236 349L239.7 347L243.4 345.8L247.1 345.9L250.8 352.5L254.4 351.8L258.1 351.2L261.8 350.8L265.5 350.5L269.2 350.2L272.9 350.1L276.5 350.1L276.5 350.5L272.9 350.5L269.2 350.6L265.5 350.8L261.8 351.2L258.1 351.6L254.4 352.1L250.8 352.9L247.1 361.2L243.4 364.3L239.7 366.9L236 369.1L232.3 371.5L228.7 374L225 376.4L221.3 378.8L217.6 381L213.9 383L210.2 385.6L206.6 387.3L202.9 388.7L199.2 389.9L195.5 390.8L191.8 391.6L188.1 392.1L184.5 392.4L180.8 392.4L177.1 392.2L173.4 391.8L169.7 391.1L166 390.2L162.4 389.1L158.7 387.8L155 386.2L151.3 383.9L147.6 381.7L143.9 379.5L140.3 377.2L136.6 374.8L132.9 372.3L129.2 369.9L125.5 367.7L121.8 365.2L118.2 362.3L114.5 357.7L110.8 352.4L107.1 351.7L103.4 351.3L99.7 350.9L96.1 350.7L92.4 350.5L88.7 350.5Z" fill="#18aedb"/><path d="M88.7 301.9L92.4 301.9L96.1 305.6L99.7 311L103.4 316.1L107.1 320.8L110.8 325.1L114.5 328.9L118.2 332.4L121.8 336.4L125.5 340.9L125.5 353.6L121.8 354.6L118.2 354.6L114.5 353.3L110.8 351L107.1 347.6L103.4 342.9L99.7 337.8L96.1 332.5L92.4 328.7L88.7 328.7ZM239.7 339.3L243.4 335.1L247.1 331.2L250.8 327.7L254.4 323.7L258.1 319.3L261.8 314.4L265.5 309.3L269.2 303.8L272.9 301.9L276.5 301.9L276.5 328.7L272.9 328.7L269.2 330.6L265.5 336.1L261.8 341.3L258.1 346.1L254.4 350L250.8 352.6L247.1 354.3L243.4 354.7L239.7 354.1ZM88.7 350.1L92.4 350.1L96.1 350.3L99.7 350.6L103.4 350.9L107.1 351.4L110.8 352L114.5 352.8L118.2 346.9L121.8 346.9L125.5 348.4L129.2 350.6L132.9 353.1L136.6 355.5L140.3 357.9L143.9 360.2L147.6 362.4L151.3 364.4L155 366.1L158.7 367.7L162.4 369.1L166 370.2L169.7 371.1L173.4 371.7L177.1 372.2L180.8 372.4L184.5 372.3L188.1 372L191.8 371.5L195.5 370.8L199.2 369.8L202.9 368.6L206.6 367.2L210.2 365.6L213.9 363.7L217.6 361.7L221.3 359.5L225 357.1L228.7 354.7L232.3 352.2L236 349.9L239.7 347.8L243.4 346.7L247.1 347.6L250.8 352.5L254.4 351.8L258.1 351.2L261.8 350.8L265.5 350.5L269.2 350.2L272.9 350.1L276.5 350.1L276.5 350.4L272.9 350.4L269.2 350.5L265.5 350.8L261.8 351.1L258.1 351.5L254.4 352L250.8 352.8L247.1 359.5L243.4 363.3L239.7 366L236 368.2L232.3 370.6L228.7 373.1L225 375.5L221.3 377.9L217.6 380.1L213.9 382.1L210.2 383.9L206.6 385.6L202.9 387L199.2 388.2L195.5 389.2L191.8 389.9L188.1 390.4L184.5 390.7L180.8 390.7L177.1 390.5L173.4 390.1L169.7 389.4L166 388.5L162.4 387.4L158.7 386.1L155 384.5L151.3 382.7L147.6 380.8L143.9 378.6L140.3 376.3L136.6 373.9L132.9 371.4L129.2 369L125.5 366.8L121.8 364.3L118.2 361.1L114.5 353.1L110.8 352.3L107.1 351.7L103.4 351.2L99.7 350.8L96.1 350.6L92.4 350.4L88.7 350.4Z" fill="#259ce7"/><path d="M88.7 303L92.4 303L96.1 306.8L99.7 312.2L103.4 317.3L107.1 322L110.8 326.3L114.5 330.1L118.2 333.6L121.8 337.7L125.5 343.3L125.5 351.1L121.8 353.4L118.2 353.5L114.5 352.2L110.8 349.9L107.1 346.5L103.4 341.9L99.7 336.8L96.1 331.4L92.4 327.6L88.7 327.6ZM239.7 341L243.4 336.3L247.1 332.4L250.8 328.9L254.4 324.9L258.1 320.4L261.8 315.6L265.5 310.4L269.2 304.9L272.9 303L276.5 303L276.5 327.6L272.9 327.6L269.2 329.5L265.5 335L261.8 340.2L258.1 345L254.4 348.9L250.8 351.6L247.1 353.3L243.4 353.6L239.7 352.3ZM88.7 350.1L92.4 350.1L96.1 350.3L99.7 350.6L103.4 350.9L107.1 351.4L110.8 352L114.5 352.8L118.2 348.9L121.8 347.8L125.5 349.2L129.2 351.4L132.9 353.8L136.6 356.3L140.3 358.7L143.9 361L147.6 363.2L151.3 365.2L155 366.9L158.7 368.5L162.4 369.8L166 371L169.7 371.9L173.4 372.5L177.1 372.9L180.8 373.1L184.5 373.1L188.1 372.8L191.8 372.3L195.5 371.6L199.2 370.6L202.9 369.4L206.6 368L210.2 366.4L213.9 364.5L217.6 362.5L221.3 360.3L225 357.9L228.7 355.5L232.3 353L236 350.6L239.7 348.6L243.4 347.7L247.1 353.6L250.8 352.5L254.4 351.8L258.1 351.2L261.8 350.8L265.5 350.5L269.2 350.2L272.9 350.1L276.5 350.1L276.5 350.3L272.9 350.3L269.2 350.4L265.5 350.7L261.8 351L258.1 351.4L254.4 352L250.8 352.7L247.1 353.8L243.4 362.3L239.7 365.1L236 367.3L232.3 369.7L228.7 372.2L225 374.6L221.3 377L217.6 379.2L213.9 381.2L210.2 383.1L206.6 384.7L202.9 386.1L199.2 387.3L195.5 388.3L191.8 389L188.1 389.5L184.5 389.8L180.8 389.8L177.1 389.6L173.4 389.2L169.7 388.6L166 387.7L162.4 386.5L158.7 385.2L155 383.6L151.3 381.9L147.6 379.9L143.9 377.7L140.3 375.4L136.6 373L132.9 370.5L129.2 368.1L125.5 365.9L121.8 363.4L118.2 359.1L114.5 353L110.8 352.2L107.1 351.6L103.4 351.1L99.7 350.8L96.1 350.5L92.4 350.3L88.7 350.3Z" fill="#2d88f6"/><path d="M88.7 304.2L92.4 304.2L96.1 308L99.7 313.4L103.4 318.4L107.1 323.1L110.8 327.4L114.5 331.3L118.2 334.8L121.8 339.2L121.8 351.7L118.2 352.4L114.5 351.2L110.8 348.9L107.1 345.4L103.4 340.8L99.7 335.7L96.1 330.3L92.4 326.6L88.7 326.6ZM239.7 346.4L243.4 337.5L247.1 333.6L250.8 330.1L254.4 326.1L258.1 321.6L261.8 316.8L265.5 311.6L269.2 306.1L272.9 304.2L276.5 304.2L276.5 326.6L272.9 326.6L269.2 328.5L265.5 334L261.8 339.1L258.1 344L254.4 347.9L250.8 350.5L247.1 352.2L243.4 352.2L239.7 346.5ZM121.8 348.9L125.5 350L129.2 352.2L132.9 354.6L136.6 357.1L140.3 359.5L143.9 361.8L147.6 364L151.3 366L155 367.7L158.7 369.3L162.4 370.6L166 371.8L169.7 372.6L173.4 373.3L177.1 373.7L180.8 373.9L184.5 373.9L188.1 373.6L191.8 373.1L195.5 372.4L199.2 371.4L202.9 370.2L206.6 368.8L210.2 367.2L213.9 365.3L217.6 363.3L221.3 361.1L225 358.7L228.7 356.3L232.3 353.8L236 351.4L239.7 349.4L243.4 349.2L243.4 360.7L239.7 364.2L236 366.5L232.3 368.8L228.7 371.3L225 373.7L221.3 376.1L217.6 378.3L213.9 380.3L210.2 382.2L206.6 383.8L202.9 385.2L199.2 386.4L195.5 387.4L191.8 388.1L188.1 388.6L184.5 388.9L180.8 389L177.1 388.8L173.4 388.3L169.7 387.7L166 386.8L162.4 385.7L158.7 384.3L155 382.8L151.3 381L147.6 379L143.9 376.9L140.3 374.5L136.6 372.1L132.9 369.7L129.2 367.2L125.5 365L121.8 362.2Z" fill="#3c72ff"/><path d="M88.7 305.5L92.4 305.5L96.1 309.2L99.7 314.6L103.4 319.7L107.1 324.4L110.8 328.7L114.5 332.5L118.2 336.3L121.8 343.5L121.8 346.8L118.2 350.4L114.5 349.3L110.8 346.7L107.1 343.2L103.4 338.5L99.7 333.4L96.1 328.1L92.4 324.3L88.7 324.3ZM243.4 339.7L247.1 334.9L250.8 331.3L254.4 327.3L258.1 322.9L261.8 318L265.5 312.9L269.2 307.4L272.9 305.5L276.5 305.5L276.5 324.3L272.9 324.3L269.2 326.2L265.5 331.7L261.8 336.9L258.1 341.7L254.4 345.7L250.8 348.5L247.1 350.4L243.4 349.7ZM121.8 350.9L125.5 351.2L129.2 353.4L132.9 355.8L136.6 358.3L140.3 360.7L143.9 363L147.6 365.2L151.3 367.1L155 368.9L158.7 370.5L162.4 371.8L166 372.9L169.7 373.8L173.4 374.5L177.1 374.9L180.8 375.1L184.5 375.1L188.1 374.8L191.8 374.3L195.5 373.6L199.2 372.6L202.9 371.4L206.6 370L210.2 368.3L213.9 366.5L217.6 364.5L221.3 362.3L225 359.9L228.7 357.5L232.3 355L236 352.6L239.7 350.7L243.4 353.8L243.4 356.2L239.7 362.9L236 365.3L232.3 367.7L228.7 370.1L225 372.6L221.3 374.9L217.6 377.1L213.9 379.2L210.2 381L206.6 382.6L202.9 384.1L199.2 385.2L195.5 386.2L191.8 387L188.1 387.5L184.5 387.7L180.8 387.8L177.1 387.6L173.4 387.1L169.7 386.5L166 385.6L162.4 384.5L158.7 383.1L155 381.6L151.3 379.8L147.6 377.8L143.9 375.7L140.3 373.4L136.6 370.9L132.9 368.5L129.2 366.1L125.5 363.8L121.8 360.2Z" fill="#475bf9"/><path d="M88.7 307.7L92.4 307.7L96.1 311.5L99.7 316.9L103.4 321.9L107.1 326.6L110.8 330.9L114.5 334.8L118.2 339.7L118.2 345.9L114.5 345.8L110.8 342.9L107.1 339L103.4 334.4L99.7 329.3L96.1 323.9L92.4 320.2L88.7 320.2ZM247.1 337.1L250.8 333.6L254.4 329.6L258.1 325.1L261.8 320.3L265.5 315.1L269.2 309.6L272.9 307.7L276.5 307.7L276.5 320.2L272.9 320.2L269.2 322.1L265.5 327.5L261.8 332.7L258.1 337.6L254.4 341.7L250.8 344.9L247.1 347.3ZM125.5 353.3L129.2 355.5L132.9 358L136.6 360.4L140.3 362.9L143.9 365.2L147.6 367.3L151.3 369.3L155 371.1L158.7 372.6L162.4 374L166 375.1L169.7 376L173.4 376.6L177.1 377.1L180.8 377.3L184.5 377.2L188.1 377L191.8 376.4L195.5 375.7L199.2 374.7L202.9 373.5L206.6 372.1L210.2 370.5L213.9 368.6L217.6 366.6L221.3 364.4L225 362.1L228.7 359.6L232.3 357.2L236 354.8L239.7 353L239.7 360.6L236 363.1L232.3 365.5L228.7 368L225 370.4L221.3 372.8L217.6 375L213.9 377L210.2 378.8L206.6 380.5L202.9 381.9L199.2 383.1L195.5 384.1L191.8 384.8L188.1 385.3L184.5 385.6L180.8 385.6L177.1 385.4L173.4 385L169.7 384.3L166 383.4L162.4 382.3L158.7 381L155 379.4L151.3 377.6L147.6 375.7L143.9 373.5L140.3 371.2L136.6 368.8L132.9 366.3L129.2 363.9L125.5 361.7Z" fill="#4745e9"/><path d="M137.8 366.9L140.3 368.5L142.7 370.1L145.2 371.6L147.6 373L150.1 374.3L152.5 375.6L155 376.7L157.4 377.8L159.9 378.8L162.4 379.7L164.8 380.4L167.3 381.1L169.7 381.7L172.2 382.1L174.6 382.5L177.1 382.8L179.5 382.9L182 383L184.5 382.9L186.9 382.8L189.4 382.5L191.8 382.1L194.3 381.7L196.7 381.1L199.2 380.4L201.6 379.7L204.1 378.8L206.6 377.8L209 376.7L211.5 375.6L213.9 374.3L216.4 373L218.8 371.6L221.3 370.1L223.7 368.5L226.2 366.9" fill="none" stroke="#422ebe" stroke-width="3" stroke-linecap="round" stroke-opacity="0.6"/><path d="M94.6 315.9L97.2 319.8L99.8 323.6L102.4 327.3L105.1 330.7L107.7 334L110.3 337L112.9 339.9L115.5 342.4L118.2 344.7" fill="none" stroke="#4433cc" stroke-width="4" stroke-linecap="round" stroke-opacity="0.4"/><path d="M245.8 344.7L248.5 342.4L251.1 339.9L253.7 337L256.3 334L258.9 330.7L261.6 327.3L264.2 323.6L266.8 319.8L269.4 315.9" fill="none" stroke="#4433cc" stroke-width="4" stroke-linecap="round" stroke-opacity="0.4"/></g>
<defs><linearGradient id="st1" x1="0" y1="0" x2="0" y2="1"><stop offset="0" stop-color="#2895ec" stop-opacity=".95"/><stop offset=".5" stop-color="#04bbc2" stop-opacity=".85"/><stop offset="1" stop-color="#48cb86" stop-opacity=".7"/></linearGradient><linearGradient id="st2" x1="0" y1="0" x2="0" y2="1"><stop offset="0" stop-color="#12beb9" stop-opacity=".8"/><stop offset="1" stop-color="#7acc5d" stop-opacity=".5"/></linearGradient></defs><g filter="url(#sb)"><rect x="151.7" y="382.5" width="5.5" height="57.1" fill="url(#st1)"/><rect x="208.7" y="382.1" width="3.5" height="57.6" fill="url(#st1)"/><rect x="180.5" y="400.3" width="5" height="39.4" fill="url(#st2)"/><rect x="134.8" y="376.1" width="4" height="29.7" fill="url(#st2)"/></g></g>

<path d="M93.6 350.71L96.06 350.86L98.51 351.03L100.97 351.23L103.42 351.47L105.88 351.76L108.33 352.12L110.79 352.55L113.24 353.09L115.7 353.75L118.16 354.57L120.61 355.55L123.07 356.72L125.52 358.05L127.98 359.52L130.43 361.09L132.89 362.71L135.34 364.36L137.8 365.99L140.26 367.6L142.71 369.15L145.17 370.64L147.62 372.06L150.08 373.39L152.53 374.64L154.99 375.8L157.44 376.87L159.9 377.84L162.36 378.71L164.81 379.48L167.27 380.16L169.72 380.73L172.18 381.19L174.63 381.56L177.09 381.82L179.54 381.97L182 382.02L184.46 381.97L186.91 381.82L189.37 381.56L191.82 381.19L194.28 380.73L196.73 380.16L199.19 379.48L201.64 378.71L204.1 377.84L206.56 376.87L209.01 375.8L211.47 374.64L213.92 373.39L216.38 372.06L218.83 370.64L221.29 369.15L223.74 367.6L226.2 365.99L228.66 364.36L231.11 362.71L233.57 361.09L236.02 359.52L238.48 358.05L240.93 356.72L243.39 355.55L245.84 354.57L248.3 353.75L250.76 353.09L253.21 352.55L255.67 352.12L258.12 351.76L260.58 351.47L263.03 351.23L265.49 351.03L267.94 350.86L270.4 350.71" class="sw"/><path d="M93.6 307.21L96.06 310.97L98.51 314.6L100.97 318.09L103.42 321.43L105.88 324.61L108.33 327.62L110.79 330.44L113.24 333.04L115.7 335.41L118.16 337.51L120.61 339.34L123.07 340.87L125.52 342.13L127.98 343.14L130.43 343.94L132.89 344.58L135.34 345.08L137.8 345.49L140.26 345.81L142.71 346.08L145.17 346.3L147.62 346.48L150.08 346.63L152.53 346.76L154.99 346.86L157.44 346.95L159.9 347.03L162.36 347.1L164.81 347.15L167.27 347.19L169.72 347.23L172.18 347.26L174.63 347.28L177.09 347.3L179.54 347.31L182 347.31L184.46 347.31L186.91 347.3L189.37 347.28L191.82 347.26L194.28 347.23L196.73 347.19L199.19 347.15L201.64 347.1L204.1 347.03L206.56 346.95L209.01 346.86L211.47 346.76L213.92 346.63L216.38 346.48L218.83 346.3L221.29 346.08L223.74 345.81L226.2 345.49L228.66 345.08L231.11 344.58L233.57 343.94L236.02 343.14L238.48 342.13L240.93 340.87L243.39 339.34L245.84 337.51L248.3 335.41L250.76 333.04L253.21 330.44L255.67 327.62L258.12 324.61L260.58 321.43L263.03 318.09L265.49 314.6L267.94 310.97L270.4 307.21" class="sw"/><path d="M93.6 308.7L96.06 312.61L98.51 316.41L100.97 320.1L103.42 323.69L105.88 327.16L108.33 330.52L110.79 333.77L113.24 336.91L115.7 339.94L118.16 342.86L120.61 345.67L123.07 348.37L125.52 350.96L127.98 353.44L130.43 355.81L132.89 358.07L135.34 360.22L137.8 362.26L140.26 364.19L142.71 366.01L145.17 367.72L147.62 369.31L150.08 370.8L152.53 372.18L154.99 373.45L157.44 374.6L159.9 375.65L162.36 376.59L164.81 377.42L167.27 378.13L169.72 378.74L172.18 379.23L174.63 379.62L177.09 379.9L179.54 380.06L182 380.12L184.46 380.06L186.91 379.9L189.37 379.62L191.82 379.23L194.28 378.74L196.73 378.13L199.19 377.42L201.64 376.59L204.1 375.65L206.56 374.6L209.01 373.45L211.47 372.18L213.92 370.8L216.38 369.31L218.83 367.72L221.29 366.01L223.74 364.19L226.2 362.26L228.66 360.22L231.11 358.07L233.57 355.81L236.02 353.44L238.48 350.96L240.93 348.37L243.39 345.67L245.84 342.86L248.3 339.94L250.76 336.91L253.21 333.77L255.67 330.52L258.12 327.16L260.58 323.69L263.03 320.1L265.49 316.41L267.94 312.61L270.4 308.7" class="dw"/><path d="M93.6 349.59H270.4" class="dw"/>

<rect x="93.6" y="248.25" width="176.8" height="167.35" fill="none" stroke="#1a1400" stroke-width="0.9"/>
<text class="t" x="89.9" y="405.57" text-anchor="end">1.82</text>
<text class="t" x="89.9" y="386.73" text-anchor="end">1.83</text>
<text class="t" x="89.9" y="367.89" text-anchor="end">1.84</text>
<text class="t" x="89.9" y="349.05" text-anchor="end">1.85</text>
<text class="t" x="89.9" y="330.21" text-anchor="end">1.86</text>
<text class="t" x="89.9" y="311.37" text-anchor="end">1.87</text>
<text class="t" x="89.9" y="292.53" text-anchor="end">1.88</text>
<text class="t" x="89.9" y="273.69" text-anchor="end">1.89</text>
<text class="t" x="89.9" y="254.85" text-anchor="end">1.9</text>
<text class="t" x="110.73" y="426.3" text-anchor="middle">-15</text>
<text class="t" x="135.09" y="426.3" text-anchor="middle">-10</text>
<text class="t" x="158.34" y="426.3" text-anchor="middle">-5</text>
<text class="t" x="182.4" y="426.3" text-anchor="middle">0</text>
<text class="t" x="206.96" y="426.3" text-anchor="middle">5</text>
<text class="t" x="231.51" y="426.3" text-anchor="middle">10</text>
<text class="t" x="256.07" y="426.3" text-anchor="middle">15</text>
<path d="M93.6 401.97h3.4M270.4 401.97h-3.4M93.6 383.13h3.4M270.4 383.13h-3.4M93.6 364.29h3.4M270.4 364.29h-3.4M93.6 345.45h3.4M270.4 345.45h-3.4M93.6 326.61h3.4M270.4 326.61h-3.4M93.6 307.77h3.4M270.4 307.77h-3.4M93.6 288.93h3.4M270.4 288.93h-3.4M93.6 270.09h3.4M270.4 270.09h-3.4M93.6 251.25h3.4M270.4 251.25h-3.4M108.33 415.6v-3.2M108.33 248.25v3.2M132.89 415.6v-3.2M132.89 248.25v3.2M157.44 415.6v-3.2M157.44 248.25v3.2M182 415.6v-3.2M182 248.25v3.2M206.56 415.6v-3.2M206.56 248.25v3.2M231.11 415.6v-3.2M231.11 248.25v3.2M255.67 415.6v-3.2M255.67 248.25v3.2" stroke="#1a1400" stroke-width="0.9" fill="none"/>
<text class="l" x="183.2" y="437.3" text-anchor="middle">Angle (degree)</text>
<text class="l" transform="translate(66.3 322.62) rotate(-90)" text-anchor="middle">Energy (eV)</text>
<text class="t" x="60.8" y="247.85">c</text>
<text class="t" x="104.4" y="264.05">15K</text>
<rect x="277.9" y="248.25" width="7.4" height="167.35" fill="url(#cbar)" stroke="#6b6b50" stroke-width=".35"/>
<text class="t" x="291.3" y="251.45">1</text>
<text class="t" x="290.5" y="419.1">0</text>

<path d="M339.6 255.6V409.8H531" stroke="#111" stroke-width="0.9" fill="none"/>
<text class="t" x="334.6" y="402.7" text-anchor="end">0.0</text>
<text class="t" x="334.6" y="377.1" text-anchor="end">2.5</text>
<text class="t" x="334.6" y="351.5" text-anchor="end">5.0</text>
<text class="t" x="334.6" y="325.9" text-anchor="end">7.5</text>
<text class="t" x="334.6" y="300.3" text-anchor="end">10.0</text>
<text class="t" x="334.6" y="274.7" text-anchor="end">12.5</text>
<text class="t" x="359" y="422.8" text-anchor="middle">1.82</text>
<text class="t" x="396.9" y="422.8" text-anchor="middle">1.84</text>
<text class="t" x="434.8" y="422.8" text-anchor="middle">1.86</text>
<text class="t" x="472.7" y="422.8" text-anchor="middle">1.88</text>
<text class="t" x="510.6" y="422.8" text-anchor="middle">1.90</text>
<path d="M339.6 399.2h-3.6M339.6 373.6h-3.6M339.6 348h-3.6M339.6 322.4h-3.6M339.6 296.8h-3.6M339.6 271.2h-3.6M339.6 386.4h-2M339.6 360.8h-2M339.6 335.2h-2M339.6 309.6h-2M339.6 284h-2M339.6 258.4h-2M359 409.8v3.6M396.9 409.8v3.6M434.8 409.8v3.6M472.7 409.8v3.6M510.6 409.8v3.6M377.95 409.8v2M415.85 409.8v2M453.75 409.8v2M491.65 409.8v2M529.55 409.8v2" stroke="#111" stroke-width="0.9" fill="none"/>
<text class="l" x="435.5" y="435" text-anchor="middle">Energy (eV)</text>
<text class="l" transform="translate(310.6 332.5) rotate(-90)" text-anchor="middle">Intensity (arb. units)</text>
<text class="t" x="305" y="247.9">d</text>
<text class="t" x="514.8" y="270.4">18°</text>
<text class="t" x="517" y="392.6">9°</text>
<path d="M344.8 389.7L346.8 389.6L348.8 389.6L350.8 389.6L352.8 389.6L354.8 389.6L356.8 389.6L358.8 389.6L360.8 389.5L362.8 389.5L364.8 389.5L366.8 389.4L368.8 389.3L370.8 389.3L372.8 389.5L374.8 389.9L376.8 390.6L378.8 391.5L380.8 392.8L382.8 394.1L384.8 395.6L386.8 396.9L388.8 397.9L390.8 398.6L392.8 398.8L394.8 398.3L396.8 397L398.8 395.3L400.8 393.6L402.8 392.3L404.8 391.4L406.8 390.9L408.8 390.7L410.8 390.6L412.8 390.7L414.8 390.7L416.8 390.7L418.8 390.7L420.8 390.7L422.8 390.7L424.8 390.6L426.8 390.6L428.8 390.5L430.8 390.5L432.8 390.4L434.8 390.3L436.8 390.3L438.8 390.2L440.8 390.1L442.8 390.1L444.8 390L446.8 389.9L448.8 389.9L450.8 389.8L452.8 389.8L454.8 389.7L456.8 389.7L458.8 389.6L460.8 389.6L462.8 389.5L464.8 389.5L466.8 389.5L468.8 389.4L470.8 389.4L472.8 389.4L474.8 389.4L476.8 389.4L478.8 389.4L480.8 389.4L482.8 389.4L484.8 389.4L486.8 389.4L488.8 389.4L490.8 389.4L492.8 389.5L494.8 389.5L496.8 389.5L498.8 389.6L500.8 389.6L502.8 389.7L504.8 389.7L506.8 389.8L508.8 389.8L510.8 389.9L512.8 389.9L514.8 390" class="k"/>
<path d="M344.8 380.4L346.8 380.4L348.8 380.3L350.8 380.3L352.8 380.3L354.8 380.3L356.8 380.3L358.8 380.2L360.8 380.2L362.8 380.2L364.8 380.1L366.8 380.1L368.8 380L370.8 379.9L372.8 379.9L374.8 380.1L376.8 380.5L378.8 381.1L380.8 382.1L382.8 383.2L384.8 384.4L386.8 385.7L388.8 386.8L390.8 387.6L392.8 388.1L394.8 388.2L396.8 387.6L398.8 386.3L400.8 384.7L402.8 383.2L404.8 382.1L406.8 381.4L408.8 381.1L410.8 380.9L412.8 380.9L414.8 380.9L416.8 380.9L418.8 380.8L420.8 380.8L422.8 380.7L424.8 380.6L426.8 380.4L428.8 380.3L430.8 380.1L432.8 380L434.8 379.8L436.8 379.7L438.8 379.5L440.8 379.4L442.8 379.3L444.8 379.2L446.8 379L448.8 378.9L450.8 378.8L452.8 378.7L454.8 378.7L456.8 378.6L458.8 378.5L460.8 378.5L462.8 378.4L464.8 378.4L466.8 378.4L468.8 378.3L470.8 378.3L472.8 378.3L474.8 378.3L476.8 378.3L478.8 378.3L480.8 378.3L482.8 378.3L484.8 378.3L486.8 378.4L488.8 378.4L490.8 378.4L492.8 378.5L494.8 378.5L496.8 378.5L498.8 378.5L500.8 378.6L502.8 378.6L504.8 378.6L506.8 378.7L508.8 378.7L510.8 378.7L512.8 378.7L514.8 378.7" class="k"/>
<path d="M344.8 367.7L346.8 367.7L348.8 367.7L350.8 367.7L352.8 367.7L354.8 367.7L356.8 367.7L358.8 367.7L360.8 367.7L362.8 367.7L364.8 367.7L366.8 367.7L368.8 367.6L370.8 367.6L372.8 367.5L374.8 367.5L376.8 367.7L378.8 368.1L380.8 368.7L382.8 369.6L384.8 370.6L386.8 371.8L388.8 372.9L390.8 373.9L392.8 374.6L394.8 375L396.8 375L398.8 374.4L400.8 373.2L402.8 371.9L404.8 370.7L406.8 369.8L408.8 369.3L410.8 369.1L412.8 369.1L414.8 369.1L416.8 369.1L418.8 369L420.8 369L422.8 368.8L424.8 368.7L426.8 368.6L428.8 368.4L430.8 368.3L432.8 368.1L434.8 367.9L436.8 367.7L438.8 367.6L440.8 367.4L442.8 367.3L444.8 367.1L446.8 367L448.8 366.9L450.8 366.8L452.8 366.7L454.8 366.7L456.8 366.6L458.8 366.5L460.8 366.5L462.8 366.5L464.8 366.5L466.8 366.5L468.8 366.5L470.8 366.5L472.8 366.5L474.8 366.5L476.8 366.5L478.8 366.6L480.8 366.6L482.8 366.7L484.8 366.7L486.8 366.8L488.8 366.8L490.8 366.9L492.8 366.9L494.8 367L496.8 367L498.8 367.1L500.8 367.1L502.8 367.2L504.8 367.2L506.8 367.3L508.8 367.3L510.8 367.3L512.8 367.3L514.8 367.3" class="k"/>
<path d="M344.8 356.6L346.8 356.6L348.8 356.6L350.8 356.7L352.8 356.7L354.8 356.7L356.8 356.7L358.8 356.7L360.8 356.7L362.8 356.7L364.8 356.7L366.8 356.7L368.8 356.7L370.8 356.6L372.8 356.5L374.8 356.5L376.8 356.5L378.8 356.7L380.8 357L382.8 357.6L384.8 358.4L386.8 359.3L388.8 360.3L390.8 361.3L392.8 362.1L394.8 362.7L396.8 363L398.8 362.9L400.8 362.3L402.8 361.2L404.8 360L406.8 359.1L408.8 358.4L410.8 358.1L412.8 358L414.8 358L416.8 358L418.8 357.9L420.8 357.8L422.8 357.7L424.8 357.6L426.8 357.4L428.8 357.2L430.8 357.1L432.8 356.9L434.8 356.7L436.8 356.5L438.8 356.3L440.8 356.2L442.8 356L444.8 355.9L446.8 355.7L448.8 355.6L450.8 355.5L452.8 355.5L454.8 355.4L456.8 355.4L458.8 355.3L460.8 355.3L462.8 355.3L464.8 355.3L466.8 355.3L468.8 355.3L470.8 355.4L472.8 355.4L474.8 355.4L476.8 355.5L478.8 355.5L480.8 355.6L482.8 355.6L484.8 355.7L486.8 355.7L488.8 355.7L490.8 355.8L492.8 355.8L494.8 355.9L496.8 355.9L498.8 355.9L500.8 355.9L502.8 355.9L504.8 355.9L506.8 355.9L508.8 355.9L510.8 355.9L512.8 355.9L514.8 355.9" class="k"/>
<path d="M344.8 344.8L346.8 344.8L348.8 344.8L350.8 344.8L352.8 344.8L354.8 344.8L356.8 344.8L358.8 344.8L360.8 344.8L362.8 344.8L364.8 344.8L366.8 344.8L368.8 344.8L370.8 344.7L372.8 344.7L374.8 344.6L376.8 344.6L378.8 344.6L380.8 344.8L382.8 345.2L384.8 345.8L386.8 346.5L388.8 347.4L390.8 348.3L392.8 349.2L394.8 350L396.8 350.5L398.8 350.8L400.8 350.7L402.8 350.2L404.8 349.3L406.8 348.4L408.8 347.8L410.8 347.4L412.8 347.3L414.8 347.3L416.8 347.4L418.8 347.4L420.8 347.3L422.8 347.2L424.8 347L426.8 346.9L428.8 346.7L430.8 346.5L432.8 346.2L434.8 346L436.8 345.7L438.8 345.5L440.8 345.2L442.8 345L444.8 344.7L446.8 344.5L448.8 344.3L450.8 344.1L452.8 344L454.8 343.8L456.8 343.7L458.8 343.6L460.8 343.5L462.8 343.4L464.8 343.4L466.8 343.3L468.8 343.3L470.8 343.3L472.8 343.3L474.8 343.3L476.8 343.3L478.8 343.4L480.8 343.4L482.8 343.5L484.8 343.5L486.8 343.6L488.8 343.6L490.8 343.7L492.8 343.8L494.8 343.9L496.8 343.9L498.8 344L500.8 344.1L502.8 344.2L504.8 344.2L506.8 344.3L508.8 344.4L510.8 344.4L512.8 344.5L514.8 344.5" class="k"/>
<path d="M344.8 334.6L346.8 334.6L348.8 334.6L350.8 334.6L352.8 334.6L354.8 334.6L356.8 334.6L358.8 334.6L360.8 334.6L362.8 334.6L364.8 334.6L366.8 334.6L368.8 334.6L370.8 334.5L372.8 334.5L374.8 334.4L376.8 334.3L378.8 334.3L380.8 334.3L382.8 334.4L384.8 334.8L386.8 335.3L388.8 335.9L390.8 336.7L392.8 337.4L394.8 338.1L396.8 338.7L398.8 339.1L400.8 339.3L402.8 339.1L404.8 338.6L406.8 337.9L408.8 337.2L410.8 336.8L412.8 336.6L414.8 336.7L416.8 336.8L418.8 336.9L420.8 336.8L422.8 336.7L424.8 336.5L426.8 336.3L428.8 336.1L430.8 335.9L432.8 335.6L434.8 335.3L436.8 335L438.8 334.7L440.8 334.4L442.8 334.1L444.8 333.8L446.8 333.6L448.8 333.4L450.8 333.2L452.8 333L454.8 332.8L456.8 332.7L458.8 332.5L460.8 332.4L462.8 332.4L464.8 332.3L466.8 332.3L468.8 332.3L470.8 332.2L472.8 332.3L474.8 332.3L476.8 332.3L478.8 332.3L480.8 332.4L482.8 332.4L484.8 332.4L486.8 332.5L488.8 332.5L490.8 332.6L492.8 332.6L494.8 332.7L496.8 332.7L498.8 332.8L500.8 332.8L502.8 332.8L504.8 332.8L506.8 332.9L508.8 332.9L510.8 332.8L512.8 332.8L514.8 332.8" class="k"/>
<path d="M344.8 324.4L346.8 324.4L348.8 324.4L350.8 324.4L352.8 324.4L354.8 324.4L356.8 324.4L358.8 324.4L360.8 324.3L362.8 324.3L364.8 324.3L366.8 324.3L368.8 324.2L370.8 324.2L372.8 324.1L374.8 324.1L376.8 324L378.8 323.9L380.8 323.8L382.8 323.8L384.8 323.9L386.8 324.2L388.8 324.6L390.8 325.1L392.8 325.7L394.8 326.3L396.8 326.9L398.8 327.3L400.8 327.6L402.8 327.7L404.8 327.5L406.8 327.1L408.8 326.5L410.8 326.1L412.8 326L414.8 326.1L416.8 326.3L418.8 326.6L420.8 326.8L422.8 326.7L424.8 326.6L426.8 326.4L428.8 326.2L430.8 326L432.8 325.8L434.8 325.5L436.8 325.2L438.8 324.8L440.8 324.5L442.8 324.2L444.8 323.9L446.8 323.6L448.8 323.3L450.8 323L452.8 322.8L454.8 322.6L456.8 322.4L458.8 322.2L460.8 322.1L462.8 321.9L464.8 321.8L466.8 321.8L468.8 321.7L470.8 321.7L472.8 321.6L474.8 321.6L476.8 321.6L478.8 321.6L480.8 321.6L482.8 321.6L484.8 321.6L486.8 321.6L488.8 321.7L490.8 321.7L492.8 321.7L494.8 321.7L496.8 321.7L498.8 321.7L500.8 321.7L502.8 321.7L504.8 321.7L506.8 321.7L508.8 321.7L510.8 321.6L512.8 321.6L514.8 321.6" class="k"/>
<path d="M344.8 310.8L346.8 310.8L348.8 310.8L350.8 310.8L352.8 310.8L354.8 310.7L356.8 310.7L358.8 310.7L360.8 310.7L362.8 310.6L364.8 310.6L366.8 310.6L368.8 310.6L370.8 310.6L372.8 310.5L374.8 310.5L376.8 310.4L378.8 310.4L380.8 310.3L382.8 310.3L384.8 310.3L386.8 310.4L388.8 310.7L390.8 311.1L392.8 311.6L394.8 312.2L396.8 312.7L398.8 313.2L400.8 313.7L402.8 313.9L404.8 314.1L406.8 314L408.8 313.7L410.8 313.5L412.8 313.4L414.8 313.5L416.8 313.9L418.8 314.4L420.8 315L422.8 315.4L424.8 315.6L426.8 315.6L428.8 315.6L430.8 315.4L432.8 315.3L434.8 315L436.8 314.8L438.8 314.5L440.8 314.1L442.8 313.8L444.8 313.4L446.8 313L448.8 312.7L450.8 312.3L452.8 312L454.8 311.6L456.8 311.3L458.8 311L460.8 310.7L462.8 310.5L464.8 310.3L466.8 310.1L468.8 309.9L470.8 309.8L472.8 309.6L474.8 309.5L476.8 309.4L478.8 309.4L480.8 309.3L482.8 309.3L484.8 309.3L486.8 309.3L488.8 309.3L490.8 309.3L492.8 309.3L494.8 309.4L496.8 309.4L498.8 309.5L500.8 309.5L502.8 309.6L504.8 309.7L506.8 309.8L508.8 309.9L510.8 309.9L512.8 310L514.8 310.1" class="k"/>
<path d="M344.8 302.4L346.8 302.4L348.8 302.4L350.8 302.4L352.8 302.4L354.8 302.4L356.8 302.4L358.8 302.4L360.8 302.4L362.8 302.3L364.8 302.3L366.8 302.3L368.8 302.3L370.8 302.3L372.8 302.3L374.8 302.2L376.8 302.2L378.8 302.1L380.8 302L382.8 301.9L384.8 301.8L386.8 301.8L388.8 301.9L390.8 302.1L392.8 302.4L394.8 302.8L396.8 303.1L398.8 303.5L400.8 303.8L402.8 304L404.8 304.1L406.8 304.1L408.8 303.9L410.8 303.6L412.8 303.3L414.8 303.2L416.8 303.4L418.8 303.9L420.8 304.5L422.8 305.2L424.8 305.7L426.8 306.1L428.8 306.2L430.8 306L432.8 305.9L434.8 305.7L436.8 305.4L438.8 305.1L440.8 304.7L442.8 304.3L444.8 303.9L446.8 303.5L448.8 303.1L450.8 302.6L452.8 302.2L454.8 301.8L456.8 301.5L458.8 301.1L460.8 300.8L462.8 300.5L464.8 300.3L466.8 300L468.8 299.8L470.8 299.7L472.8 299.6L474.8 299.4L476.8 299.4L478.8 299.3L480.8 299.3L482.8 299.2L484.8 299.2L486.8 299.2L488.8 299.3L490.8 299.3L492.8 299.3L494.8 299.4L496.8 299.4L498.8 299.4L500.8 299.5L502.8 299.5L504.8 299.5L506.8 299.6L508.8 299.6L510.8 299.6L512.8 299.6L514.8 299.6" class="k"/>
<path d="M344.8 290.4L346.8 290.4L348.8 290.4L350.8 290.4L352.8 290.3L354.8 290.3L356.8 290.3L358.8 290.3L360.8 290.3L362.8 290.3L364.8 290.2L366.8 290.2L368.8 290.2L370.8 290.2L372.8 290.2L374.8 290.2L376.8 290.2L378.8 290.2L380.8 290.1L382.8 290.1L384.8 290L386.8 290L388.8 290.1L390.8 290.2L392.8 290.4L394.8 290.7L396.8 291.1L398.8 291.4L400.8 291.8L402.8 292L404.8 292.2L406.8 292.3L408.8 292.3L410.8 292.1L412.8 291.9L414.8 291.7L416.8 291.6L418.8 291.8L420.8 292.2L422.8 292.9L424.8 293.7L426.8 294.6L428.8 295.4L430.8 296L432.8 296.2L434.8 296.2L436.8 296L438.8 295.8L440.8 295.5L442.8 295.2L444.8 294.8L446.8 294.4L448.8 293.9L450.8 293.4L452.8 292.9L454.8 292.4L456.8 291.9L458.8 291.4L460.8 290.9L462.8 290.5L464.8 290.1L466.8 289.7L468.8 289.3L470.8 289L472.8 288.7L474.8 288.5L476.8 288.3L478.8 288.1L480.8 288L482.8 287.9L484.8 287.8L486.8 287.8L488.8 287.7L490.8 287.8L492.8 287.8L494.8 287.8L496.8 287.9L498.8 288L500.8 288.1L502.8 288.2L504.8 288.3L506.8 288.4L508.8 288.5L510.8 288.6L512.8 288.8L514.8 288.9" class="k"/>
<path d="M344.8 278.9L346.8 278.9L348.8 278.9L350.8 278.9L352.8 278.9L354.8 278.9L356.8 278.9L358.8 278.9L360.8 278.9L362.8 278.9L364.8 278.9L366.8 278.9L368.8 278.9L370.8 278.9L372.8 278.9L374.8 278.9L376.8 278.9L378.8 278.9L380.8 278.9L382.8 278.8L384.8 278.7L386.8 278.7L388.8 278.6L390.8 278.6L392.8 278.7L394.8 278.8L396.8 279L398.8 279.2L400.8 279.5L402.8 279.7L404.8 279.8L406.8 279.9L408.8 279.9L410.8 279.8L412.8 279.6L414.8 279.3L416.8 279L418.8 278.9L420.8 278.8L422.8 279L424.8 279.4L426.8 279.9L428.8 280.7L430.8 281.7L432.8 282.7L434.8 283.6L436.8 284.3L438.8 284.7L440.8 284.7L442.8 284.6L444.8 284.4L446.8 284.1L448.8 283.8L450.8 283.4L452.8 283L454.8 282.6L456.8 282.1L458.8 281.6L460.8 281.1L462.8 280.6L464.8 280.1L466.8 279.7L468.8 279.2L470.8 278.8L472.8 278.4L474.8 278.1L476.8 277.8L478.8 277.5L480.8 277.2L482.8 277L484.8 276.9L486.8 276.7L488.8 276.6L490.8 276.5L492.8 276.5L494.8 276.5L496.8 276.5L498.8 276.5L500.8 276.5L502.8 276.5L504.8 276.5L506.8 276.6L508.8 276.6L510.8 276.7L512.8 276.7L514.8 276.8" class="k"/>
<path d="M344.8 269.7L346.8 269.7L348.8 269.7L350.8 269.7L352.8 269.6L354.8 269.6L356.8 269.6L358.8 269.6L360.8 269.5L362.8 269.5L364.8 269.5L366.8 269.4L368.8 269.4L370.8 269.3L372.8 269.3L374.8 269.2L376.8 269.2L378.8 269.1L380.8 269L382.8 268.9L384.8 268.8L386.8 268.7L388.8 268.6L390.8 268.5L392.8 268.4L394.8 268.4L396.8 268.5L398.8 268.6L400.8 268.7L402.8 268.8L404.8 268.9L406.8 268.9L408.8 268.9L410.8 268.9L412.8 268.8L414.8 268.6L416.8 268.4L418.8 268.2L420.8 268.1L422.8 268L424.8 268L426.8 268.2L428.8 268.4L430.8 268.9L432.8 269.5L434.8 270.4L436.8 271.5L438.8 272.7L440.8 273.8L442.8 274.8L444.8 275.3L446.8 275.5L448.8 275.4L450.8 275.2L452.8 275L454.8 274.7L456.8 274.3L458.8 273.9L460.8 273.4L462.8 272.9L464.8 272.4L466.8 271.9L468.8 271.3L470.8 270.7L472.8 270.2L474.8 269.6L476.8 269.1L478.8 268.6L480.8 268.1L482.8 267.7L484.8 267.3L486.8 266.9L488.8 266.6L490.8 266.3L492.8 266L494.8 265.8L496.8 265.6L498.8 265.4L500.8 265.3L502.8 265.1L504.8 265L506.8 265L508.8 264.9L510.8 264.9L512.8 264.8L514.8 264.8" class="k"/>
<path d="M392.3 401.5L411.5 260.8" class="r"/>
<path d="M416.8 400.8L416.8 395.4L416.8 389.9L416.8 384.5L416.9 379L417 373.6L417.2 368.1L417.4 362.7L417.8 357.3L418.2 351.8L418.8 346.4L419.5 340.9L420.4 335.5L421.5 330.1L422.8 324.6L424.3 319.2L426 313.7L428 308.3L430.3 302.9L432.9 297.4L435.8 292L439.1 286.5L442.7 281.1L446.7 275.6L451.2 270.2" class="r"/>
<path d="M414.2 256.7V405" class="r" stroke-dasharray="3.8 2.4"/>

</svg>
<div class="wm" id="w1"><span>TG: MYYJJPP</span></div>
<div class="wm" id="w2"><span>skill–ued.com</span></div>
</body></html>
